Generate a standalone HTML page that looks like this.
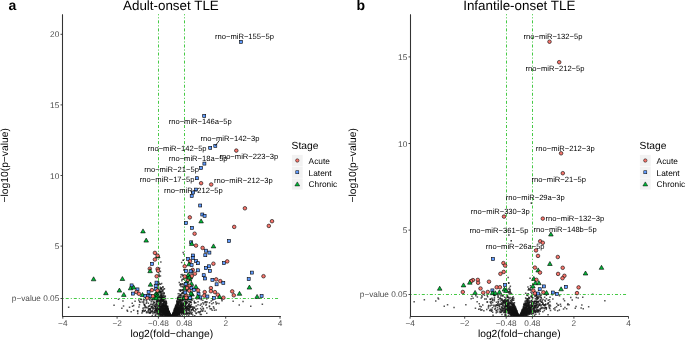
<!DOCTYPE html><html><head><meta charset="utf-8"><style>html,body{margin:0;padding:0;background:#fff;}svg{display:block;will-change:transform;text-rendering:geometricPrecision;font-family:"Liberation Sans",sans-serif;}</style></head><body>
<svg width="685" height="340" viewBox="0 0 685 340">
<rect width="685" height="340" fill="#fff"/>
<text x="8.6" y="9.8" font-size="14" font-weight="bold" fill="#000">a</text>
<text x="123.0" y="10" font-size="13.4" fill="#000">Adult-onset TLE</text>
<text x="8.5" y="165.3" font-size="10.3" fill="#000" text-anchor="middle" transform="rotate(-90 8.5 165.3)">−log10(p−value)</text>
<text x="171.75" y="337.2" font-size="10.3" fill="#000" text-anchor="middle">log2(fold−change)</text>
<path d="M163.2 304.0h1.5v1.5h-1.5zM172.8 313.4h1.5v1.5h-1.5zM160.5 314.3h1.5v1.5h-1.5zM193.5 300.5h1.5v1.5h-1.5zM172.1 313.6h1.5v1.5h-1.5zM171.1 315.6h1.5v1.5h-1.5zM178.3 309.6h1.5v1.5h-1.5zM160.1 309.2h1.5v1.5h-1.5zM171.9 314.8h1.5v1.5h-1.5zM195.7 305.2h1.5v1.5h-1.5zM168.8 313.8h1.5v1.5h-1.5zM175.5 311.9h1.5v1.5h-1.5zM173.6 314.7h1.5v1.5h-1.5zM173.2 313.8h1.5v1.5h-1.5zM169.2 313.8h1.5v1.5h-1.5zM160.0 307.3h1.5v1.5h-1.5zM163.0 303.9h1.5v1.5h-1.5zM167.9 313.0h1.5v1.5h-1.5zM171.8 315.3h1.5v1.5h-1.5zM187.8 303.9h1.5v1.5h-1.5zM170.4 315.6h1.5v1.5h-1.5zM174.9 311.1h1.5v1.5h-1.5zM172.4 314.1h1.5v1.5h-1.5zM168.3 313.3h1.5v1.5h-1.5zM173.4 315.2h1.5v1.5h-1.5zM177.3 303.4h1.5v1.5h-1.5zM171.1 315.5h1.5v1.5h-1.5zM159.7 300.4h1.5v1.5h-1.5zM174.2 310.8h1.5v1.5h-1.5zM199.9 307.8h1.5v1.5h-1.5zM160.6 310.3h1.5v1.5h-1.5zM171.3 315.6h1.5v1.5h-1.5zM157.5 304.9h1.5v1.5h-1.5zM182.6 305.3h1.5v1.5h-1.5zM161.7 297.4h1.5v1.5h-1.5zM190.2 311.6h1.5v1.5h-1.5zM144.0 305.2h1.5v1.5h-1.5zM177.2 310.8h1.5v1.5h-1.5zM173.5 310.9h1.5v1.5h-1.5zM181.4 304.2h1.5v1.5h-1.5zM155.4 307.4h1.5v1.5h-1.5zM168.6 312.7h1.5v1.5h-1.5zM183.2 295.9h1.5v1.5h-1.5zM156.9 297.9h1.5v1.5h-1.5zM173.2 313.8h1.5v1.5h-1.5zM181.3 308.2h1.5v1.5h-1.5zM180.4 307.0h1.5v1.5h-1.5zM178.3 307.4h1.5v1.5h-1.5zM165.7 313.7h1.5v1.5h-1.5zM166.1 312.3h1.5v1.5h-1.5zM162.0 310.2h1.5v1.5h-1.5zM162.4 309.6h1.5v1.5h-1.5zM169.9 315.5h1.5v1.5h-1.5zM161.5 306.0h1.5v1.5h-1.5zM175.9 309.9h1.5v1.5h-1.5zM161.3 310.7h1.5v1.5h-1.5zM176.5 310.3h1.5v1.5h-1.5zM180.0 308.9h1.5v1.5h-1.5zM261.6 303.4h1.5v1.5h-1.5zM177.7 313.2h1.5v1.5h-1.5zM167.3 310.8h1.5v1.5h-1.5zM171.3 315.5h1.5v1.5h-1.5zM170.7 315.6h1.5v1.5h-1.5zM159.0 303.6h1.5v1.5h-1.5zM176.7 298.2h1.5v1.5h-1.5zM166.3 315.1h1.5v1.5h-1.5zM168.1 314.0h1.5v1.5h-1.5zM172.0 314.9h1.5v1.5h-1.5zM163.6 298.0h1.5v1.5h-1.5zM166.7 314.7h1.5v1.5h-1.5zM169.8 315.1h1.5v1.5h-1.5zM174.6 314.4h1.5v1.5h-1.5zM187.5 307.8h1.5v1.5h-1.5zM186.2 302.0h1.5v1.5h-1.5zM166.1 308.5h1.5v1.5h-1.5zM171.7 314.3h1.5v1.5h-1.5zM188.3 305.6h1.5v1.5h-1.5zM162.3 309.6h1.5v1.5h-1.5zM176.2 311.9h1.5v1.5h-1.5zM159.7 298.2h1.5v1.5h-1.5zM166.0 313.6h1.5v1.5h-1.5zM179.8 294.3h1.5v1.5h-1.5zM179.7 311.8h1.5v1.5h-1.5zM156.2 309.7h1.5v1.5h-1.5zM172.1 313.9h1.5v1.5h-1.5zM168.5 314.8h1.5v1.5h-1.5zM168.3 314.1h1.5v1.5h-1.5zM173.0 313.3h1.5v1.5h-1.5zM180.0 306.0h1.5v1.5h-1.5zM172.6 313.3h1.5v1.5h-1.5zM164.6 312.5h1.5v1.5h-1.5zM172.1 314.5h1.5v1.5h-1.5zM173.5 314.7h1.5v1.5h-1.5zM178.7 310.2h1.5v1.5h-1.5zM170.6 315.6h1.5v1.5h-1.5zM170.2 315.4h1.5v1.5h-1.5zM157.6 305.6h1.5v1.5h-1.5zM170.7 315.6h1.5v1.5h-1.5zM176.2 309.7h1.5v1.5h-1.5zM173.3 312.3h1.5v1.5h-1.5zM171.3 315.6h1.5v1.5h-1.5zM158.9 267.4h1.5v1.5h-1.5zM176.8 311.2h1.5v1.5h-1.5zM159.6 290.4h1.5v1.5h-1.5zM171.3 315.4h1.5v1.5h-1.5zM181.2 307.0h1.5v1.5h-1.5zM164.0 309.7h1.5v1.5h-1.5zM149.5 308.9h1.5v1.5h-1.5zM162.1 310.6h1.5v1.5h-1.5zM180.6 301.9h1.5v1.5h-1.5zM173.7 313.6h1.5v1.5h-1.5zM171.9 314.7h1.5v1.5h-1.5zM160.5 309.7h1.5v1.5h-1.5zM170.2 315.6h1.5v1.5h-1.5zM165.3 313.5h1.5v1.5h-1.5zM180.8 296.3h1.5v1.5h-1.5zM161.0 293.9h1.5v1.5h-1.5zM171.4 314.8h1.5v1.5h-1.5zM174.6 310.2h1.5v1.5h-1.5zM169.2 313.2h1.5v1.5h-1.5zM162.3 295.2h1.5v1.5h-1.5zM144.2 304.9h1.5v1.5h-1.5zM171.2 315.3h1.5v1.5h-1.5zM170.6 315.6h1.5v1.5h-1.5zM175.5 312.7h1.5v1.5h-1.5zM169.0 314.5h1.5v1.5h-1.5zM185.0 301.0h1.5v1.5h-1.5zM171.5 315.5h1.5v1.5h-1.5zM160.2 311.0h1.5v1.5h-1.5zM180.5 308.1h1.5v1.5h-1.5zM193.9 302.3h1.5v1.5h-1.5zM166.0 309.6h1.5v1.5h-1.5zM176.7 311.5h1.5v1.5h-1.5zM167.0 314.1h1.5v1.5h-1.5zM154.5 312.3h1.5v1.5h-1.5zM170.6 315.6h1.5v1.5h-1.5zM171.2 315.0h1.5v1.5h-1.5zM195.1 302.0h1.5v1.5h-1.5zM188.3 310.0h1.5v1.5h-1.5zM162.7 294.3h1.5v1.5h-1.5zM168.9 315.5h1.5v1.5h-1.5zM181.7 300.3h1.5v1.5h-1.5zM159.7 296.4h1.5v1.5h-1.5zM170.0 315.5h1.5v1.5h-1.5zM162.3 312.1h1.5v1.5h-1.5zM174.9 308.6h1.5v1.5h-1.5zM172.5 314.4h1.5v1.5h-1.5zM182.5 312.0h1.5v1.5h-1.5zM190.1 301.4h1.5v1.5h-1.5zM171.0 315.6h1.5v1.5h-1.5zM159.9 312.9h1.5v1.5h-1.5zM206.2 307.0h1.5v1.5h-1.5zM193.7 307.6h1.5v1.5h-1.5zM187.2 300.3h1.5v1.5h-1.5zM174.2 312.5h1.5v1.5h-1.5zM147.4 310.5h1.5v1.5h-1.5zM169.1 314.1h1.5v1.5h-1.5zM152.7 302.6h1.5v1.5h-1.5zM167.3 312.0h1.5v1.5h-1.5zM189.4 306.7h1.5v1.5h-1.5zM178.5 300.3h1.5v1.5h-1.5zM170.1 315.5h1.5v1.5h-1.5zM175.2 314.8h1.5v1.5h-1.5zM215.4 309.3h1.5v1.5h-1.5zM174.6 307.8h1.5v1.5h-1.5zM170.3 315.5h1.5v1.5h-1.5zM166.2 313.1h1.5v1.5h-1.5zM179.7 309.6h1.5v1.5h-1.5zM181.7 314.5h1.5v1.5h-1.5zM167.8 314.2h1.5v1.5h-1.5zM179.8 304.0h1.5v1.5h-1.5zM175.1 312.7h1.5v1.5h-1.5zM169.2 315.0h1.5v1.5h-1.5zM170.2 315.6h1.5v1.5h-1.5zM159.2 312.3h1.5v1.5h-1.5zM179.3 307.5h1.5v1.5h-1.5zM165.4 310.5h1.5v1.5h-1.5zM173.4 315.0h1.5v1.5h-1.5zM157.7 283.8h1.5v1.5h-1.5zM179.0 299.0h1.5v1.5h-1.5zM171.3 315.4h1.5v1.5h-1.5zM175.1 309.0h1.5v1.5h-1.5zM168.3 312.3h1.5v1.5h-1.5zM170.6 315.6h1.5v1.5h-1.5zM167.6 314.2h1.5v1.5h-1.5zM162.7 310.5h1.5v1.5h-1.5zM180.4 304.1h1.5v1.5h-1.5zM165.3 314.1h1.5v1.5h-1.5zM177.2 311.6h1.5v1.5h-1.5zM166.3 309.5h1.5v1.5h-1.5zM173.8 314.6h1.5v1.5h-1.5zM169.2 314.4h1.5v1.5h-1.5zM174.9 308.0h1.5v1.5h-1.5zM165.3 308.8h1.5v1.5h-1.5zM185.8 305.9h1.5v1.5h-1.5zM143.6 303.7h1.5v1.5h-1.5zM167.9 313.6h1.5v1.5h-1.5zM185.7 312.1h1.5v1.5h-1.5zM163.2 302.2h1.5v1.5h-1.5zM171.7 314.9h1.5v1.5h-1.5zM169.0 315.3h1.5v1.5h-1.5zM177.5 302.7h1.5v1.5h-1.5zM177.2 313.2h1.5v1.5h-1.5zM179.9 283.1h1.5v1.5h-1.5zM160.8 312.3h1.5v1.5h-1.5zM170.7 315.6h1.5v1.5h-1.5zM172.5 315.1h1.5v1.5h-1.5zM162.9 306.0h1.5v1.5h-1.5zM177.4 308.1h1.5v1.5h-1.5zM165.2 310.9h1.5v1.5h-1.5zM159.1 289.3h1.5v1.5h-1.5zM170.6 315.6h1.5v1.5h-1.5zM169.7 314.6h1.5v1.5h-1.5zM164.2 299.8h1.5v1.5h-1.5zM166.9 314.1h1.5v1.5h-1.5zM171.0 315.5h1.5v1.5h-1.5zM170.7 315.6h1.5v1.5h-1.5zM165.8 314.6h1.5v1.5h-1.5zM170.8 315.6h1.5v1.5h-1.5zM148.8 312.0h1.5v1.5h-1.5zM160.6 298.2h1.5v1.5h-1.5zM168.9 313.6h1.5v1.5h-1.5zM172.6 313.5h1.5v1.5h-1.5zM162.6 304.1h1.5v1.5h-1.5zM169.8 315.4h1.5v1.5h-1.5zM170.1 315.6h1.5v1.5h-1.5zM165.0 311.0h1.5v1.5h-1.5zM178.5 306.6h1.5v1.5h-1.5zM181.3 299.7h1.5v1.5h-1.5zM164.4 308.4h1.5v1.5h-1.5zM238.5 304.2h1.5v1.5h-1.5zM178.4 308.2h1.5v1.5h-1.5zM153.7 311.7h1.5v1.5h-1.5zM164.0 309.7h1.5v1.5h-1.5zM164.4 311.3h1.5v1.5h-1.5zM174.7 312.6h1.5v1.5h-1.5zM167.2 309.0h1.5v1.5h-1.5zM189.3 305.0h1.5v1.5h-1.5zM177.0 309.7h1.5v1.5h-1.5zM170.5 315.6h1.5v1.5h-1.5zM171.8 315.6h1.5v1.5h-1.5zM188.7 303.5h1.5v1.5h-1.5zM174.5 313.9h1.5v1.5h-1.5zM170.8 315.6h1.5v1.5h-1.5zM184.7 307.4h1.5v1.5h-1.5zM171.6 315.2h1.5v1.5h-1.5zM164.9 311.9h1.5v1.5h-1.5zM162.0 296.7h1.5v1.5h-1.5zM164.9 309.8h1.5v1.5h-1.5zM175.4 312.4h1.5v1.5h-1.5zM157.7 281.1h1.5v1.5h-1.5zM180.1 309.1h1.5v1.5h-1.5zM170.3 315.6h1.5v1.5h-1.5zM167.6 314.0h1.5v1.5h-1.5zM195.4 305.2h1.5v1.5h-1.5zM160.9 302.1h1.5v1.5h-1.5zM175.3 306.2h1.5v1.5h-1.5zM158.5 275.8h1.5v1.5h-1.5zM176.9 307.8h1.5v1.5h-1.5zM161.5 289.4h1.5v1.5h-1.5zM152.0 304.3h1.5v1.5h-1.5zM205.6 303.5h1.5v1.5h-1.5zM154.6 311.7h1.5v1.5h-1.5zM158.0 281.8h1.5v1.5h-1.5zM167.9 314.7h1.5v1.5h-1.5zM173.4 313.5h1.5v1.5h-1.5zM187.1 306.3h1.5v1.5h-1.5zM171.2 315.6h1.5v1.5h-1.5zM168.1 314.6h1.5v1.5h-1.5zM163.0 301.2h1.5v1.5h-1.5zM168.4 313.9h1.5v1.5h-1.5zM183.7 303.0h1.5v1.5h-1.5zM180.3 302.6h1.5v1.5h-1.5zM176.8 313.1h1.5v1.5h-1.5zM166.8 312.3h1.5v1.5h-1.5zM165.5 304.9h1.5v1.5h-1.5zM164.2 300.1h1.5v1.5h-1.5zM155.8 309.1h1.5v1.5h-1.5zM161.9 307.8h1.5v1.5h-1.5zM166.4 308.5h1.5v1.5h-1.5zM184.6 309.8h1.5v1.5h-1.5zM170.7 315.6h1.5v1.5h-1.5zM150.5 310.7h1.5v1.5h-1.5zM164.6 307.4h1.5v1.5h-1.5zM172.3 313.4h1.5v1.5h-1.5zM165.4 308.1h1.5v1.5h-1.5zM159.1 304.8h1.5v1.5h-1.5zM178.9 312.0h1.5v1.5h-1.5zM169.1 314.3h1.5v1.5h-1.5zM164.5 314.2h1.5v1.5h-1.5zM178.9 298.6h1.5v1.5h-1.5zM186.0 308.1h1.5v1.5h-1.5zM166.4 308.1h1.5v1.5h-1.5zM166.8 313.6h1.5v1.5h-1.5zM163.1 302.7h1.5v1.5h-1.5zM159.3 308.5h1.5v1.5h-1.5zM167.0 311.3h1.5v1.5h-1.5zM171.1 315.5h1.5v1.5h-1.5zM165.5 314.9h1.5v1.5h-1.5zM154.5 310.1h1.5v1.5h-1.5zM176.0 310.3h1.5v1.5h-1.5zM185.5 303.1h1.5v1.5h-1.5zM164.4 308.1h1.5v1.5h-1.5zM164.4 313.1h1.5v1.5h-1.5zM200.0 310.5h1.5v1.5h-1.5zM181.1 305.4h1.5v1.5h-1.5zM168.1 314.4h1.5v1.5h-1.5zM160.8 292.6h1.5v1.5h-1.5zM166.0 312.6h1.5v1.5h-1.5zM185.2 307.3h1.5v1.5h-1.5zM171.7 315.1h1.5v1.5h-1.5zM165.9 310.0h1.5v1.5h-1.5zM164.0 311.8h1.5v1.5h-1.5zM166.5 307.3h1.5v1.5h-1.5zM186.2 298.9h1.5v1.5h-1.5zM162.4 314.7h1.5v1.5h-1.5zM179.8 300.4h1.5v1.5h-1.5zM170.3 315.6h1.5v1.5h-1.5zM160.0 302.0h1.5v1.5h-1.5zM175.1 310.8h1.5v1.5h-1.5zM171.5 315.6h1.5v1.5h-1.5zM174.9 314.2h1.5v1.5h-1.5zM149.8 311.7h1.5v1.5h-1.5zM174.0 309.9h1.5v1.5h-1.5zM143.5 310.6h1.5v1.5h-1.5zM159.9 308.8h1.5v1.5h-1.5zM168.7 314.0h1.5v1.5h-1.5zM167.3 310.8h1.5v1.5h-1.5zM163.4 313.1h1.5v1.5h-1.5zM167.5 308.7h1.5v1.5h-1.5zM183.3 309.1h1.5v1.5h-1.5zM163.2 301.2h1.5v1.5h-1.5zM167.7 310.3h1.5v1.5h-1.5zM151.5 305.9h1.5v1.5h-1.5zM160.6 311.3h1.5v1.5h-1.5zM180.4 306.7h1.5v1.5h-1.5zM185.7 307.6h1.5v1.5h-1.5zM165.4 310.8h1.5v1.5h-1.5zM171.7 315.2h1.5v1.5h-1.5zM164.7 314.0h1.5v1.5h-1.5zM184.8 304.8h1.5v1.5h-1.5zM173.4 313.2h1.5v1.5h-1.5zM172.6 314.8h1.5v1.5h-1.5zM186.6 305.5h1.5v1.5h-1.5zM176.7 311.2h1.5v1.5h-1.5zM170.6 315.6h1.5v1.5h-1.5zM175.7 306.9h1.5v1.5h-1.5zM168.2 312.4h1.5v1.5h-1.5zM180.3 306.4h1.5v1.5h-1.5zM177.0 310.5h1.5v1.5h-1.5zM175.1 308.1h1.5v1.5h-1.5zM167.5 310.2h1.5v1.5h-1.5zM172.2 313.8h1.5v1.5h-1.5zM141.9 310.1h1.5v1.5h-1.5zM179.0 302.0h1.5v1.5h-1.5zM160.6 315.0h1.5v1.5h-1.5zM171.4 315.1h1.5v1.5h-1.5zM170.1 315.5h1.5v1.5h-1.5zM168.4 313.9h1.5v1.5h-1.5zM163.6 301.5h1.5v1.5h-1.5zM167.1 312.5h1.5v1.5h-1.5zM173.7 312.6h1.5v1.5h-1.5zM186.6 313.3h1.5v1.5h-1.5zM171.5 314.9h1.5v1.5h-1.5zM182.5 259.4h1.5v1.5h-1.5zM172.8 315.1h1.5v1.5h-1.5zM150.0 303.5h1.5v1.5h-1.5zM168.9 312.9h1.5v1.5h-1.5zM154.7 305.8h1.5v1.5h-1.5zM175.9 307.6h1.5v1.5h-1.5zM171.1 315.3h1.5v1.5h-1.5zM164.4 308.1h1.5v1.5h-1.5zM179.2 305.0h1.5v1.5h-1.5zM168.2 312.6h1.5v1.5h-1.5zM157.6 310.8h1.5v1.5h-1.5zM175.8 312.7h1.5v1.5h-1.5zM170.3 315.6h1.5v1.5h-1.5zM176.8 302.3h1.5v1.5h-1.5zM170.9 315.6h1.5v1.5h-1.5zM162.6 311.7h1.5v1.5h-1.5zM181.8 298.3h1.5v1.5h-1.5zM164.6 305.6h1.5v1.5h-1.5zM180.6 309.2h1.5v1.5h-1.5zM168.9 313.7h1.5v1.5h-1.5zM171.0 315.6h1.5v1.5h-1.5zM167.9 310.7h1.5v1.5h-1.5zM166.7 315.1h1.5v1.5h-1.5zM171.0 315.6h1.5v1.5h-1.5zM171.3 315.6h1.5v1.5h-1.5zM162.8 309.2h1.5v1.5h-1.5zM165.7 307.6h1.5v1.5h-1.5zM167.8 314.0h1.5v1.5h-1.5zM169.8 315.4h1.5v1.5h-1.5zM164.7 310.3h1.5v1.5h-1.5zM168.3 314.1h1.5v1.5h-1.5zM180.1 311.8h1.5v1.5h-1.5zM165.6 311.3h1.5v1.5h-1.5zM162.4 305.1h1.5v1.5h-1.5zM159.1 297.1h1.5v1.5h-1.5zM165.1 312.5h1.5v1.5h-1.5zM164.7 313.2h1.5v1.5h-1.5zM162.1 298.7h1.5v1.5h-1.5zM178.1 300.9h1.5v1.5h-1.5zM169.3 314.4h1.5v1.5h-1.5zM166.3 310.6h1.5v1.5h-1.5zM179.7 290.1h1.5v1.5h-1.5zM173.7 315.3h1.5v1.5h-1.5zM171.2 315.2h1.5v1.5h-1.5zM191.3 308.7h1.5v1.5h-1.5zM170.0 314.8h1.5v1.5h-1.5zM177.6 297.4h1.5v1.5h-1.5zM166.0 312.0h1.5v1.5h-1.5zM174.5 309.2h1.5v1.5h-1.5zM169.0 315.3h1.5v1.5h-1.5zM178.5 308.8h1.5v1.5h-1.5zM184.9 306.4h1.5v1.5h-1.5zM173.0 314.7h1.5v1.5h-1.5zM162.7 311.0h1.5v1.5h-1.5zM161.9 290.7h1.5v1.5h-1.5zM170.1 315.2h1.5v1.5h-1.5zM168.7 313.7h1.5v1.5h-1.5zM211.9 299.2h1.5v1.5h-1.5zM170.6 315.6h1.5v1.5h-1.5zM158.5 305.3h1.5v1.5h-1.5zM173.3 310.5h1.5v1.5h-1.5zM170.3 315.4h1.5v1.5h-1.5zM177.2 307.4h1.5v1.5h-1.5zM163.0 301.2h1.5v1.5h-1.5zM171.6 315.2h1.5v1.5h-1.5zM168.6 315.2h1.5v1.5h-1.5zM180.5 311.0h1.5v1.5h-1.5zM177.1 312.4h1.5v1.5h-1.5zM173.9 313.2h1.5v1.5h-1.5zM173.0 314.1h1.5v1.5h-1.5zM146.1 301.3h1.5v1.5h-1.5zM183.2 292.3h1.5v1.5h-1.5zM167.2 311.4h1.5v1.5h-1.5zM168.3 312.7h1.5v1.5h-1.5zM165.6 301.1h1.5v1.5h-1.5zM178.7 313.4h1.5v1.5h-1.5zM181.1 309.8h1.5v1.5h-1.5zM161.4 313.9h1.5v1.5h-1.5zM159.6 299.2h1.5v1.5h-1.5zM211.1 303.1h1.5v1.5h-1.5zM168.5 315.4h1.5v1.5h-1.5zM161.0 305.3h1.5v1.5h-1.5zM165.0 304.1h1.5v1.5h-1.5zM157.3 312.2h1.5v1.5h-1.5zM172.7 313.9h1.5v1.5h-1.5zM166.2 308.9h1.5v1.5h-1.5zM175.8 310.7h1.5v1.5h-1.5zM171.6 314.5h1.5v1.5h-1.5zM165.4 314.2h1.5v1.5h-1.5zM186.3 302.5h1.5v1.5h-1.5zM179.8 312.0h1.5v1.5h-1.5zM169.2 314.7h1.5v1.5h-1.5zM173.0 311.9h1.5v1.5h-1.5zM166.4 311.2h1.5v1.5h-1.5zM178.2 309.0h1.5v1.5h-1.5zM172.2 315.1h1.5v1.5h-1.5zM189.6 311.7h1.5v1.5h-1.5zM163.2 292.3h1.5v1.5h-1.5zM188.1 308.4h1.5v1.5h-1.5zM166.3 313.8h1.5v1.5h-1.5zM174.8 313.7h1.5v1.5h-1.5zM170.8 315.6h1.5v1.5h-1.5zM171.2 315.5h1.5v1.5h-1.5zM159.2 313.9h1.5v1.5h-1.5zM175.1 306.9h1.5v1.5h-1.5zM164.9 304.3h1.5v1.5h-1.5zM178.3 310.0h1.5v1.5h-1.5zM169.1 315.4h1.5v1.5h-1.5zM170.6 315.6h1.5v1.5h-1.5zM176.9 309.3h1.5v1.5h-1.5zM171.8 314.3h1.5v1.5h-1.5zM128.8 306.6h1.5v1.5h-1.5zM151.8 307.5h1.5v1.5h-1.5zM156.1 302.2h1.5v1.5h-1.5zM148.0 308.4h1.5v1.5h-1.5zM167.6 315.0h1.5v1.5h-1.5zM164.9 311.9h1.5v1.5h-1.5zM172.5 313.8h1.5v1.5h-1.5zM192.0 307.7h1.5v1.5h-1.5zM176.5 313.5h1.5v1.5h-1.5zM148.1 310.8h1.5v1.5h-1.5zM164.7 307.8h1.5v1.5h-1.5zM179.9 303.9h1.5v1.5h-1.5zM180.9 261.8h1.5v1.5h-1.5zM184.7 307.9h1.5v1.5h-1.5zM162.1 309.8h1.5v1.5h-1.5zM159.8 283.5h1.5v1.5h-1.5zM160.1 305.6h1.5v1.5h-1.5zM175.4 311.3h1.5v1.5h-1.5zM167.8 314.0h1.5v1.5h-1.5zM176.8 312.4h1.5v1.5h-1.5zM181.0 307.0h1.5v1.5h-1.5zM170.8 315.6h1.5v1.5h-1.5zM205.2 304.4h1.5v1.5h-1.5zM170.9 315.6h1.5v1.5h-1.5zM183.5 297.6h1.5v1.5h-1.5z" fill="#111" fill-opacity="0.72"/>
<path d="M179.7 283.7h1.5v1.5h-1.5zM164.2 308.8h1.5v1.5h-1.5zM167.4 311.4h1.5v1.5h-1.5zM180.2 308.1h1.5v1.5h-1.5zM169.8 315.1h1.5v1.5h-1.5zM159.8 313.5h1.5v1.5h-1.5zM170.9 315.6h1.5v1.5h-1.5zM182.6 259.4h1.5v1.5h-1.5zM182.8 304.7h1.5v1.5h-1.5zM168.0 312.3h1.5v1.5h-1.5zM182.8 304.4h1.5v1.5h-1.5zM168.6 314.7h1.5v1.5h-1.5zM185.1 301.1h1.5v1.5h-1.5zM170.2 315.4h1.5v1.5h-1.5zM177.4 313.1h1.5v1.5h-1.5zM159.6 307.3h1.5v1.5h-1.5zM169.2 314.6h1.5v1.5h-1.5zM172.9 311.8h1.5v1.5h-1.5zM165.4 306.4h1.5v1.5h-1.5zM172.9 315.0h1.5v1.5h-1.5zM161.3 300.5h1.5v1.5h-1.5zM174.1 311.7h1.5v1.5h-1.5zM171.9 315.1h1.5v1.5h-1.5zM145.1 307.0h1.5v1.5h-1.5zM182.0 291.6h1.5v1.5h-1.5zM180.6 303.3h1.5v1.5h-1.5zM171.9 314.2h1.5v1.5h-1.5zM174.4 313.7h1.5v1.5h-1.5zM164.0 309.7h1.5v1.5h-1.5zM189.5 307.0h1.5v1.5h-1.5zM168.8 313.7h1.5v1.5h-1.5zM179.8 304.0h1.5v1.5h-1.5zM174.3 311.1h1.5v1.5h-1.5zM161.0 309.9h1.5v1.5h-1.5zM173.2 313.6h1.5v1.5h-1.5zM173.8 311.4h1.5v1.5h-1.5zM165.9 311.6h1.5v1.5h-1.5zM155.5 305.0h1.5v1.5h-1.5zM165.4 313.3h1.5v1.5h-1.5zM177.2 313.1h1.5v1.5h-1.5zM181.4 310.4h1.5v1.5h-1.5zM173.7 312.3h1.5v1.5h-1.5zM168.0 311.3h1.5v1.5h-1.5zM160.6 309.7h1.5v1.5h-1.5zM170.3 315.6h1.5v1.5h-1.5zM131.5 302.4h1.5v1.5h-1.5zM180.6 309.5h1.5v1.5h-1.5zM172.1 314.9h1.5v1.5h-1.5zM163.3 310.4h1.5v1.5h-1.5zM149.2 299.6h1.5v1.5h-1.5zM188.6 308.0h1.5v1.5h-1.5zM173.1 312.3h1.5v1.5h-1.5zM169.3 315.3h1.5v1.5h-1.5zM166.3 310.9h1.5v1.5h-1.5zM166.6 308.7h1.5v1.5h-1.5zM165.9 313.1h1.5v1.5h-1.5zM170.2 315.4h1.5v1.5h-1.5zM171.4 315.4h1.5v1.5h-1.5zM174.1 312.1h1.5v1.5h-1.5zM155.7 309.7h1.5v1.5h-1.5zM166.1 312.8h1.5v1.5h-1.5zM180.9 311.3h1.5v1.5h-1.5zM176.5 314.5h1.5v1.5h-1.5zM162.2 313.2h1.5v1.5h-1.5zM171.9 313.6h1.5v1.5h-1.5zM158.0 314.9h1.5v1.5h-1.5zM145.5 302.6h1.5v1.5h-1.5zM174.5 311.7h1.5v1.5h-1.5zM166.0 306.0h1.5v1.5h-1.5zM156.3 310.0h1.5v1.5h-1.5zM160.6 294.9h1.5v1.5h-1.5zM182.4 251.7h1.5v1.5h-1.5zM171.3 315.2h1.5v1.5h-1.5zM166.1 306.1h1.5v1.5h-1.5zM149.6 312.3h1.5v1.5h-1.5zM171.8 315.1h1.5v1.5h-1.5zM172.1 315.4h1.5v1.5h-1.5zM167.5 313.6h1.5v1.5h-1.5zM172.3 315.2h1.5v1.5h-1.5zM172.8 312.6h1.5v1.5h-1.5zM166.1 310.9h1.5v1.5h-1.5zM170.2 315.6h1.5v1.5h-1.5zM150.8 310.5h1.5v1.5h-1.5zM174.0 313.7h1.5v1.5h-1.5zM181.0 311.4h1.5v1.5h-1.5zM171.7 315.0h1.5v1.5h-1.5zM160.5 310.8h1.5v1.5h-1.5zM160.9 282.7h1.5v1.5h-1.5zM180.8 309.7h1.5v1.5h-1.5zM180.0 312.1h1.5v1.5h-1.5zM169.9 315.3h1.5v1.5h-1.5zM177.6 309.3h1.5v1.5h-1.5zM165.6 308.5h1.5v1.5h-1.5zM185.9 307.5h1.5v1.5h-1.5zM182.6 310.2h1.5v1.5h-1.5zM166.1 313.6h1.5v1.5h-1.5zM169.2 315.1h1.5v1.5h-1.5zM182.5 278.3h1.5v1.5h-1.5zM170.7 315.6h1.5v1.5h-1.5zM170.5 315.6h1.5v1.5h-1.5zM166.5 312.6h1.5v1.5h-1.5zM173.0 312.8h1.5v1.5h-1.5zM170.7 315.6h1.5v1.5h-1.5zM188.0 303.5h1.5v1.5h-1.5zM168.0 313.1h1.5v1.5h-1.5zM165.8 306.6h1.5v1.5h-1.5zM143.6 304.1h1.5v1.5h-1.5zM131.8 305.4h1.5v1.5h-1.5zM155.0 297.9h1.5v1.5h-1.5zM165.2 302.3h1.5v1.5h-1.5zM163.6 307.8h1.5v1.5h-1.5zM178.9 309.0h1.5v1.5h-1.5zM159.2 299.5h1.5v1.5h-1.5zM179.8 309.1h1.5v1.5h-1.5zM161.6 296.8h1.5v1.5h-1.5zM185.0 297.7h1.5v1.5h-1.5zM160.6 311.1h1.5v1.5h-1.5zM176.5 310.1h1.5v1.5h-1.5zM189.8 301.4h1.5v1.5h-1.5zM177.1 303.4h1.5v1.5h-1.5zM151.2 303.5h1.5v1.5h-1.5zM180.0 304.6h1.5v1.5h-1.5zM172.0 314.7h1.5v1.5h-1.5zM166.7 314.2h1.5v1.5h-1.5zM171.2 315.1h1.5v1.5h-1.5zM168.5 313.3h1.5v1.5h-1.5zM168.7 313.4h1.5v1.5h-1.5zM170.2 315.3h1.5v1.5h-1.5zM171.8 314.2h1.5v1.5h-1.5zM171.5 314.5h1.5v1.5h-1.5zM174.3 313.4h1.5v1.5h-1.5zM175.7 313.1h1.5v1.5h-1.5zM178.3 303.6h1.5v1.5h-1.5zM166.9 313.8h1.5v1.5h-1.5zM183.3 313.1h1.5v1.5h-1.5zM166.7 312.5h1.5v1.5h-1.5zM168.9 314.0h1.5v1.5h-1.5zM170.2 315.4h1.5v1.5h-1.5zM170.0 315.2h1.5v1.5h-1.5zM173.0 313.7h1.5v1.5h-1.5zM172.1 314.6h1.5v1.5h-1.5zM170.1 315.2h1.5v1.5h-1.5zM167.5 313.3h1.5v1.5h-1.5zM177.2 307.4h1.5v1.5h-1.5zM162.3 310.4h1.5v1.5h-1.5zM178.6 301.8h1.5v1.5h-1.5zM176.4 301.4h1.5v1.5h-1.5zM187.2 308.3h1.5v1.5h-1.5zM181.6 299.5h1.5v1.5h-1.5zM173.0 314.0h1.5v1.5h-1.5zM179.7 315.0h1.5v1.5h-1.5zM162.8 311.6h1.5v1.5h-1.5zM159.5 303.0h1.5v1.5h-1.5zM175.4 312.4h1.5v1.5h-1.5zM170.2 315.6h1.5v1.5h-1.5zM165.0 308.1h1.5v1.5h-1.5zM169.5 313.8h1.5v1.5h-1.5zM171.1 315.5h1.5v1.5h-1.5zM161.1 305.8h1.5v1.5h-1.5zM174.8 306.2h1.5v1.5h-1.5zM181.5 285.8h1.5v1.5h-1.5zM173.9 309.6h1.5v1.5h-1.5zM188.6 303.1h1.5v1.5h-1.5zM170.8 315.6h1.5v1.5h-1.5zM175.1 309.7h1.5v1.5h-1.5zM171.3 315.2h1.5v1.5h-1.5zM159.4 296.6h1.5v1.5h-1.5zM136.9 310.8h1.5v1.5h-1.5zM168.9 314.3h1.5v1.5h-1.5zM165.1 301.1h1.5v1.5h-1.5zM175.3 307.3h1.5v1.5h-1.5zM172.8 312.7h1.5v1.5h-1.5zM162.7 309.3h1.5v1.5h-1.5zM170.7 315.6h1.5v1.5h-1.5zM177.7 310.8h1.5v1.5h-1.5zM173.2 313.8h1.5v1.5h-1.5zM172.8 313.0h1.5v1.5h-1.5zM174.2 312.7h1.5v1.5h-1.5zM159.2 310.7h1.5v1.5h-1.5zM178.0 315.3h1.5v1.5h-1.5zM170.5 315.6h1.5v1.5h-1.5zM164.7 312.3h1.5v1.5h-1.5zM166.5 313.2h1.5v1.5h-1.5zM181.7 307.6h1.5v1.5h-1.5zM162.9 302.4h1.5v1.5h-1.5zM166.5 309.6h1.5v1.5h-1.5zM162.8 311.8h1.5v1.5h-1.5zM159.8 302.6h1.5v1.5h-1.5zM172.6 314.6h1.5v1.5h-1.5zM177.5 310.9h1.5v1.5h-1.5zM170.4 315.6h1.5v1.5h-1.5zM178.5 308.4h1.5v1.5h-1.5zM179.9 288.9h1.5v1.5h-1.5zM174.0 310.7h1.5v1.5h-1.5zM175.4 309.0h1.5v1.5h-1.5zM178.9 298.1h1.5v1.5h-1.5zM157.8 303.4h1.5v1.5h-1.5zM171.1 315.6h1.5v1.5h-1.5zM159.5 296.6h1.5v1.5h-1.5zM160.7 290.5h1.5v1.5h-1.5zM170.1 315.5h1.5v1.5h-1.5zM163.8 314.1h1.5v1.5h-1.5zM186.2 306.6h1.5v1.5h-1.5zM201.4 305.8h1.5v1.5h-1.5zM172.9 315.1h1.5v1.5h-1.5zM176.2 310.2h1.5v1.5h-1.5zM171.1 315.6h1.5v1.5h-1.5zM170.0 314.9h1.5v1.5h-1.5zM151.3 310.9h1.5v1.5h-1.5zM188.2 305.6h1.5v1.5h-1.5zM165.4 306.2h1.5v1.5h-1.5zM162.4 300.4h1.5v1.5h-1.5zM170.9 315.6h1.5v1.5h-1.5zM185.0 302.6h1.5v1.5h-1.5zM178.1 301.4h1.5v1.5h-1.5zM181.4 311.0h1.5v1.5h-1.5zM175.2 313.6h1.5v1.5h-1.5zM192.0 314.3h1.5v1.5h-1.5zM167.8 314.0h1.5v1.5h-1.5zM171.9 315.6h1.5v1.5h-1.5zM167.6 314.7h1.5v1.5h-1.5zM186.0 306.5h1.5v1.5h-1.5zM242.3 300.7h1.5v1.5h-1.5zM176.4 311.5h1.5v1.5h-1.5zM169.9 315.4h1.5v1.5h-1.5zM165.4 312.9h1.5v1.5h-1.5zM159.0 309.6h1.5v1.5h-1.5zM169.9 314.9h1.5v1.5h-1.5zM166.5 312.5h1.5v1.5h-1.5zM167.5 314.3h1.5v1.5h-1.5zM171.4 315.6h1.5v1.5h-1.5zM169.3 314.4h1.5v1.5h-1.5zM161.3 310.7h1.5v1.5h-1.5zM162.8 312.2h1.5v1.5h-1.5zM170.2 315.6h1.5v1.5h-1.5zM140.0 298.4h1.5v1.5h-1.5zM170.8 315.6h1.5v1.5h-1.5zM179.7 306.4h1.5v1.5h-1.5zM173.8 313.5h1.5v1.5h-1.5zM169.5 315.2h1.5v1.5h-1.5zM175.0 307.1h1.5v1.5h-1.5zM163.6 309.4h1.5v1.5h-1.5zM176.9 308.0h1.5v1.5h-1.5zM161.1 303.6h1.5v1.5h-1.5zM171.3 315.1h1.5v1.5h-1.5zM177.7 312.3h1.5v1.5h-1.5zM159.7 305.6h1.5v1.5h-1.5zM177.2 298.2h1.5v1.5h-1.5zM168.6 312.0h1.5v1.5h-1.5zM170.3 315.6h1.5v1.5h-1.5zM172.3 313.9h1.5v1.5h-1.5zM137.0 312.7h1.5v1.5h-1.5zM171.8 315.6h1.5v1.5h-1.5zM166.5 305.7h1.5v1.5h-1.5zM173.7 309.8h1.5v1.5h-1.5zM172.4 312.9h1.5v1.5h-1.5zM170.7 315.6h1.5v1.5h-1.5zM167.1 314.1h1.5v1.5h-1.5zM167.7 312.6h1.5v1.5h-1.5zM169.2 314.1h1.5v1.5h-1.5zM180.5 305.2h1.5v1.5h-1.5zM179.3 302.8h1.5v1.5h-1.5zM158.6 290.6h1.5v1.5h-1.5zM177.2 312.1h1.5v1.5h-1.5zM168.4 313.9h1.5v1.5h-1.5zM174.5 309.6h1.5v1.5h-1.5zM178.5 305.1h1.5v1.5h-1.5zM154.6 306.4h1.5v1.5h-1.5zM178.7 311.3h1.5v1.5h-1.5zM171.1 315.6h1.5v1.5h-1.5zM171.1 315.5h1.5v1.5h-1.5zM159.7 270.8h1.5v1.5h-1.5zM177.5 298.5h1.5v1.5h-1.5zM175.2 312.1h1.5v1.5h-1.5zM171.4 315.5h1.5v1.5h-1.5zM177.0 301.0h1.5v1.5h-1.5zM172.4 313.8h1.5v1.5h-1.5zM166.1 311.1h1.5v1.5h-1.5zM169.4 313.5h1.5v1.5h-1.5zM170.6 315.6h1.5v1.5h-1.5zM160.6 297.4h1.5v1.5h-1.5zM156.0 300.5h1.5v1.5h-1.5zM167.4 313.6h1.5v1.5h-1.5zM178.1 310.8h1.5v1.5h-1.5zM176.1 311.4h1.5v1.5h-1.5zM195.3 312.3h1.5v1.5h-1.5zM158.5 306.1h1.5v1.5h-1.5zM171.6 315.0h1.5v1.5h-1.5zM142.5 309.3h1.5v1.5h-1.5zM162.9 312.3h1.5v1.5h-1.5zM176.8 310.2h1.5v1.5h-1.5zM166.6 313.4h1.5v1.5h-1.5zM161.9 305.0h1.5v1.5h-1.5zM174.3 314.9h1.5v1.5h-1.5zM173.0 314.2h1.5v1.5h-1.5zM190.7 313.1h1.5v1.5h-1.5zM166.8 314.1h1.5v1.5h-1.5zM154.7 314.6h1.5v1.5h-1.5zM174.0 309.3h1.5v1.5h-1.5zM181.1 308.8h1.5v1.5h-1.5zM185.4 308.0h1.5v1.5h-1.5zM139.3 301.5h1.5v1.5h-1.5zM166.6 307.5h1.5v1.5h-1.5zM173.0 314.6h1.5v1.5h-1.5zM174.0 314.9h1.5v1.5h-1.5zM184.5 300.5h1.5v1.5h-1.5zM121.1 307.6h1.5v1.5h-1.5zM177.8 307.2h1.5v1.5h-1.5zM166.8 313.2h1.5v1.5h-1.5zM168.3 310.7h1.5v1.5h-1.5zM172.5 314.4h1.5v1.5h-1.5zM208.7 305.3h1.5v1.5h-1.5zM171.1 315.6h1.5v1.5h-1.5zM188.4 309.3h1.5v1.5h-1.5zM183.7 303.5h1.5v1.5h-1.5zM184.9 306.8h1.5v1.5h-1.5zM197.3 304.0h1.5v1.5h-1.5zM174.8 312.5h1.5v1.5h-1.5zM169.7 315.5h1.5v1.5h-1.5zM176.4 306.5h1.5v1.5h-1.5zM178.5 312.0h1.5v1.5h-1.5zM161.7 298.5h1.5v1.5h-1.5zM156.3 307.9h1.5v1.5h-1.5zM183.4 298.1h1.5v1.5h-1.5zM168.7 315.2h1.5v1.5h-1.5zM172.0 315.0h1.5v1.5h-1.5zM169.7 314.8h1.5v1.5h-1.5zM173.1 315.5h1.5v1.5h-1.5zM163.4 300.7h1.5v1.5h-1.5zM161.3 314.5h1.5v1.5h-1.5zM152.4 300.8h1.5v1.5h-1.5zM175.6 314.0h1.5v1.5h-1.5zM173.8 314.0h1.5v1.5h-1.5zM145.2 297.8h1.5v1.5h-1.5zM162.3 312.1h1.5v1.5h-1.5zM167.7 310.8h1.5v1.5h-1.5zM175.9 306.2h1.5v1.5h-1.5zM167.1 313.7h1.5v1.5h-1.5zM166.9 313.7h1.5v1.5h-1.5zM182.0 296.8h1.5v1.5h-1.5zM169.6 315.6h1.5v1.5h-1.5zM166.4 312.3h1.5v1.5h-1.5zM168.6 314.9h1.5v1.5h-1.5zM167.4 309.3h1.5v1.5h-1.5zM172.0 314.4h1.5v1.5h-1.5zM141.8 310.0h1.5v1.5h-1.5zM177.1 301.0h1.5v1.5h-1.5zM206.0 298.3h1.5v1.5h-1.5zM170.1 315.2h1.5v1.5h-1.5zM159.6 294.4h1.5v1.5h-1.5zM173.8 314.5h1.5v1.5h-1.5zM157.2 310.6h1.5v1.5h-1.5zM166.3 309.4h1.5v1.5h-1.5zM163.1 297.0h1.5v1.5h-1.5zM172.4 314.4h1.5v1.5h-1.5zM177.6 309.5h1.5v1.5h-1.5zM177.3 313.9h1.5v1.5h-1.5zM163.0 298.8h1.5v1.5h-1.5zM158.7 307.0h1.5v1.5h-1.5zM165.3 300.2h1.5v1.5h-1.5zM168.6 313.3h1.5v1.5h-1.5zM168.6 312.5h1.5v1.5h-1.5zM183.4 307.6h1.5v1.5h-1.5zM126.8 310.5h1.5v1.5h-1.5zM160.5 297.8h1.5v1.5h-1.5zM181.4 310.7h1.5v1.5h-1.5zM159.4 292.5h1.5v1.5h-1.5zM169.9 315.5h1.5v1.5h-1.5zM170.0 314.9h1.5v1.5h-1.5zM200.6 313.7h1.5v1.5h-1.5zM193.7 306.5h1.5v1.5h-1.5zM157.1 309.0h1.5v1.5h-1.5zM170.8 315.6h1.5v1.5h-1.5zM179.5 308.8h1.5v1.5h-1.5zM168.5 312.9h1.5v1.5h-1.5zM175.5 311.5h1.5v1.5h-1.5zM172.0 314.9h1.5v1.5h-1.5zM177.5 310.3h1.5v1.5h-1.5zM158.9 304.1h1.5v1.5h-1.5zM176.0 307.2h1.5v1.5h-1.5zM174.3 309.4h1.5v1.5h-1.5zM163.7 313.0h1.5v1.5h-1.5zM168.6 313.4h1.5v1.5h-1.5zM174.5 312.0h1.5v1.5h-1.5zM170.0 315.6h1.5v1.5h-1.5zM178.5 301.6h1.5v1.5h-1.5zM173.7 314.5h1.5v1.5h-1.5zM168.3 313.0h1.5v1.5h-1.5zM169.1 315.2h1.5v1.5h-1.5zM67.9 306.4h1.5v1.5h-1.5zM150.4 310.8h1.5v1.5h-1.5zM159.5 306.6h1.5v1.5h-1.5zM176.7 312.6h1.5v1.5h-1.5zM173.2 309.4h1.5v1.5h-1.5zM158.8 305.2h1.5v1.5h-1.5zM177.8 312.7h1.5v1.5h-1.5zM171.6 314.5h1.5v1.5h-1.5zM182.8 308.0h1.5v1.5h-1.5zM176.2 309.9h1.5v1.5h-1.5zM170.8 315.6h1.5v1.5h-1.5zM150.4 305.5h1.5v1.5h-1.5zM160.1 308.9h1.5v1.5h-1.5zM175.0 310.5h1.5v1.5h-1.5zM178.0 297.0h1.5v1.5h-1.5zM191.1 306.4h1.5v1.5h-1.5zM169.0 315.3h1.5v1.5h-1.5zM182.3 311.7h1.5v1.5h-1.5zM173.0 313.1h1.5v1.5h-1.5zM171.2 315.3h1.5v1.5h-1.5zM171.2 315.4h1.5v1.5h-1.5zM183.2 253.6h1.5v1.5h-1.5zM170.8 315.6h1.5v1.5h-1.5zM168.0 312.3h1.5v1.5h-1.5zM170.3 315.6h1.5v1.5h-1.5zM175.4 312.6h1.5v1.5h-1.5zM171.3 315.1h1.5v1.5h-1.5zM150.7 307.1h1.5v1.5h-1.5zM170.2 315.2h1.5v1.5h-1.5zM167.9 313.6h1.5v1.5h-1.5zM159.7 295.2h1.5v1.5h-1.5zM179.9 306.9h1.5v1.5h-1.5zM165.5 313.9h1.5v1.5h-1.5zM164.0 313.4h1.5v1.5h-1.5zM163.1 304.2h1.5v1.5h-1.5zM175.4 312.1h1.5v1.5h-1.5zM158.3 311.7h1.5v1.5h-1.5zM166.6 309.2h1.5v1.5h-1.5zM165.8 302.7h1.5v1.5h-1.5zM155.3 303.4h1.5v1.5h-1.5zM176.4 313.5h1.5v1.5h-1.5zM163.5 311.1h1.5v1.5h-1.5zM161.8 306.9h1.5v1.5h-1.5zM174.2 313.1h1.5v1.5h-1.5zM174.9 313.0h1.5v1.5h-1.5zM172.0 314.5h1.5v1.5h-1.5zM175.6 309.5h1.5v1.5h-1.5zM174.2 311.2h1.5v1.5h-1.5zM171.1 315.6h1.5v1.5h-1.5zM164.9 311.1h1.5v1.5h-1.5zM173.6 310.3h1.5v1.5h-1.5zM183.4 290.5h1.5v1.5h-1.5zM180.7 299.5h1.5v1.5h-1.5zM152.2 313.0h1.5v1.5h-1.5zM176.5 304.3h1.5v1.5h-1.5zM163.3 293.1h1.5v1.5h-1.5zM166.4 307.7h1.5v1.5h-1.5zM170.3 315.6h1.5v1.5h-1.5zM165.3 310.4h1.5v1.5h-1.5zM169.5 314.8h1.5v1.5h-1.5zM163.3 311.6h1.5v1.5h-1.5zM163.7 313.3h1.5v1.5h-1.5zM165.9 302.4h1.5v1.5h-1.5zM162.2 290.0h1.5v1.5h-1.5zM180.1 301.0h1.5v1.5h-1.5zM176.5 301.1h1.5v1.5h-1.5zM180.0 276.3h1.5v1.5h-1.5zM161.4 292.5h1.5v1.5h-1.5zM190.5 298.8h1.5v1.5h-1.5zM168.0 311.6h1.5v1.5h-1.5zM172.0 314.7h1.5v1.5h-1.5zM161.3 299.7h1.5v1.5h-1.5zM183.9 306.2h1.5v1.5h-1.5zM161.1 303.2h1.5v1.5h-1.5zM174.6 308.5h1.5v1.5h-1.5zM165.8 310.9h1.5v1.5h-1.5zM175.5 310.3h1.5v1.5h-1.5zM172.7 315.0h1.5v1.5h-1.5zM176.0 308.6h1.5v1.5h-1.5zM169.5 314.6h1.5v1.5h-1.5zM168.1 313.3h1.5v1.5h-1.5zM212.6 302.1h1.5v1.5h-1.5zM164.1 305.7h1.5v1.5h-1.5zM173.8 315.6h1.5v1.5h-1.5zM169.6 315.0h1.5v1.5h-1.5zM177.5 308.3h1.5v1.5h-1.5zM161.7 295.6h1.5v1.5h-1.5zM192.3 308.3h1.5v1.5h-1.5zM165.1 306.3h1.5v1.5h-1.5zM179.9 312.1h1.5v1.5h-1.5zM193.7 301.8h1.5v1.5h-1.5zM169.7 315.2h1.5v1.5h-1.5zM167.7 313.9h1.5v1.5h-1.5zM151.4 310.4h1.5v1.5h-1.5zM185.2 312.8h1.5v1.5h-1.5zM157.7 294.9h1.5v1.5h-1.5zM170.1 315.3h1.5v1.5h-1.5zM178.6 313.8h1.5v1.5h-1.5zM168.4 314.7h1.5v1.5h-1.5zM156.0 313.0h1.5v1.5h-1.5zM164.6 295.4h1.5v1.5h-1.5zM178.1 304.9h1.5v1.5h-1.5zM167.3 309.0h1.5v1.5h-1.5zM170.2 315.6h1.5v1.5h-1.5zM188.7 301.0h1.5v1.5h-1.5zM191.8 308.5h1.5v1.5h-1.5zM175.0 310.0h1.5v1.5h-1.5zM165.9 310.5h1.5v1.5h-1.5zM164.2 311.9h1.5v1.5h-1.5zM153.6 310.0h1.5v1.5h-1.5zM170.2 315.2h1.5v1.5h-1.5z" fill="#111" fill-opacity="0.72"/>
<path d="M174.7 312.6h1.5v1.5h-1.5zM158.0 299.7h1.5v1.5h-1.5zM172.2 314.7h1.5v1.5h-1.5zM171.0 315.6h1.5v1.5h-1.5zM181.7 308.3h1.5v1.5h-1.5zM163.1 305.0h1.5v1.5h-1.5zM166.6 311.9h1.5v1.5h-1.5zM179.2 297.9h1.5v1.5h-1.5zM175.8 313.7h1.5v1.5h-1.5zM213.3 307.4h1.5v1.5h-1.5zM164.4 314.5h1.5v1.5h-1.5zM166.2 313.1h1.5v1.5h-1.5zM162.9 299.9h1.5v1.5h-1.5zM161.8 304.2h1.5v1.5h-1.5zM138.8 300.8h1.5v1.5h-1.5zM169.6 315.1h1.5v1.5h-1.5zM175.9 306.9h1.5v1.5h-1.5zM176.8 300.3h1.5v1.5h-1.5zM138.7 304.0h1.5v1.5h-1.5zM182.2 289.0h1.5v1.5h-1.5zM173.9 309.3h1.5v1.5h-1.5zM173.3 314.2h1.5v1.5h-1.5zM188.5 312.7h1.5v1.5h-1.5zM179.1 306.9h1.5v1.5h-1.5zM168.5 312.0h1.5v1.5h-1.5zM196.8 308.1h1.5v1.5h-1.5zM176.4 305.8h1.5v1.5h-1.5zM161.7 307.7h1.5v1.5h-1.5zM174.9 309.0h1.5v1.5h-1.5zM169.4 314.2h1.5v1.5h-1.5zM176.9 297.0h1.5v1.5h-1.5zM177.6 313.3h1.5v1.5h-1.5zM169.2 315.1h1.5v1.5h-1.5zM212.7 306.0h1.5v1.5h-1.5zM174.5 314.9h1.5v1.5h-1.5zM205.5 301.3h1.5v1.5h-1.5zM157.5 300.3h1.5v1.5h-1.5zM173.8 313.2h1.5v1.5h-1.5zM174.3 308.8h1.5v1.5h-1.5zM188.2 307.3h1.5v1.5h-1.5zM173.7 315.6h1.5v1.5h-1.5zM166.0 307.8h1.5v1.5h-1.5zM172.6 312.5h1.5v1.5h-1.5zM157.1 299.3h1.5v1.5h-1.5zM175.3 312.1h1.5v1.5h-1.5zM177.1 313.1h1.5v1.5h-1.5zM167.0 313.4h1.5v1.5h-1.5zM202.2 301.9h1.5v1.5h-1.5zM165.0 312.5h1.5v1.5h-1.5zM168.1 315.6h1.5v1.5h-1.5zM163.6 308.0h1.5v1.5h-1.5zM170.8 315.6h1.5v1.5h-1.5zM176.3 308.4h1.5v1.5h-1.5zM173.4 313.2h1.5v1.5h-1.5zM164.5 309.2h1.5v1.5h-1.5zM166.9 305.4h1.5v1.5h-1.5zM169.3 313.7h1.5v1.5h-1.5zM162.9 288.6h1.5v1.5h-1.5zM173.2 314.0h1.5v1.5h-1.5zM173.6 314.7h1.5v1.5h-1.5zM160.8 307.3h1.5v1.5h-1.5zM150.5 301.0h1.5v1.5h-1.5zM175.1 312.5h1.5v1.5h-1.5zM168.0 314.7h1.5v1.5h-1.5zM179.8 307.6h1.5v1.5h-1.5zM163.1 311.9h1.5v1.5h-1.5zM181.5 311.4h1.5v1.5h-1.5zM171.8 315.4h1.5v1.5h-1.5zM170.6 315.6h1.5v1.5h-1.5zM145.8 311.9h1.5v1.5h-1.5zM165.5 307.9h1.5v1.5h-1.5zM164.8 298.0h1.5v1.5h-1.5zM160.9 293.7h1.5v1.5h-1.5zM174.9 312.9h1.5v1.5h-1.5zM177.7 295.4h1.5v1.5h-1.5zM167.2 311.7h1.5v1.5h-1.5zM170.9 315.6h1.5v1.5h-1.5zM170.2 315.3h1.5v1.5h-1.5zM160.1 261.2h1.5v1.5h-1.5zM168.9 313.6h1.5v1.5h-1.5zM183.2 269.0h1.5v1.5h-1.5zM164.5 305.7h1.5v1.5h-1.5zM173.0 312.9h1.5v1.5h-1.5zM168.8 315.4h1.5v1.5h-1.5zM175.6 303.8h1.5v1.5h-1.5zM187.2 305.1h1.5v1.5h-1.5zM168.7 314.5h1.5v1.5h-1.5zM161.1 312.3h1.5v1.5h-1.5zM190.2 305.6h1.5v1.5h-1.5zM168.3 314.9h1.5v1.5h-1.5zM177.6 312.6h1.5v1.5h-1.5zM171.3 315.3h1.5v1.5h-1.5zM166.3 309.4h1.5v1.5h-1.5zM160.6 310.1h1.5v1.5h-1.5zM172.3 314.4h1.5v1.5h-1.5zM159.9 293.7h1.5v1.5h-1.5zM171.1 315.6h1.5v1.5h-1.5zM168.7 314.5h1.5v1.5h-1.5zM169.9 315.1h1.5v1.5h-1.5zM175.2 310.7h1.5v1.5h-1.5zM161.3 310.7h1.5v1.5h-1.5zM164.1 305.7h1.5v1.5h-1.5zM177.9 304.6h1.5v1.5h-1.5zM170.8 315.6h1.5v1.5h-1.5zM138.0 299.2h1.5v1.5h-1.5zM194.0 315.1h1.5v1.5h-1.5zM204.2 301.7h1.5v1.5h-1.5zM191.4 311.7h1.5v1.5h-1.5zM170.0 315.1h1.5v1.5h-1.5zM158.2 273.2h1.5v1.5h-1.5zM182.5 312.0h1.5v1.5h-1.5zM171.6 314.3h1.5v1.5h-1.5zM168.5 314.5h1.5v1.5h-1.5zM174.0 309.6h1.5v1.5h-1.5zM167.6 312.7h1.5v1.5h-1.5zM179.8 306.1h1.5v1.5h-1.5zM178.1 313.2h1.5v1.5h-1.5zM165.2 307.6h1.5v1.5h-1.5zM175.3 313.6h1.5v1.5h-1.5zM173.4 313.4h1.5v1.5h-1.5zM171.9 314.6h1.5v1.5h-1.5zM153.5 311.7h1.5v1.5h-1.5zM171.1 315.6h1.5v1.5h-1.5zM169.5 314.9h1.5v1.5h-1.5zM170.4 315.6h1.5v1.5h-1.5zM168.3 314.9h1.5v1.5h-1.5zM250.0 305.6h1.5v1.5h-1.5zM130.4 311.0h1.5v1.5h-1.5zM180.7 312.7h1.5v1.5h-1.5zM178.8 314.1h1.5v1.5h-1.5zM158.6 313.2h1.5v1.5h-1.5zM180.6 302.5h1.5v1.5h-1.5zM168.4 311.3h1.5v1.5h-1.5zM167.3 312.5h1.5v1.5h-1.5zM155.1 306.6h1.5v1.5h-1.5zM174.7 313.8h1.5v1.5h-1.5zM167.5 315.1h1.5v1.5h-1.5zM190.6 303.4h1.5v1.5h-1.5zM172.0 315.3h1.5v1.5h-1.5zM195.5 312.8h1.5v1.5h-1.5zM164.5 305.7h1.5v1.5h-1.5zM168.1 313.5h1.5v1.5h-1.5zM169.7 315.4h1.5v1.5h-1.5zM179.4 295.2h1.5v1.5h-1.5zM162.6 308.3h1.5v1.5h-1.5zM161.5 308.0h1.5v1.5h-1.5zM159.5 286.6h1.5v1.5h-1.5zM171.9 314.9h1.5v1.5h-1.5zM169.7 315.5h1.5v1.5h-1.5zM180.7 304.1h1.5v1.5h-1.5zM178.3 300.9h1.5v1.5h-1.5zM173.0 314.0h1.5v1.5h-1.5zM157.9 301.2h1.5v1.5h-1.5zM169.9 314.9h1.5v1.5h-1.5zM178.6 313.1h1.5v1.5h-1.5zM179.6 306.5h1.5v1.5h-1.5zM167.0 314.7h1.5v1.5h-1.5zM173.2 312.2h1.5v1.5h-1.5zM168.1 313.4h1.5v1.5h-1.5zM176.1 302.5h1.5v1.5h-1.5zM160.6 297.1h1.5v1.5h-1.5zM180.4 303.4h1.5v1.5h-1.5zM181.1 303.4h1.5v1.5h-1.5zM180.4 307.4h1.5v1.5h-1.5zM166.9 315.2h1.5v1.5h-1.5zM162.1 297.3h1.5v1.5h-1.5zM164.2 308.8h1.5v1.5h-1.5zM174.0 310.8h1.5v1.5h-1.5zM163.4 311.7h1.5v1.5h-1.5zM168.2 313.9h1.5v1.5h-1.5zM157.8 308.9h1.5v1.5h-1.5zM176.8 312.5h1.5v1.5h-1.5zM183.5 296.0h1.5v1.5h-1.5zM186.6 308.2h1.5v1.5h-1.5zM169.9 315.1h1.5v1.5h-1.5zM161.0 305.1h1.5v1.5h-1.5zM167.6 314.7h1.5v1.5h-1.5zM169.5 314.4h1.5v1.5h-1.5zM168.1 310.4h1.5v1.5h-1.5zM164.9 313.9h1.5v1.5h-1.5zM157.5 301.7h1.5v1.5h-1.5zM171.0 315.6h1.5v1.5h-1.5zM166.5 308.6h1.5v1.5h-1.5zM160.2 297.0h1.5v1.5h-1.5zM172.4 313.3h1.5v1.5h-1.5zM171.2 315.5h1.5v1.5h-1.5zM173.7 313.3h1.5v1.5h-1.5zM171.2 315.4h1.5v1.5h-1.5zM173.8 311.5h1.5v1.5h-1.5zM151.5 315.1h1.5v1.5h-1.5zM160.8 309.9h1.5v1.5h-1.5zM166.8 311.5h1.5v1.5h-1.5zM176.7 309.3h1.5v1.5h-1.5zM170.4 315.6h1.5v1.5h-1.5zM182.1 303.1h1.5v1.5h-1.5zM164.0 314.4h1.5v1.5h-1.5zM164.9 302.9h1.5v1.5h-1.5zM174.6 311.9h1.5v1.5h-1.5zM157.8 268.9h1.5v1.5h-1.5zM172.2 315.0h1.5v1.5h-1.5zM173.3 313.8h1.5v1.5h-1.5zM171.1 315.6h1.5v1.5h-1.5zM159.9 312.3h1.5v1.5h-1.5zM164.7 308.3h1.5v1.5h-1.5zM170.1 315.4h1.5v1.5h-1.5zM197.3 311.8h1.5v1.5h-1.5zM182.4 303.5h1.5v1.5h-1.5zM175.2 307.4h1.5v1.5h-1.5zM161.0 295.6h1.5v1.5h-1.5zM177.4 307.4h1.5v1.5h-1.5zM185.7 302.0h1.5v1.5h-1.5zM159.8 291.3h1.5v1.5h-1.5zM166.5 311.0h1.5v1.5h-1.5zM195.0 308.6h1.5v1.5h-1.5zM163.4 312.3h1.5v1.5h-1.5zM171.0 315.6h1.5v1.5h-1.5zM169.1 314.9h1.5v1.5h-1.5zM167.4 308.1h1.5v1.5h-1.5zM169.1 313.8h1.5v1.5h-1.5zM168.6 313.3h1.5v1.5h-1.5zM175.1 314.7h1.5v1.5h-1.5zM160.3 313.7h1.5v1.5h-1.5zM177.7 310.5h1.5v1.5h-1.5zM171.3 315.0h1.5v1.5h-1.5zM172.5 314.0h1.5v1.5h-1.5zM169.1 314.0h1.5v1.5h-1.5zM165.4 313.5h1.5v1.5h-1.5zM175.0 309.0h1.5v1.5h-1.5zM171.7 315.5h1.5v1.5h-1.5zM164.9 312.1h1.5v1.5h-1.5zM181.9 312.4h1.5v1.5h-1.5zM166.2 314.5h1.5v1.5h-1.5zM218.2 302.8h1.5v1.5h-1.5zM166.5 314.4h1.5v1.5h-1.5zM160.6 287.9h1.5v1.5h-1.5zM166.9 314.9h1.5v1.5h-1.5zM173.6 312.5h1.5v1.5h-1.5zM168.2 313.3h1.5v1.5h-1.5zM176.7 312.7h1.5v1.5h-1.5zM165.9 307.0h1.5v1.5h-1.5zM164.7 304.9h1.5v1.5h-1.5zM160.5 312.0h1.5v1.5h-1.5zM167.1 313.7h1.5v1.5h-1.5zM181.1 304.6h1.5v1.5h-1.5zM160.3 298.8h1.5v1.5h-1.5zM169.8 314.5h1.5v1.5h-1.5zM166.3 308.0h1.5v1.5h-1.5zM169.9 314.8h1.5v1.5h-1.5zM175.2 313.9h1.5v1.5h-1.5zM190.5 309.8h1.5v1.5h-1.5zM168.2 314.7h1.5v1.5h-1.5zM171.9 315.5h1.5v1.5h-1.5zM157.6 307.1h1.5v1.5h-1.5zM206.0 312.6h1.5v1.5h-1.5zM179.5 306.0h1.5v1.5h-1.5zM157.5 312.3h1.5v1.5h-1.5zM170.7 315.6h1.5v1.5h-1.5zM175.9 312.1h1.5v1.5h-1.5zM172.8 314.2h1.5v1.5h-1.5zM210.5 300.2h1.5v1.5h-1.5zM170.6 315.6h1.5v1.5h-1.5zM172.0 314.7h1.5v1.5h-1.5zM159.3 300.1h1.5v1.5h-1.5zM179.6 295.5h1.5v1.5h-1.5zM171.8 314.3h1.5v1.5h-1.5zM177.6 311.5h1.5v1.5h-1.5zM171.5 314.8h1.5v1.5h-1.5zM165.0 308.6h1.5v1.5h-1.5zM165.7 312.9h1.5v1.5h-1.5zM161.9 307.6h1.5v1.5h-1.5zM177.8 308.5h1.5v1.5h-1.5zM175.1 314.3h1.5v1.5h-1.5zM172.5 312.6h1.5v1.5h-1.5zM169.7 314.9h1.5v1.5h-1.5zM188.1 301.0h1.5v1.5h-1.5zM189.2 300.7h1.5v1.5h-1.5zM171.4 315.3h1.5v1.5h-1.5zM173.3 313.8h1.5v1.5h-1.5zM171.2 315.2h1.5v1.5h-1.5zM156.2 297.9h1.5v1.5h-1.5zM170.1 315.6h1.5v1.5h-1.5zM162.1 308.1h1.5v1.5h-1.5zM177.5 312.3h1.5v1.5h-1.5zM174.9 306.6h1.5v1.5h-1.5zM175.9 311.9h1.5v1.5h-1.5zM179.5 306.2h1.5v1.5h-1.5zM176.4 314.9h1.5v1.5h-1.5zM159.5 300.1h1.5v1.5h-1.5zM171.8 314.6h1.5v1.5h-1.5zM173.6 313.7h1.5v1.5h-1.5zM177.6 313.4h1.5v1.5h-1.5zM190.8 313.3h1.5v1.5h-1.5zM173.6 312.3h1.5v1.5h-1.5zM175.8 305.1h1.5v1.5h-1.5zM173.5 313.9h1.5v1.5h-1.5zM169.6 315.4h1.5v1.5h-1.5zM176.8 311.8h1.5v1.5h-1.5zM170.2 315.6h1.5v1.5h-1.5zM175.3 312.4h1.5v1.5h-1.5zM148.3 305.5h1.5v1.5h-1.5zM172.0 315.4h1.5v1.5h-1.5zM177.2 313.5h1.5v1.5h-1.5zM169.4 315.2h1.5v1.5h-1.5zM162.1 311.2h1.5v1.5h-1.5zM167.4 308.3h1.5v1.5h-1.5zM171.4 315.6h1.5v1.5h-1.5zM167.9 313.2h1.5v1.5h-1.5zM162.6 303.2h1.5v1.5h-1.5zM199.0 312.1h1.5v1.5h-1.5zM175.5 306.7h1.5v1.5h-1.5zM160.4 311.1h1.5v1.5h-1.5zM171.6 315.1h1.5v1.5h-1.5zM174.3 310.6h1.5v1.5h-1.5zM170.7 315.6h1.5v1.5h-1.5zM161.3 313.2h1.5v1.5h-1.5zM170.2 315.6h1.5v1.5h-1.5zM188.0 314.6h1.5v1.5h-1.5zM166.3 308.9h1.5v1.5h-1.5zM177.4 306.7h1.5v1.5h-1.5zM157.7 309.1h1.5v1.5h-1.5zM173.2 315.2h1.5v1.5h-1.5zM172.1 314.1h1.5v1.5h-1.5zM167.5 314.2h1.5v1.5h-1.5zM173.4 312.4h1.5v1.5h-1.5zM163.2 311.8h1.5v1.5h-1.5zM162.7 313.8h1.5v1.5h-1.5zM173.3 314.6h1.5v1.5h-1.5zM165.6 313.9h1.5v1.5h-1.5zM173.9 308.1h1.5v1.5h-1.5zM151.3 298.8h1.5v1.5h-1.5zM159.6 286.9h1.5v1.5h-1.5zM199.6 313.7h1.5v1.5h-1.5zM175.2 314.4h1.5v1.5h-1.5zM181.2 307.8h1.5v1.5h-1.5zM167.5 313.8h1.5v1.5h-1.5zM174.2 312.1h1.5v1.5h-1.5zM185.4 302.2h1.5v1.5h-1.5zM157.6 284.6h1.5v1.5h-1.5zM165.2 303.2h1.5v1.5h-1.5zM163.1 295.3h1.5v1.5h-1.5zM169.2 314.8h1.5v1.5h-1.5zM161.6 314.9h1.5v1.5h-1.5zM183.3 269.4h1.5v1.5h-1.5zM155.5 308.9h1.5v1.5h-1.5zM172.2 315.3h1.5v1.5h-1.5zM170.2 315.6h1.5v1.5h-1.5zM162.7 307.4h1.5v1.5h-1.5zM165.2 303.7h1.5v1.5h-1.5zM167.8 313.7h1.5v1.5h-1.5zM156.1 311.2h1.5v1.5h-1.5zM179.8 293.9h1.5v1.5h-1.5zM162.3 309.4h1.5v1.5h-1.5zM174.4 313.0h1.5v1.5h-1.5zM165.5 311.3h1.5v1.5h-1.5zM162.6 296.9h1.5v1.5h-1.5zM181.8 275.0h1.5v1.5h-1.5zM174.1 313.0h1.5v1.5h-1.5zM174.3 311.8h1.5v1.5h-1.5zM176.3 305.3h1.5v1.5h-1.5zM169.5 314.6h1.5v1.5h-1.5zM174.4 313.8h1.5v1.5h-1.5zM178.8 314.4h1.5v1.5h-1.5zM176.9 313.0h1.5v1.5h-1.5zM172.5 315.1h1.5v1.5h-1.5zM153.8 305.6h1.5v1.5h-1.5zM173.7 309.3h1.5v1.5h-1.5zM162.9 309.5h1.5v1.5h-1.5zM167.5 311.5h1.5v1.5h-1.5zM138.2 306.3h1.5v1.5h-1.5zM176.3 313.4h1.5v1.5h-1.5zM177.7 311.0h1.5v1.5h-1.5zM172.9 312.7h1.5v1.5h-1.5zM159.1 300.4h1.5v1.5h-1.5zM162.2 286.2h1.5v1.5h-1.5zM174.8 308.2h1.5v1.5h-1.5zM166.2 309.3h1.5v1.5h-1.5zM177.8 312.5h1.5v1.5h-1.5zM185.9 312.1h1.5v1.5h-1.5zM144.4 310.1h1.5v1.5h-1.5zM182.7 307.2h1.5v1.5h-1.5zM169.9 314.8h1.5v1.5h-1.5zM174.7 308.3h1.5v1.5h-1.5zM173.9 311.9h1.5v1.5h-1.5zM154.7 307.5h1.5v1.5h-1.5zM174.3 313.5h1.5v1.5h-1.5zM174.7 311.2h1.5v1.5h-1.5zM172.8 312.7h1.5v1.5h-1.5zM166.4 309.4h1.5v1.5h-1.5zM159.8 309.9h1.5v1.5h-1.5zM149.8 307.8h1.5v1.5h-1.5zM171.4 314.7h1.5v1.5h-1.5zM185.2 307.0h1.5v1.5h-1.5zM182.2 308.5h1.5v1.5h-1.5zM161.4 300.0h1.5v1.5h-1.5zM176.9 307.9h1.5v1.5h-1.5zM168.0 313.3h1.5v1.5h-1.5zM169.4 315.4h1.5v1.5h-1.5zM170.0 315.3h1.5v1.5h-1.5zM177.8 300.8h1.5v1.5h-1.5zM174.0 308.3h1.5v1.5h-1.5zM164.8 310.6h1.5v1.5h-1.5zM172.9 314.0h1.5v1.5h-1.5zM165.6 306.4h1.5v1.5h-1.5zM142.2 307.6h1.5v1.5h-1.5zM165.2 306.9h1.5v1.5h-1.5zM186.6 306.0h1.5v1.5h-1.5zM167.1 314.1h1.5v1.5h-1.5zM174.9 312.0h1.5v1.5h-1.5zM176.0 312.9h1.5v1.5h-1.5zM173.1 313.5h1.5v1.5h-1.5zM209.4 308.0h1.5v1.5h-1.5zM183.3 310.9h1.5v1.5h-1.5zM160.1 300.1h1.5v1.5h-1.5zM178.6 310.8h1.5v1.5h-1.5zM165.4 315.2h1.5v1.5h-1.5zM172.0 314.9h1.5v1.5h-1.5zM177.2 296.5h1.5v1.5h-1.5zM164.9 312.3h1.5v1.5h-1.5zM168.1 313.5h1.5v1.5h-1.5zM163.3 313.3h1.5v1.5h-1.5zM177.5 299.2h1.5v1.5h-1.5zM134.3 300.4h1.5v1.5h-1.5zM164.7 310.8h1.5v1.5h-1.5zM166.2 312.6h1.5v1.5h-1.5zM157.9 283.2h1.5v1.5h-1.5zM169.6 314.9h1.5v1.5h-1.5zM166.5 308.8h1.5v1.5h-1.5zM168.3 315.1h1.5v1.5h-1.5zM166.2 312.5h1.5v1.5h-1.5zM166.5 310.5h1.5v1.5h-1.5zM186.0 309.4h1.5v1.5h-1.5zM156.2 300.5h1.5v1.5h-1.5zM168.5 312.8h1.5v1.5h-1.5zM161.7 314.6h1.5v1.5h-1.5zM176.4 304.7h1.5v1.5h-1.5zM179.8 299.4h1.5v1.5h-1.5zM172.3 314.8h1.5v1.5h-1.5zM176.4 309.1h1.5v1.5h-1.5zM175.9 312.8h1.5v1.5h-1.5zM169.7 314.8h1.5v1.5h-1.5zM200.5 303.3h1.5v1.5h-1.5zM165.0 307.8h1.5v1.5h-1.5zM175.3 314.0h1.5v1.5h-1.5zM172.3 313.3h1.5v1.5h-1.5zM169.5 314.0h1.5v1.5h-1.5zM168.1 314.9h1.5v1.5h-1.5zM170.5 315.6h1.5v1.5h-1.5zM171.7 314.6h1.5v1.5h-1.5zM177.4 303.2h1.5v1.5h-1.5zM174.9 306.9h1.5v1.5h-1.5zM221.3 300.1h1.5v1.5h-1.5zM158.4 304.6h1.5v1.5h-1.5zM174.4 312.6h1.5v1.5h-1.5zM167.5 313.3h1.5v1.5h-1.5zM174.7 313.1h1.5v1.5h-1.5zM164.6 309.1h1.5v1.5h-1.5zM190.2 304.4h1.5v1.5h-1.5zM185.7 310.4h1.5v1.5h-1.5zM166.8 313.1h1.5v1.5h-1.5zM170.0 314.9h1.5v1.5h-1.5zM172.6 314.9h1.5v1.5h-1.5zM171.3 315.0h1.5v1.5h-1.5zM172.5 315.3h1.5v1.5h-1.5zM172.4 313.2h1.5v1.5h-1.5zM180.5 305.2h1.5v1.5h-1.5zM180.7 312.6h1.5v1.5h-1.5zM162.7 311.5h1.5v1.5h-1.5zM155.7 302.7h1.5v1.5h-1.5zM166.1 309.9h1.5v1.5h-1.5zM174.2 310.3h1.5v1.5h-1.5zM171.9 314.7h1.5v1.5h-1.5zM172.8 312.0h1.5v1.5h-1.5zM169.3 314.6h1.5v1.5h-1.5zM181.2 303.4h1.5v1.5h-1.5zM181.9 304.6h1.5v1.5h-1.5zM175.1 314.4h1.5v1.5h-1.5zM175.0 312.9h1.5v1.5h-1.5zM170.4 315.6h1.5v1.5h-1.5zM171.0 315.6h1.5v1.5h-1.5zM166.2 310.5h1.5v1.5h-1.5zM171.4 315.1h1.5v1.5h-1.5zM158.5 309.2h1.5v1.5h-1.5zM194.3 310.7h1.5v1.5h-1.5zM160.9 311.4h1.5v1.5h-1.5zM159.3 314.8h1.5v1.5h-1.5zM165.2 308.9h1.5v1.5h-1.5zM165.6 312.6h1.5v1.5h-1.5zM167.5 313.7h1.5v1.5h-1.5zM179.9 298.5h1.5v1.5h-1.5zM167.7 315.1h1.5v1.5h-1.5zM169.5 314.4h1.5v1.5h-1.5zM161.4 299.3h1.5v1.5h-1.5zM160.8 306.1h1.5v1.5h-1.5zM165.8 310.9h1.5v1.5h-1.5zM167.7 314.3h1.5v1.5h-1.5zM197.3 301.0h1.5v1.5h-1.5zM161.9 311.9h1.5v1.5h-1.5zM167.9 312.9h1.5v1.5h-1.5zM177.5 310.4h1.5v1.5h-1.5zM170.5 315.6h1.5v1.5h-1.5z" fill="#111" fill-opacity="0.72"/>
<path d="M167.3 313.3h1.5v1.5h-1.5zM176.9 314.0h1.5v1.5h-1.5zM181.4 292.7h1.5v1.5h-1.5zM176.6 308.9h1.5v1.5h-1.5zM170.8 315.6h1.5v1.5h-1.5zM185.8 309.1h1.5v1.5h-1.5zM169.1 313.3h1.5v1.5h-1.5zM126.4 309.5h1.5v1.5h-1.5zM163.4 310.6h1.5v1.5h-1.5zM171.0 315.4h1.5v1.5h-1.5zM168.3 315.2h1.5v1.5h-1.5zM165.3 314.5h1.5v1.5h-1.5zM142.9 299.3h1.5v1.5h-1.5zM176.3 314.7h1.5v1.5h-1.5zM178.9 308.2h1.5v1.5h-1.5zM168.1 314.2h1.5v1.5h-1.5zM173.3 311.6h1.5v1.5h-1.5zM174.0 312.1h1.5v1.5h-1.5zM169.9 315.4h1.5v1.5h-1.5zM153.7 301.9h1.5v1.5h-1.5zM160.6 298.8h1.5v1.5h-1.5zM186.1 298.9h1.5v1.5h-1.5zM168.9 314.8h1.5v1.5h-1.5zM166.5 312.0h1.5v1.5h-1.5zM178.8 306.9h1.5v1.5h-1.5zM161.1 306.5h1.5v1.5h-1.5zM174.1 312.3h1.5v1.5h-1.5zM189.2 306.4h1.5v1.5h-1.5zM182.5 286.6h1.5v1.5h-1.5zM158.3 300.5h1.5v1.5h-1.5zM176.2 300.3h1.5v1.5h-1.5zM164.4 306.3h1.5v1.5h-1.5zM164.1 311.0h1.5v1.5h-1.5zM172.6 311.5h1.5v1.5h-1.5zM173.1 313.1h1.5v1.5h-1.5zM167.0 311.3h1.5v1.5h-1.5zM172.9 314.1h1.5v1.5h-1.5zM165.5 302.1h1.5v1.5h-1.5zM160.8 291.3h1.5v1.5h-1.5zM204.4 310.4h1.5v1.5h-1.5zM157.5 311.8h1.5v1.5h-1.5zM169.3 314.8h1.5v1.5h-1.5zM122.2 300.3h1.5v1.5h-1.5zM182.4 302.5h1.5v1.5h-1.5zM166.6 313.9h1.5v1.5h-1.5zM172.6 312.2h1.5v1.5h-1.5zM202.8 303.3h1.5v1.5h-1.5zM175.2 314.0h1.5v1.5h-1.5zM172.2 313.2h1.5v1.5h-1.5zM141.2 312.2h1.5v1.5h-1.5zM182.9 310.2h1.5v1.5h-1.5zM180.3 294.6h1.5v1.5h-1.5zM168.8 315.3h1.5v1.5h-1.5zM160.8 300.8h1.5v1.5h-1.5zM166.5 313.9h1.5v1.5h-1.5zM171.4 314.7h1.5v1.5h-1.5zM162.5 299.5h1.5v1.5h-1.5zM164.1 306.5h1.5v1.5h-1.5zM167.3 307.5h1.5v1.5h-1.5zM162.8 298.8h1.5v1.5h-1.5zM169.9 315.0h1.5v1.5h-1.5zM175.3 305.7h1.5v1.5h-1.5zM167.4 314.7h1.5v1.5h-1.5zM177.2 307.6h1.5v1.5h-1.5zM175.1 312.3h1.5v1.5h-1.5zM171.9 314.8h1.5v1.5h-1.5zM163.3 301.5h1.5v1.5h-1.5zM182.8 303.8h1.5v1.5h-1.5zM177.0 297.5h1.5v1.5h-1.5zM176.0 308.0h1.5v1.5h-1.5zM173.9 314.2h1.5v1.5h-1.5zM173.4 313.1h1.5v1.5h-1.5zM180.8 307.9h1.5v1.5h-1.5zM174.7 311.9h1.5v1.5h-1.5zM180.7 304.5h1.5v1.5h-1.5zM173.6 314.0h1.5v1.5h-1.5zM177.5 312.4h1.5v1.5h-1.5zM167.6 310.9h1.5v1.5h-1.5zM183.0 313.3h1.5v1.5h-1.5zM164.1 295.5h1.5v1.5h-1.5zM164.4 312.8h1.5v1.5h-1.5zM177.4 308.6h1.5v1.5h-1.5zM159.1 303.0h1.5v1.5h-1.5zM185.1 303.5h1.5v1.5h-1.5zM168.9 314.9h1.5v1.5h-1.5zM148.4 308.1h1.5v1.5h-1.5zM170.4 315.6h1.5v1.5h-1.5zM167.4 314.3h1.5v1.5h-1.5zM184.4 302.3h1.5v1.5h-1.5zM200.9 309.1h1.5v1.5h-1.5zM156.6 300.7h1.5v1.5h-1.5zM180.6 305.9h1.5v1.5h-1.5zM162.3 297.9h1.5v1.5h-1.5zM188.6 312.7h1.5v1.5h-1.5zM182.8 285.4h1.5v1.5h-1.5zM176.3 313.5h1.5v1.5h-1.5zM170.7 315.6h1.5v1.5h-1.5zM182.4 299.4h1.5v1.5h-1.5zM169.5 314.5h1.5v1.5h-1.5zM189.1 311.1h1.5v1.5h-1.5zM202.4 307.6h1.5v1.5h-1.5zM171.3 315.5h1.5v1.5h-1.5zM167.6 313.4h1.5v1.5h-1.5zM175.6 306.3h1.5v1.5h-1.5zM140.7 298.7h1.5v1.5h-1.5zM167.0 311.5h1.5v1.5h-1.5zM177.5 293.1h1.5v1.5h-1.5zM152.6 306.5h1.5v1.5h-1.5zM173.7 311.8h1.5v1.5h-1.5zM157.0 312.7h1.5v1.5h-1.5zM153.5 301.5h1.5v1.5h-1.5zM163.7 308.0h1.5v1.5h-1.5zM172.8 312.7h1.5v1.5h-1.5zM178.4 311.2h1.5v1.5h-1.5zM156.6 298.1h1.5v1.5h-1.5zM162.0 297.4h1.5v1.5h-1.5zM163.7 308.7h1.5v1.5h-1.5zM160.9 305.3h1.5v1.5h-1.5zM199.2 310.9h1.5v1.5h-1.5zM156.3 305.4h1.5v1.5h-1.5zM174.7 315.1h1.5v1.5h-1.5zM166.6 312.5h1.5v1.5h-1.5zM180.0 301.0h1.5v1.5h-1.5zM170.0 315.6h1.5v1.5h-1.5zM182.5 307.0h1.5v1.5h-1.5zM176.6 314.7h1.5v1.5h-1.5zM170.4 315.6h1.5v1.5h-1.5zM165.4 312.0h1.5v1.5h-1.5zM169.7 315.5h1.5v1.5h-1.5zM172.6 313.6h1.5v1.5h-1.5zM165.7 307.9h1.5v1.5h-1.5zM171.7 314.4h1.5v1.5h-1.5zM163.0 308.0h1.5v1.5h-1.5zM168.5 311.2h1.5v1.5h-1.5zM178.4 310.7h1.5v1.5h-1.5zM177.1 303.6h1.5v1.5h-1.5zM181.2 278.8h1.5v1.5h-1.5zM170.9 315.6h1.5v1.5h-1.5zM215.5 303.3h1.5v1.5h-1.5zM165.2 314.5h1.5v1.5h-1.5zM164.4 315.2h1.5v1.5h-1.5zM168.9 314.0h1.5v1.5h-1.5zM145.9 310.9h1.5v1.5h-1.5zM167.5 314.5h1.5v1.5h-1.5zM166.4 314.2h1.5v1.5h-1.5zM177.1 305.6h1.5v1.5h-1.5zM178.7 300.1h1.5v1.5h-1.5zM171.9 315.1h1.5v1.5h-1.5zM169.2 314.5h1.5v1.5h-1.5zM179.8 305.4h1.5v1.5h-1.5zM170.0 315.4h1.5v1.5h-1.5zM189.1 309.0h1.5v1.5h-1.5zM170.4 315.6h1.5v1.5h-1.5zM182.6 302.8h1.5v1.5h-1.5zM166.3 313.6h1.5v1.5h-1.5zM167.3 313.3h1.5v1.5h-1.5zM175.1 312.7h1.5v1.5h-1.5zM177.6 311.6h1.5v1.5h-1.5zM165.4 311.1h1.5v1.5h-1.5zM171.8 314.5h1.5v1.5h-1.5zM164.4 305.4h1.5v1.5h-1.5zM178.6 312.3h1.5v1.5h-1.5zM172.1 312.9h1.5v1.5h-1.5zM168.4 315.0h1.5v1.5h-1.5zM165.1 314.0h1.5v1.5h-1.5zM167.3 309.3h1.5v1.5h-1.5zM158.8 308.8h1.5v1.5h-1.5zM164.4 309.1h1.5v1.5h-1.5zM166.5 311.8h1.5v1.5h-1.5zM158.2 308.0h1.5v1.5h-1.5zM170.0 315.5h1.5v1.5h-1.5zM171.1 315.4h1.5v1.5h-1.5zM161.1 288.5h1.5v1.5h-1.5zM117.8 298.6h1.5v1.5h-1.5zM161.0 297.0h1.5v1.5h-1.5zM179.9 309.3h1.5v1.5h-1.5zM167.5 308.9h1.5v1.5h-1.5zM162.9 309.5h1.5v1.5h-1.5zM166.5 312.5h1.5v1.5h-1.5zM173.3 314.7h1.5v1.5h-1.5zM172.0 314.1h1.5v1.5h-1.5zM171.0 315.6h1.5v1.5h-1.5zM200.5 299.1h1.5v1.5h-1.5zM160.0 305.4h1.5v1.5h-1.5zM174.6 307.6h1.5v1.5h-1.5zM165.8 312.0h1.5v1.5h-1.5zM179.7 297.0h1.5v1.5h-1.5zM159.2 291.6h1.5v1.5h-1.5zM167.4 312.6h1.5v1.5h-1.5zM155.3 310.0h1.5v1.5h-1.5zM175.8 310.1h1.5v1.5h-1.5zM158.2 309.7h1.5v1.5h-1.5zM173.6 311.5h1.5v1.5h-1.5zM180.1 304.9h1.5v1.5h-1.5zM165.3 306.3h1.5v1.5h-1.5zM166.1 311.1h1.5v1.5h-1.5zM213.7 309.6h1.5v1.5h-1.5zM173.9 311.4h1.5v1.5h-1.5zM170.5 315.6h1.5v1.5h-1.5zM179.0 293.2h1.5v1.5h-1.5zM164.6 306.0h1.5v1.5h-1.5zM174.3 310.6h1.5v1.5h-1.5zM157.9 311.1h1.5v1.5h-1.5zM162.7 305.9h1.5v1.5h-1.5zM161.0 309.9h1.5v1.5h-1.5zM188.3 305.4h1.5v1.5h-1.5zM165.7 306.2h1.5v1.5h-1.5zM177.7 307.9h1.5v1.5h-1.5zM175.5 310.6h1.5v1.5h-1.5zM168.3 314.0h1.5v1.5h-1.5zM171.7 315.3h1.5v1.5h-1.5zM208.8 302.1h1.5v1.5h-1.5zM168.3 312.6h1.5v1.5h-1.5zM181.9 283.1h1.5v1.5h-1.5zM147.7 305.8h1.5v1.5h-1.5zM169.0 314.4h1.5v1.5h-1.5zM167.1 306.4h1.5v1.5h-1.5zM175.7 310.0h1.5v1.5h-1.5zM171.9 314.3h1.5v1.5h-1.5zM163.7 304.8h1.5v1.5h-1.5zM164.3 314.3h1.5v1.5h-1.5zM174.8 314.3h1.5v1.5h-1.5zM183.7 293.8h1.5v1.5h-1.5zM136.9 310.1h1.5v1.5h-1.5zM166.3 306.5h1.5v1.5h-1.5zM178.8 310.7h1.5v1.5h-1.5zM173.1 314.7h1.5v1.5h-1.5zM186.4 301.8h1.5v1.5h-1.5zM168.7 312.9h1.5v1.5h-1.5zM171.4 315.0h1.5v1.5h-1.5zM179.6 309.0h1.5v1.5h-1.5zM179.8 311.1h1.5v1.5h-1.5zM169.0 314.6h1.5v1.5h-1.5zM172.0 315.0h1.5v1.5h-1.5zM175.4 306.6h1.5v1.5h-1.5zM156.6 304.1h1.5v1.5h-1.5zM169.7 315.2h1.5v1.5h-1.5zM162.7 313.4h1.5v1.5h-1.5zM171.7 315.3h1.5v1.5h-1.5zM192.5 309.3h1.5v1.5h-1.5zM152.8 307.6h1.5v1.5h-1.5zM172.2 315.3h1.5v1.5h-1.5zM171.6 315.3h1.5v1.5h-1.5zM173.7 308.2h1.5v1.5h-1.5zM182.5 283.8h1.5v1.5h-1.5zM174.2 314.6h1.5v1.5h-1.5zM177.2 305.4h1.5v1.5h-1.5zM178.9 310.3h1.5v1.5h-1.5zM178.7 297.0h1.5v1.5h-1.5zM173.9 315.6h1.5v1.5h-1.5zM169.8 315.0h1.5v1.5h-1.5zM168.0 312.1h1.5v1.5h-1.5zM167.0 312.7h1.5v1.5h-1.5zM174.4 312.7h1.5v1.5h-1.5zM182.2 289.5h1.5v1.5h-1.5zM168.3 313.1h1.5v1.5h-1.5zM165.0 307.8h1.5v1.5h-1.5zM220.9 298.8h1.5v1.5h-1.5zM173.6 312.7h1.5v1.5h-1.5zM172.7 315.2h1.5v1.5h-1.5zM167.2 312.7h1.5v1.5h-1.5zM171.2 315.6h1.5v1.5h-1.5zM164.1 307.7h1.5v1.5h-1.5zM166.5 312.7h1.5v1.5h-1.5zM163.0 306.7h1.5v1.5h-1.5zM147.6 309.5h1.5v1.5h-1.5zM164.3 312.1h1.5v1.5h-1.5zM169.1 314.9h1.5v1.5h-1.5zM163.5 297.6h1.5v1.5h-1.5zM172.1 312.8h1.5v1.5h-1.5zM168.3 314.1h1.5v1.5h-1.5zM159.6 303.4h1.5v1.5h-1.5zM187.5 309.8h1.5v1.5h-1.5zM159.3 310.9h1.5v1.5h-1.5zM204.5 301.0h1.5v1.5h-1.5zM164.4 305.7h1.5v1.5h-1.5zM181.0 308.0h1.5v1.5h-1.5zM113.3 304.6h1.5v1.5h-1.5zM177.4 312.1h1.5v1.5h-1.5zM157.0 307.8h1.5v1.5h-1.5zM169.5 314.8h1.5v1.5h-1.5zM181.5 305.6h1.5v1.5h-1.5zM160.8 305.2h1.5v1.5h-1.5zM167.3 313.5h1.5v1.5h-1.5zM166.6 315.1h1.5v1.5h-1.5zM159.3 307.0h1.5v1.5h-1.5zM172.6 314.1h1.5v1.5h-1.5zM122.8 305.2h1.5v1.5h-1.5zM171.9 315.1h1.5v1.5h-1.5zM168.7 314.3h1.5v1.5h-1.5zM159.0 308.3h1.5v1.5h-1.5zM165.0 308.7h1.5v1.5h-1.5zM208.7 306.1h1.5v1.5h-1.5zM162.2 299.2h1.5v1.5h-1.5zM177.6 311.8h1.5v1.5h-1.5zM172.4 315.2h1.5v1.5h-1.5zM164.6 313.7h1.5v1.5h-1.5zM177.7 310.5h1.5v1.5h-1.5zM179.6 311.1h1.5v1.5h-1.5zM171.4 315.0h1.5v1.5h-1.5zM170.9 315.6h1.5v1.5h-1.5zM157.0 304.3h1.5v1.5h-1.5zM178.2 308.8h1.5v1.5h-1.5zM172.8 314.3h1.5v1.5h-1.5zM175.9 308.2h1.5v1.5h-1.5zM170.2 315.4h1.5v1.5h-1.5zM173.5 315.3h1.5v1.5h-1.5zM170.4 315.6h1.5v1.5h-1.5zM172.5 315.1h1.5v1.5h-1.5zM179.6 299.0h1.5v1.5h-1.5zM162.9 310.0h1.5v1.5h-1.5zM170.9 315.6h1.5v1.5h-1.5zM172.0 314.0h1.5v1.5h-1.5zM166.1 306.0h1.5v1.5h-1.5zM186.5 312.6h1.5v1.5h-1.5zM182.4 311.9h1.5v1.5h-1.5zM177.0 297.2h1.5v1.5h-1.5zM171.0 315.6h1.5v1.5h-1.5zM165.3 303.2h1.5v1.5h-1.5zM162.3 304.9h1.5v1.5h-1.5zM169.2 313.2h1.5v1.5h-1.5zM161.2 309.8h1.5v1.5h-1.5zM171.2 315.6h1.5v1.5h-1.5zM180.9 311.8h1.5v1.5h-1.5zM160.8 296.4h1.5v1.5h-1.5zM173.7 312.1h1.5v1.5h-1.5zM161.0 309.2h1.5v1.5h-1.5zM172.5 314.1h1.5v1.5h-1.5zM169.4 313.3h1.5v1.5h-1.5zM168.6 315.0h1.5v1.5h-1.5zM158.7 311.1h1.5v1.5h-1.5zM182.0 306.5h1.5v1.5h-1.5zM149.0 298.6h1.5v1.5h-1.5zM181.4 273.7h1.5v1.5h-1.5zM172.6 313.7h1.5v1.5h-1.5zM173.3 315.2h1.5v1.5h-1.5zM164.7 310.6h1.5v1.5h-1.5zM191.2 297.7h1.5v1.5h-1.5zM181.1 280.1h1.5v1.5h-1.5zM159.1 311.0h1.5v1.5h-1.5zM165.4 305.0h1.5v1.5h-1.5zM161.1 303.6h1.5v1.5h-1.5zM170.8 315.6h1.5v1.5h-1.5zM179.0 310.1h1.5v1.5h-1.5zM176.9 302.2h1.5v1.5h-1.5zM160.1 309.1h1.5v1.5h-1.5zM192.2 298.1h1.5v1.5h-1.5zM170.8 315.6h1.5v1.5h-1.5zM147.6 302.4h1.5v1.5h-1.5zM165.7 310.3h1.5v1.5h-1.5zM176.3 307.6h1.5v1.5h-1.5zM175.5 313.7h1.5v1.5h-1.5zM172.3 313.3h1.5v1.5h-1.5zM177.9 306.1h1.5v1.5h-1.5zM172.9 313.6h1.5v1.5h-1.5zM179.3 309.2h1.5v1.5h-1.5zM150.9 306.1h1.5v1.5h-1.5zM189.2 305.4h1.5v1.5h-1.5zM180.4 274.0h1.5v1.5h-1.5zM170.9 315.6h1.5v1.5h-1.5zM183.6 309.4h1.5v1.5h-1.5zM158.3 308.7h1.5v1.5h-1.5zM170.4 315.6h1.5v1.5h-1.5zM160.5 309.9h1.5v1.5h-1.5zM164.3 303.9h1.5v1.5h-1.5zM164.9 310.7h1.5v1.5h-1.5zM164.4 312.9h1.5v1.5h-1.5zM166.6 311.9h1.5v1.5h-1.5zM174.3 312.1h1.5v1.5h-1.5zM176.8 315.1h1.5v1.5h-1.5zM160.9 307.7h1.5v1.5h-1.5zM157.1 306.6h1.5v1.5h-1.5zM169.2 314.0h1.5v1.5h-1.5zM173.7 312.4h1.5v1.5h-1.5zM158.4 310.8h1.5v1.5h-1.5zM166.0 312.0h1.5v1.5h-1.5zM154.7 297.7h1.5v1.5h-1.5zM162.2 315.0h1.5v1.5h-1.5zM171.0 315.4h1.5v1.5h-1.5zM188.7 305.9h1.5v1.5h-1.5zM176.3 312.7h1.5v1.5h-1.5zM170.5 315.6h1.5v1.5h-1.5zM167.3 309.4h1.5v1.5h-1.5zM160.0 301.5h1.5v1.5h-1.5zM174.8 312.4h1.5v1.5h-1.5zM173.2 315.3h1.5v1.5h-1.5zM170.5 315.6h1.5v1.5h-1.5zM197.8 310.9h1.5v1.5h-1.5zM171.0 315.6h1.5v1.5h-1.5zM176.7 312.3h1.5v1.5h-1.5zM164.1 297.1h1.5v1.5h-1.5zM172.0 314.1h1.5v1.5h-1.5zM177.8 309.9h1.5v1.5h-1.5zM158.1 311.9h1.5v1.5h-1.5zM183.3 313.5h1.5v1.5h-1.5zM172.7 313.8h1.5v1.5h-1.5zM170.5 315.6h1.5v1.5h-1.5zM168.3 313.3h1.5v1.5h-1.5zM202.2 310.0h1.5v1.5h-1.5zM161.3 307.3h1.5v1.5h-1.5zM164.4 305.7h1.5v1.5h-1.5zM154.0 308.1h1.5v1.5h-1.5zM180.5 311.3h1.5v1.5h-1.5zM184.4 303.9h1.5v1.5h-1.5zM168.2 313.6h1.5v1.5h-1.5zM175.2 311.3h1.5v1.5h-1.5zM170.0 315.5h1.5v1.5h-1.5zM167.5 310.4h1.5v1.5h-1.5zM176.3 313.1h1.5v1.5h-1.5zM164.9 301.6h1.5v1.5h-1.5zM165.3 306.6h1.5v1.5h-1.5zM175.0 305.0h1.5v1.5h-1.5zM182.4 278.6h1.5v1.5h-1.5zM171.7 315.5h1.5v1.5h-1.5zM166.4 312.0h1.5v1.5h-1.5zM143.4 307.1h1.5v1.5h-1.5zM174.7 305.9h1.5v1.5h-1.5zM174.5 313.9h1.5v1.5h-1.5zM174.3 313.5h1.5v1.5h-1.5zM157.4 310.3h1.5v1.5h-1.5zM177.7 309.3h1.5v1.5h-1.5zM181.5 289.6h1.5v1.5h-1.5zM191.2 306.1h1.5v1.5h-1.5zM175.3 312.6h1.5v1.5h-1.5zM174.6 309.7h1.5v1.5h-1.5zM172.4 315.5h1.5v1.5h-1.5zM168.2 312.5h1.5v1.5h-1.5zM169.2 313.9h1.5v1.5h-1.5zM162.9 311.5h1.5v1.5h-1.5zM161.4 297.8h1.5v1.5h-1.5zM181.6 292.1h1.5v1.5h-1.5zM165.2 307.8h1.5v1.5h-1.5zM164.1 312.2h1.5v1.5h-1.5zM173.0 313.6h1.5v1.5h-1.5zM163.2 305.7h1.5v1.5h-1.5zM160.3 288.0h1.5v1.5h-1.5zM163.0 308.1h1.5v1.5h-1.5zM154.7 308.5h1.5v1.5h-1.5zM175.7 311.0h1.5v1.5h-1.5zM168.6 312.2h1.5v1.5h-1.5zM178.7 310.9h1.5v1.5h-1.5zM176.2 306.4h1.5v1.5h-1.5zM165.9 310.9h1.5v1.5h-1.5zM169.3 315.0h1.5v1.5h-1.5zM168.3 314.6h1.5v1.5h-1.5zM162.0 312.6h1.5v1.5h-1.5zM170.0 315.6h1.5v1.5h-1.5zM165.1 310.2h1.5v1.5h-1.5zM171.0 315.6h1.5v1.5h-1.5zM161.2 303.2h1.5v1.5h-1.5zM157.4 314.1h1.5v1.5h-1.5zM163.2 297.9h1.5v1.5h-1.5zM160.0 314.7h1.5v1.5h-1.5zM174.1 313.9h1.5v1.5h-1.5zM181.3 309.7h1.5v1.5h-1.5zM173.9 312.3h1.5v1.5h-1.5zM171.8 314.6h1.5v1.5h-1.5zM175.3 313.3h1.5v1.5h-1.5zM169.7 314.9h1.5v1.5h-1.5zM173.2 315.1h1.5v1.5h-1.5zM173.8 310.1h1.5v1.5h-1.5zM166.6 310.4h1.5v1.5h-1.5zM164.7 304.7h1.5v1.5h-1.5zM172.8 314.2h1.5v1.5h-1.5zM141.4 301.2h1.5v1.5h-1.5zM169.7 315.6h1.5v1.5h-1.5zM175.7 313.9h1.5v1.5h-1.5zM165.2 308.4h1.5v1.5h-1.5zM173.4 314.1h1.5v1.5h-1.5zM170.2 315.6h1.5v1.5h-1.5zM171.6 315.4h1.5v1.5h-1.5zM172.8 312.6h1.5v1.5h-1.5zM165.2 310.7h1.5v1.5h-1.5zM172.5 315.3h1.5v1.5h-1.5zM163.5 310.9h1.5v1.5h-1.5zM176.9 312.9h1.5v1.5h-1.5zM177.7 310.6h1.5v1.5h-1.5zM164.5 309.6h1.5v1.5h-1.5zM190.3 301.4h1.5v1.5h-1.5zM179.8 311.6h1.5v1.5h-1.5zM145.5 299.8h1.5v1.5h-1.5zM164.4 312.6h1.5v1.5h-1.5zM159.9 310.4h1.5v1.5h-1.5zM176.7 303.2h1.5v1.5h-1.5zM163.3 292.2h1.5v1.5h-1.5zM181.6 305.9h1.5v1.5h-1.5zM160.7 295.5h1.5v1.5h-1.5zM169.9 315.4h1.5v1.5h-1.5zM189.3 298.8h1.5v1.5h-1.5zM174.5 312.4h1.5v1.5h-1.5zM178.1 307.1h1.5v1.5h-1.5zM176.5 309.9h1.5v1.5h-1.5zM201.6 310.4h1.5v1.5h-1.5zM154.0 304.2h1.5v1.5h-1.5zM165.4 310.3h1.5v1.5h-1.5zM172.0 314.2h1.5v1.5h-1.5zM170.2 315.6h1.5v1.5h-1.5zM162.3 308.5h1.5v1.5h-1.5zM168.6 312.2h1.5v1.5h-1.5zM170.3 315.6h1.5v1.5h-1.5z" fill="#111" fill-opacity="0.72"/>
<path d="M154.2 305.5h1.5v1.5h-1.5zM180.1 283.9h1.5v1.5h-1.5zM183.3 309.8h1.5v1.5h-1.5zM167.5 311.7h1.5v1.5h-1.5zM176.6 309.8h1.5v1.5h-1.5zM168.3 314.7h1.5v1.5h-1.5zM186.0 314.2h1.5v1.5h-1.5zM181.7 295.3h1.5v1.5h-1.5zM178.2 310.9h1.5v1.5h-1.5zM167.8 311.8h1.5v1.5h-1.5zM182.6 310.3h1.5v1.5h-1.5zM173.4 315.0h1.5v1.5h-1.5zM171.5 314.9h1.5v1.5h-1.5zM162.3 310.2h1.5v1.5h-1.5zM155.7 307.8h1.5v1.5h-1.5zM170.7 315.6h1.5v1.5h-1.5zM168.1 311.7h1.5v1.5h-1.5zM173.4 313.5h1.5v1.5h-1.5zM177.9 311.5h1.5v1.5h-1.5zM184.4 307.4h1.5v1.5h-1.5zM183.6 300.9h1.5v1.5h-1.5zM158.2 302.4h1.5v1.5h-1.5zM163.3 308.5h1.5v1.5h-1.5zM169.1 314.6h1.5v1.5h-1.5zM168.2 314.6h1.5v1.5h-1.5zM181.9 305.7h1.5v1.5h-1.5zM161.1 309.9h1.5v1.5h-1.5zM176.4 305.2h1.5v1.5h-1.5zM158.6 308.2h1.5v1.5h-1.5zM174.3 310.9h1.5v1.5h-1.5zM172.2 315.1h1.5v1.5h-1.5zM185.1 299.0h1.5v1.5h-1.5zM164.4 310.4h1.5v1.5h-1.5zM166.6 313.8h1.5v1.5h-1.5zM175.7 311.0h1.5v1.5h-1.5zM162.1 286.2h1.5v1.5h-1.5zM171.0 315.4h1.5v1.5h-1.5zM169.8 314.7h1.5v1.5h-1.5zM176.4 313.3h1.5v1.5h-1.5zM175.9 312.4h1.5v1.5h-1.5zM177.3 306.8h1.5v1.5h-1.5zM173.3 314.2h1.5v1.5h-1.5zM178.0 313.3h1.5v1.5h-1.5zM167.3 313.2h1.5v1.5h-1.5zM184.8 305.6h1.5v1.5h-1.5zM183.2 296.9h1.5v1.5h-1.5zM176.1 303.2h1.5v1.5h-1.5zM193.1 310.1h1.5v1.5h-1.5zM166.5 314.4h1.5v1.5h-1.5zM159.7 310.5h1.5v1.5h-1.5zM152.0 311.3h1.5v1.5h-1.5zM173.7 312.8h1.5v1.5h-1.5zM157.8 312.9h1.5v1.5h-1.5zM153.5 311.3h1.5v1.5h-1.5zM179.6 309.8h1.5v1.5h-1.5zM168.7 315.2h1.5v1.5h-1.5zM163.4 303.0h1.5v1.5h-1.5zM196.1 298.3h1.5v1.5h-1.5zM184.2 299.8h1.5v1.5h-1.5zM165.9 309.2h1.5v1.5h-1.5zM175.2 309.5h1.5v1.5h-1.5zM151.5 309.7h1.5v1.5h-1.5zM175.0 309.2h1.5v1.5h-1.5zM172.0 314.9h1.5v1.5h-1.5zM176.9 307.2h1.5v1.5h-1.5zM180.9 307.8h1.5v1.5h-1.5zM171.7 315.3h1.5v1.5h-1.5zM159.6 288.1h1.5v1.5h-1.5zM182.4 304.5h1.5v1.5h-1.5zM183.2 294.9h1.5v1.5h-1.5zM169.8 314.9h1.5v1.5h-1.5zM166.1 313.2h1.5v1.5h-1.5zM172.0 314.9h1.5v1.5h-1.5zM169.7 315.4h1.5v1.5h-1.5zM169.2 314.7h1.5v1.5h-1.5zM168.4 314.5h1.5v1.5h-1.5zM167.1 312.2h1.5v1.5h-1.5zM169.0 312.7h1.5v1.5h-1.5zM167.7 314.9h1.5v1.5h-1.5zM168.4 312.2h1.5v1.5h-1.5zM179.9 307.3h1.5v1.5h-1.5zM172.4 314.8h1.5v1.5h-1.5zM174.7 312.5h1.5v1.5h-1.5zM159.2 310.5h1.5v1.5h-1.5zM172.3 313.9h1.5v1.5h-1.5zM171.0 315.6h1.5v1.5h-1.5zM182.1 308.7h1.5v1.5h-1.5zM169.1 314.0h1.5v1.5h-1.5zM177.1 306.9h1.5v1.5h-1.5zM166.4 306.4h1.5v1.5h-1.5zM172.7 313.2h1.5v1.5h-1.5zM170.3 315.6h1.5v1.5h-1.5zM161.7 310.6h1.5v1.5h-1.5zM160.8 307.4h1.5v1.5h-1.5zM167.1 311.5h1.5v1.5h-1.5zM216.3 302.6h1.5v1.5h-1.5zM177.3 313.6h1.5v1.5h-1.5zM178.5 281.7h1.5v1.5h-1.5zM162.7 308.6h1.5v1.5h-1.5zM171.8 315.0h1.5v1.5h-1.5zM165.8 308.5h1.5v1.5h-1.5zM174.1 313.6h1.5v1.5h-1.5zM174.0 312.8h1.5v1.5h-1.5zM171.6 315.6h1.5v1.5h-1.5zM192.7 306.8h1.5v1.5h-1.5zM187.8 312.8h1.5v1.5h-1.5zM168.7 313.2h1.5v1.5h-1.5zM175.8 308.0h1.5v1.5h-1.5zM164.2 307.6h1.5v1.5h-1.5zM177.4 313.9h1.5v1.5h-1.5zM173.3 315.1h1.5v1.5h-1.5zM173.9 312.2h1.5v1.5h-1.5zM172.5 314.7h1.5v1.5h-1.5zM170.4 315.6h1.5v1.5h-1.5zM174.3 315.1h1.5v1.5h-1.5zM172.1 314.7h1.5v1.5h-1.5zM167.8 313.5h1.5v1.5h-1.5zM169.2 315.0h1.5v1.5h-1.5zM165.2 307.3h1.5v1.5h-1.5zM164.6 313.6h1.5v1.5h-1.5zM159.3 301.4h1.5v1.5h-1.5zM199.5 304.5h1.5v1.5h-1.5zM175.7 308.6h1.5v1.5h-1.5zM165.4 311.3h1.5v1.5h-1.5zM169.7 314.1h1.5v1.5h-1.5zM176.2 309.3h1.5v1.5h-1.5zM168.9 314.8h1.5v1.5h-1.5zM166.8 309.7h1.5v1.5h-1.5zM169.4 314.6h1.5v1.5h-1.5zM171.1 315.6h1.5v1.5h-1.5zM165.9 308.4h1.5v1.5h-1.5zM174.2 309.4h1.5v1.5h-1.5zM167.9 314.2h1.5v1.5h-1.5zM177.3 312.7h1.5v1.5h-1.5zM168.0 311.8h1.5v1.5h-1.5zM145.0 306.0h1.5v1.5h-1.5zM162.1 307.7h1.5v1.5h-1.5zM156.1 300.2h1.5v1.5h-1.5zM176.3 310.9h1.5v1.5h-1.5zM163.0 307.2h1.5v1.5h-1.5zM148.7 312.3h1.5v1.5h-1.5zM169.9 315.4h1.5v1.5h-1.5zM181.0 292.8h1.5v1.5h-1.5zM164.4 308.8h1.5v1.5h-1.5zM152.7 304.2h1.5v1.5h-1.5zM176.4 303.5h1.5v1.5h-1.5zM149.4 309.7h1.5v1.5h-1.5zM175.1 310.9h1.5v1.5h-1.5zM179.3 284.3h1.5v1.5h-1.5zM167.2 314.1h1.5v1.5h-1.5zM159.0 312.6h1.5v1.5h-1.5zM148.9 304.8h1.5v1.5h-1.5zM166.9 313.4h1.5v1.5h-1.5zM171.0 315.6h1.5v1.5h-1.5zM182.7 295.9h1.5v1.5h-1.5zM132.9 309.6h1.5v1.5h-1.5zM202.1 299.6h1.5v1.5h-1.5zM178.4 297.7h1.5v1.5h-1.5zM171.1 315.5h1.5v1.5h-1.5zM161.5 298.2h1.5v1.5h-1.5zM177.8 303.1h1.5v1.5h-1.5zM167.7 313.0h1.5v1.5h-1.5zM174.9 314.1h1.5v1.5h-1.5zM171.1 315.6h1.5v1.5h-1.5zM163.7 288.0h1.5v1.5h-1.5zM177.8 307.4h1.5v1.5h-1.5zM173.1 313.5h1.5v1.5h-1.5zM149.7 311.7h1.5v1.5h-1.5zM166.0 312.3h1.5v1.5h-1.5zM170.6 315.6h1.5v1.5h-1.5zM141.9 310.9h1.5v1.5h-1.5zM153.5 301.7h1.5v1.5h-1.5zM169.9 315.5h1.5v1.5h-1.5zM178.6 305.3h1.5v1.5h-1.5zM160.6 313.5h1.5v1.5h-1.5zM170.2 315.4h1.5v1.5h-1.5zM182.0 311.6h1.5v1.5h-1.5zM177.5 301.7h1.5v1.5h-1.5zM169.5 315.4h1.5v1.5h-1.5zM195.1 309.3h1.5v1.5h-1.5zM132.9 304.7h1.5v1.5h-1.5zM177.6 311.4h1.5v1.5h-1.5zM174.0 311.3h1.5v1.5h-1.5zM149.2 307.9h1.5v1.5h-1.5zM143.4 299.1h1.5v1.5h-1.5zM170.3 315.5h1.5v1.5h-1.5zM161.6 304.6h1.5v1.5h-1.5zM185.3 302.1h1.5v1.5h-1.5zM191.0 309.0h1.5v1.5h-1.5zM167.4 311.4h1.5v1.5h-1.5zM162.0 300.3h1.5v1.5h-1.5zM186.0 297.9h1.5v1.5h-1.5zM169.0 314.9h1.5v1.5h-1.5zM178.5 294.9h1.5v1.5h-1.5zM147.2 307.3h1.5v1.5h-1.5zM206.4 301.2h1.5v1.5h-1.5zM171.0 315.6h1.5v1.5h-1.5zM174.7 313.7h1.5v1.5h-1.5zM167.5 313.9h1.5v1.5h-1.5zM169.7 314.9h1.5v1.5h-1.5zM175.4 313.7h1.5v1.5h-1.5zM159.6 306.0h1.5v1.5h-1.5zM167.5 310.9h1.5v1.5h-1.5zM174.4 309.9h1.5v1.5h-1.5zM170.4 315.6h1.5v1.5h-1.5zM160.6 287.0h1.5v1.5h-1.5zM160.8 309.1h1.5v1.5h-1.5zM159.0 305.7h1.5v1.5h-1.5zM152.3 308.6h1.5v1.5h-1.5zM168.2 313.7h1.5v1.5h-1.5zM170.5 315.6h1.5v1.5h-1.5zM171.0 315.6h1.5v1.5h-1.5zM161.0 306.2h1.5v1.5h-1.5zM175.6 310.5h1.5v1.5h-1.5zM166.0 313.1h1.5v1.5h-1.5zM162.5 310.3h1.5v1.5h-1.5zM164.4 302.6h1.5v1.5h-1.5zM159.3 309.2h1.5v1.5h-1.5zM158.4 274.6h1.5v1.5h-1.5zM182.3 309.1h1.5v1.5h-1.5zM170.7 315.6h1.5v1.5h-1.5zM162.4 305.3h1.5v1.5h-1.5zM179.6 303.3h1.5v1.5h-1.5zM173.7 311.9h1.5v1.5h-1.5zM163.9 310.4h1.5v1.5h-1.5zM164.4 311.0h1.5v1.5h-1.5zM177.1 313.1h1.5v1.5h-1.5zM164.5 315.1h1.5v1.5h-1.5zM163.9 312.3h1.5v1.5h-1.5zM163.3 304.7h1.5v1.5h-1.5zM167.5 313.6h1.5v1.5h-1.5zM160.1 295.1h1.5v1.5h-1.5zM172.8 314.3h1.5v1.5h-1.5zM165.6 310.5h1.5v1.5h-1.5zM172.2 315.4h1.5v1.5h-1.5zM172.9 313.8h1.5v1.5h-1.5zM164.9 306.3h1.5v1.5h-1.5zM175.3 312.5h1.5v1.5h-1.5zM169.3 315.3h1.5v1.5h-1.5zM178.7 289.2h1.5v1.5h-1.5zM182.2 304.6h1.5v1.5h-1.5zM192.4 306.3h1.5v1.5h-1.5zM179.4 310.8h1.5v1.5h-1.5zM211.4 309.5h1.5v1.5h-1.5zM174.5 310.5h1.5v1.5h-1.5zM169.1 314.3h1.5v1.5h-1.5zM155.4 301.2h1.5v1.5h-1.5zM158.4 308.7h1.5v1.5h-1.5zM182.2 311.0h1.5v1.5h-1.5zM172.0 314.6h1.5v1.5h-1.5zM169.9 315.2h1.5v1.5h-1.5zM161.1 307.4h1.5v1.5h-1.5zM187.7 312.1h1.5v1.5h-1.5zM164.8 312.0h1.5v1.5h-1.5zM166.8 313.5h1.5v1.5h-1.5zM170.7 315.6h1.5v1.5h-1.5zM173.2 314.6h1.5v1.5h-1.5zM173.6 311.9h1.5v1.5h-1.5zM166.6 313.8h1.5v1.5h-1.5zM168.8 314.8h1.5v1.5h-1.5zM174.1 314.8h1.5v1.5h-1.5zM176.1 303.9h1.5v1.5h-1.5zM174.3 311.2h1.5v1.5h-1.5zM183.0 312.1h1.5v1.5h-1.5zM162.5 313.8h1.5v1.5h-1.5zM170.4 315.6h1.5v1.5h-1.5zM159.5 308.2h1.5v1.5h-1.5zM175.0 307.6h1.5v1.5h-1.5zM170.4 315.6h1.5v1.5h-1.5zM162.7 311.9h1.5v1.5h-1.5zM183.1 311.0h1.5v1.5h-1.5zM176.0 312.9h1.5v1.5h-1.5zM173.3 312.6h1.5v1.5h-1.5zM167.7 311.2h1.5v1.5h-1.5zM168.8 313.3h1.5v1.5h-1.5zM167.3 311.7h1.5v1.5h-1.5zM179.7 290.5h1.5v1.5h-1.5zM167.1 313.3h1.5v1.5h-1.5zM173.0 313.0h1.5v1.5h-1.5zM169.3 315.1h1.5v1.5h-1.5zM175.5 305.4h1.5v1.5h-1.5zM155.2 303.8h1.5v1.5h-1.5zM170.5 315.6h1.5v1.5h-1.5zM186.1 312.6h1.5v1.5h-1.5zM173.9 310.7h1.5v1.5h-1.5zM165.1 307.7h1.5v1.5h-1.5zM176.3 309.9h1.5v1.5h-1.5zM174.1 313.6h1.5v1.5h-1.5zM153.5 301.7h1.5v1.5h-1.5zM172.8 314.6h1.5v1.5h-1.5zM181.6 304.6h1.5v1.5h-1.5zM158.8 283.0h1.5v1.5h-1.5zM169.8 315.4h1.5v1.5h-1.5zM169.5 314.9h1.5v1.5h-1.5zM175.7 308.4h1.5v1.5h-1.5zM172.0 314.9h1.5v1.5h-1.5zM180.2 285.8h1.5v1.5h-1.5zM178.4 313.6h1.5v1.5h-1.5zM160.4 299.9h1.5v1.5h-1.5zM182.5 299.0h1.5v1.5h-1.5zM169.1 312.9h1.5v1.5h-1.5zM168.1 314.4h1.5v1.5h-1.5zM184.6 298.5h1.5v1.5h-1.5zM181.4 301.5h1.5v1.5h-1.5zM166.5 311.0h1.5v1.5h-1.5zM171.9 314.3h1.5v1.5h-1.5zM159.0 311.9h1.5v1.5h-1.5zM166.3 312.5h1.5v1.5h-1.5zM172.2 315.6h1.5v1.5h-1.5zM185.8 310.4h1.5v1.5h-1.5zM147.2 311.8h1.5v1.5h-1.5zM168.0 311.2h1.5v1.5h-1.5zM178.4 310.3h1.5v1.5h-1.5zM169.7 315.5h1.5v1.5h-1.5zM172.2 313.8h1.5v1.5h-1.5zM184.6 304.5h1.5v1.5h-1.5zM156.9 299.3h1.5v1.5h-1.5zM170.5 315.6h1.5v1.5h-1.5zM162.0 309.8h1.5v1.5h-1.5zM175.8 314.0h1.5v1.5h-1.5zM163.4 302.8h1.5v1.5h-1.5zM162.0 310.2h1.5v1.5h-1.5zM169.6 315.0h1.5v1.5h-1.5zM181.5 299.4h1.5v1.5h-1.5zM171.0 315.6h1.5v1.5h-1.5zM170.8 315.6h1.5v1.5h-1.5zM165.4 310.0h1.5v1.5h-1.5zM167.9 311.1h1.5v1.5h-1.5zM167.3 314.0h1.5v1.5h-1.5zM189.5 305.6h1.5v1.5h-1.5zM171.7 315.6h1.5v1.5h-1.5zM167.5 312.7h1.5v1.5h-1.5zM165.7 304.8h1.5v1.5h-1.5zM176.6 312.5h1.5v1.5h-1.5zM177.0 298.3h1.5v1.5h-1.5zM170.2 315.3h1.5v1.5h-1.5zM170.7 315.6h1.5v1.5h-1.5zM176.5 314.1h1.5v1.5h-1.5zM164.1 311.7h1.5v1.5h-1.5zM172.4 312.9h1.5v1.5h-1.5zM169.9 315.1h1.5v1.5h-1.5zM179.6 299.6h1.5v1.5h-1.5zM179.9 302.9h1.5v1.5h-1.5zM166.4 307.3h1.5v1.5h-1.5zM167.5 314.6h1.5v1.5h-1.5zM176.8 303.5h1.5v1.5h-1.5zM179.5 310.4h1.5v1.5h-1.5zM166.5 310.5h1.5v1.5h-1.5zM159.8 307.9h1.5v1.5h-1.5zM143.9 304.3h1.5v1.5h-1.5zM191.3 299.6h1.5v1.5h-1.5zM172.2 314.4h1.5v1.5h-1.5zM169.6 314.4h1.5v1.5h-1.5zM172.8 314.8h1.5v1.5h-1.5zM166.9 314.7h1.5v1.5h-1.5zM164.0 301.0h1.5v1.5h-1.5zM174.1 312.6h1.5v1.5h-1.5zM174.9 304.5h1.5v1.5h-1.5zM184.9 313.6h1.5v1.5h-1.5zM155.1 309.2h1.5v1.5h-1.5zM169.2 313.9h1.5v1.5h-1.5zM178.0 305.1h1.5v1.5h-1.5zM170.7 315.6h1.5v1.5h-1.5zM170.0 315.6h1.5v1.5h-1.5zM180.9 309.8h1.5v1.5h-1.5zM182.1 292.8h1.5v1.5h-1.5zM167.8 312.3h1.5v1.5h-1.5zM175.9 304.7h1.5v1.5h-1.5zM172.3 314.6h1.5v1.5h-1.5zM172.0 315.6h1.5v1.5h-1.5zM161.9 302.8h1.5v1.5h-1.5zM170.3 315.5h1.5v1.5h-1.5zM158.8 308.3h1.5v1.5h-1.5zM181.1 283.5h1.5v1.5h-1.5zM177.2 308.9h1.5v1.5h-1.5zM168.9 312.8h1.5v1.5h-1.5zM168.9 312.3h1.5v1.5h-1.5zM171.6 314.7h1.5v1.5h-1.5zM177.0 308.2h1.5v1.5h-1.5zM175.7 306.9h1.5v1.5h-1.5zM168.3 313.0h1.5v1.5h-1.5zM166.0 309.0h1.5v1.5h-1.5zM166.1 312.9h1.5v1.5h-1.5zM144.5 309.4h1.5v1.5h-1.5zM182.2 297.8h1.5v1.5h-1.5zM142.9 302.3h1.5v1.5h-1.5zM170.4 315.6h1.5v1.5h-1.5zM180.1 306.8h1.5v1.5h-1.5zM163.5 310.1h1.5v1.5h-1.5zM171.0 315.6h1.5v1.5h-1.5zM210.6 307.9h1.5v1.5h-1.5zM169.3 314.9h1.5v1.5h-1.5zM161.1 311.5h1.5v1.5h-1.5zM154.8 314.3h1.5v1.5h-1.5zM185.5 301.1h1.5v1.5h-1.5zM167.2 309.2h1.5v1.5h-1.5zM174.3 307.3h1.5v1.5h-1.5zM168.4 313.9h1.5v1.5h-1.5zM174.3 315.0h1.5v1.5h-1.5zM170.0 315.2h1.5v1.5h-1.5zM175.9 309.2h1.5v1.5h-1.5zM189.2 312.9h1.5v1.5h-1.5zM170.9 315.6h1.5v1.5h-1.5zM167.8 313.5h1.5v1.5h-1.5zM175.7 312.1h1.5v1.5h-1.5zM159.2 290.9h1.5v1.5h-1.5zM161.7 298.8h1.5v1.5h-1.5zM171.5 314.8h1.5v1.5h-1.5zM171.4 315.5h1.5v1.5h-1.5zM165.1 311.0h1.5v1.5h-1.5zM171.9 314.5h1.5v1.5h-1.5zM180.8 289.4h1.5v1.5h-1.5zM173.6 313.0h1.5v1.5h-1.5zM168.4 313.9h1.5v1.5h-1.5zM173.7 313.4h1.5v1.5h-1.5zM170.1 315.0h1.5v1.5h-1.5zM169.9 315.4h1.5v1.5h-1.5zM142.9 300.9h1.5v1.5h-1.5zM174.9 310.2h1.5v1.5h-1.5zM170.2 315.5h1.5v1.5h-1.5zM170.3 315.6h1.5v1.5h-1.5zM155.3 311.5h1.5v1.5h-1.5zM166.2 311.3h1.5v1.5h-1.5zM168.3 314.4h1.5v1.5h-1.5zM162.7 303.5h1.5v1.5h-1.5zM171.9 315.6h1.5v1.5h-1.5zM171.7 315.3h1.5v1.5h-1.5zM187.0 307.8h1.5v1.5h-1.5zM202.7 308.2h1.5v1.5h-1.5zM182.4 302.4h1.5v1.5h-1.5zM160.0 296.9h1.5v1.5h-1.5zM182.9 274.6h1.5v1.5h-1.5zM173.7 312.4h1.5v1.5h-1.5zM172.7 314.5h1.5v1.5h-1.5zM163.7 304.8h1.5v1.5h-1.5zM171.6 315.6h1.5v1.5h-1.5zM149.8 297.6h1.5v1.5h-1.5zM151.1 299.3h1.5v1.5h-1.5zM159.7 275.2h1.5v1.5h-1.5zM162.7 307.6h1.5v1.5h-1.5zM145.8 306.8h1.5v1.5h-1.5zM177.4 306.2h1.5v1.5h-1.5zM167.2 311.9h1.5v1.5h-1.5zM178.1 308.7h1.5v1.5h-1.5zM158.4 296.7h1.5v1.5h-1.5zM181.1 311.2h1.5v1.5h-1.5zM160.7 311.2h1.5v1.5h-1.5zM166.0 306.9h1.5v1.5h-1.5zM158.2 307.7h1.5v1.5h-1.5zM169.2 315.1h1.5v1.5h-1.5zM170.1 315.6h1.5v1.5h-1.5zM179.6 296.9h1.5v1.5h-1.5zM171.5 314.5h1.5v1.5h-1.5zM168.5 312.4h1.5v1.5h-1.5zM158.4 299.5h1.5v1.5h-1.5zM172.1 312.7h1.5v1.5h-1.5zM166.3 310.7h1.5v1.5h-1.5zM176.6 303.9h1.5v1.5h-1.5zM174.6 314.6h1.5v1.5h-1.5zM165.8 313.6h1.5v1.5h-1.5zM168.7 313.6h1.5v1.5h-1.5zM168.0 312.8h1.5v1.5h-1.5zM168.8 314.4h1.5v1.5h-1.5zM169.8 315.0h1.5v1.5h-1.5zM163.4 306.1h1.5v1.5h-1.5zM176.4 307.1h1.5v1.5h-1.5zM168.1 315.1h1.5v1.5h-1.5zM198.3 297.7h1.5v1.5h-1.5zM170.7 315.6h1.5v1.5h-1.5zM179.6 308.8h1.5v1.5h-1.5zM171.3 315.5h1.5v1.5h-1.5zM176.1 313.3h1.5v1.5h-1.5zM169.1 314.3h1.5v1.5h-1.5zM155.2 310.1h1.5v1.5h-1.5zM170.0 315.6h1.5v1.5h-1.5zM181.6 303.9h1.5v1.5h-1.5zM181.4 307.4h1.5v1.5h-1.5zM180.8 313.5h1.5v1.5h-1.5zM176.5 301.6h1.5v1.5h-1.5zM164.5 307.7h1.5v1.5h-1.5zM157.1 307.0h1.5v1.5h-1.5zM169.1 314.1h1.5v1.5h-1.5zM170.4 315.6h1.5v1.5h-1.5zM170.1 315.3h1.5v1.5h-1.5zM178.5 312.5h1.5v1.5h-1.5zM185.4 306.5h1.5v1.5h-1.5zM170.5 315.6h1.5v1.5h-1.5zM157.9 301.8h1.5v1.5h-1.5zM163.0 310.1h1.5v1.5h-1.5zM177.2 308.3h1.5v1.5h-1.5zM176.2 300.5h1.5v1.5h-1.5zM171.2 315.6h1.5v1.5h-1.5zM173.3 314.4h1.5v1.5h-1.5zM184.1 305.7h1.5v1.5h-1.5zM232.4 300.6h1.5v1.5h-1.5zM182.0 304.5h1.5v1.5h-1.5zM176.2 313.7h1.5v1.5h-1.5zM215.0 301.3h1.5v1.5h-1.5zM166.8 313.3h1.5v1.5h-1.5zM176.7 311.5h1.5v1.5h-1.5z" fill="#111" fill-opacity="0.72"/>
<line x1="158.5" y1="14.2" x2="158.5" y2="316.2" stroke="#45C945" stroke-width="1" stroke-dasharray="3 2 1.05 2" stroke-dashoffset="1.9"/>
<line x1="184.5" y1="14.2" x2="184.5" y2="316.2" stroke="#45C945" stroke-width="1" stroke-dasharray="3 2 1.05 2" stroke-dashoffset="1.9"/>
<line x1="62.5" y1="298.5" x2="280.0" y2="298.5" stroke="#45C945" stroke-width="1" stroke-dasharray="3 2 1.05 2" stroke-dashoffset="4.8"/>
<line x1="62.5" y1="14.2" x2="62.5" y2="316.5" stroke="#333" stroke-width="1.07"/>
<line x1="62.0" y1="316.5" x2="280.9" y2="316.5" stroke="#333" stroke-width="1.07"/>
<line x1="62.8" y1="316.7" x2="62.8" y2="318.7" stroke="#333" stroke-width="0.9"/>
<text x="62.8" y="326.2" font-size="8.25" fill="#4D4D4D" text-anchor="middle">−4</text>
<line x1="117.1" y1="316.7" x2="117.1" y2="318.7" stroke="#333" stroke-width="0.9"/>
<text x="117.1" y="326.2" font-size="8.25" fill="#4D4D4D" text-anchor="middle">−2</text>
<line x1="158.4" y1="316.7" x2="158.4" y2="318.7" stroke="#333" stroke-width="0.9"/>
<text x="158.4" y="326.2" font-size="8.25" fill="#4D4D4D" text-anchor="middle">−0.48</text>
<line x1="184.4" y1="316.7" x2="184.4" y2="318.7" stroke="#333" stroke-width="0.9"/>
<text x="184.4" y="326.2" font-size="8.25" fill="#4D4D4D" text-anchor="middle">0.48</text>
<line x1="225.7" y1="316.7" x2="225.7" y2="318.7" stroke="#333" stroke-width="0.9"/>
<text x="225.7" y="326.2" font-size="8.25" fill="#4D4D4D" text-anchor="middle">2</text>
<line x1="280.0" y1="316.7" x2="280.0" y2="318.7" stroke="#333" stroke-width="0.9"/>
<text x="280.0" y="326.2" font-size="8.25" fill="#4D4D4D" text-anchor="middle">4</text>
<line x1="60.5" y1="246.1" x2="62.5" y2="246.1" stroke="#333" stroke-width="0.9"/>
<text x="59.3" y="249.2" font-size="8.25" fill="#4D4D4D" text-anchor="end">5</text>
<line x1="60.5" y1="175.5" x2="62.5" y2="175.5" stroke="#333" stroke-width="0.9"/>
<text x="59.3" y="178.6" font-size="8.25" fill="#4D4D4D" text-anchor="end">10</text>
<line x1="60.5" y1="104.9" x2="62.5" y2="104.9" stroke="#333" stroke-width="0.9"/>
<text x="59.3" y="108.0" font-size="8.25" fill="#4D4D4D" text-anchor="end">15</text>
<line x1="60.5" y1="34.3" x2="62.5" y2="34.3" stroke="#333" stroke-width="0.9"/>
<text x="59.3" y="37.4" font-size="8.25" fill="#4D4D4D" text-anchor="end">20</text>
<line x1="60.5" y1="298.5" x2="62.5" y2="298.5" stroke="#333" stroke-width="0.9"/>
<text x="59.3" y="301.4" font-size="8.25" fill="#4D4D4D" text-anchor="end">p−value 0.05</text>
<path d="M187.7 274.3L190.0 278.3L185.4 278.3Z" fill="#00BA38" stroke="#000" stroke-width="0.6"/>
<path d="M190.4 274.8L192.7 278.8L188.1 278.8Z" fill="#00BA38" stroke="#000" stroke-width="0.6"/>
<path d="M189.5 277.0L191.8 281.0L187.2 281.0Z" fill="#00BA38" stroke="#000" stroke-width="0.6"/>
<path d="M186.8 279.2L189.1 283.2L184.5 283.2Z" fill="#00BA38" stroke="#000" stroke-width="0.6"/>
<circle cx="186.8" cy="285.4" r="1.8" fill="#F8766D" stroke="#000" stroke-width="0.6"/>
<path d="M188.1 286.7L190.4 290.7L185.8 290.7Z" fill="#00BA38" stroke="#000" stroke-width="0.6"/>
<path d="M192.1 292.0L194.4 296.0L189.8 296.0Z" fill="#00BA38" stroke="#000" stroke-width="0.6"/>
<path d="M186.8 295.1L189.1 299.1L184.5 299.1Z" fill="#00BA38" stroke="#000" stroke-width="0.6"/>
<path d="M184.2 295.5L186.5 299.5L181.9 299.5Z" fill="#00BA38" stroke="#000" stroke-width="0.6"/>
<path d="M189.5 295.9L191.8 299.9L187.2 299.9Z" fill="#00BA38" stroke="#000" stroke-width="0.6"/>
<path d="M156.8 290.9L159.1 294.9L154.5 294.9Z" fill="#00BA38" stroke="#000" stroke-width="0.6"/>
<path d="M157.6 293.1L159.9 297.1L155.3 297.1Z" fill="#00BA38" stroke="#000" stroke-width="0.6"/>
<path d="M157.8 253.9L160.1 257.9L155.5 257.9Z" fill="#00BA38" stroke="#000" stroke-width="0.6"/>
<path d="M158.0 288.7L160.3 292.7L155.7 292.7Z" fill="#00BA38" stroke="#000" stroke-width="0.6"/>
<rect x="239.5" y="40.3" width="3.0" height="3.0" fill="#619CFF" stroke="#000" stroke-width="0.6"/>
<rect x="202.7" y="114.4" width="3.0" height="3.0" fill="#619CFF" stroke="#000" stroke-width="0.6"/>
<rect x="213.8" y="144.4" width="3.0" height="3.0" fill="#619CFF" stroke="#000" stroke-width="0.6"/>
<rect x="208.7" y="146.3" width="3.0" height="3.0" fill="#619CFF" stroke="#000" stroke-width="0.6"/>
<circle cx="236.3" cy="150.6" r="1.8" fill="#F8766D" stroke="#000" stroke-width="0.6"/>
<rect x="202.9" y="162.1" width="3.0" height="3.0" fill="#619CFF" stroke="#000" stroke-width="0.6"/>
<rect x="199.6" y="166.6" width="3.0" height="3.0" fill="#619CFF" stroke="#000" stroke-width="0.6"/>
<rect x="195.4" y="176.7" width="3.0" height="3.0" fill="#619CFF" stroke="#000" stroke-width="0.6"/>
<circle cx="201.1" cy="183.2" r="1.8" fill="#F8766D" stroke="#000" stroke-width="0.6"/>
<circle cx="211.2" cy="184.5" r="1.8" fill="#F8766D" stroke="#000" stroke-width="0.6"/>
<rect x="194.5" y="188.1" width="3.0" height="3.0" fill="#619CFF" stroke="#000" stroke-width="0.6"/>
<rect x="191.6" y="191.0" width="3.0" height="3.0" fill="#619CFF" stroke="#000" stroke-width="0.6"/>
<rect x="190.2" y="194.5" width="3.0" height="3.0" fill="#619CFF" stroke="#000" stroke-width="0.6"/>
<rect x="198.7" y="204.0" width="3.0" height="3.0" fill="#619CFF" stroke="#000" stroke-width="0.6"/>
<circle cx="244.9" cy="208.3" r="1.8" fill="#F8766D" stroke="#000" stroke-width="0.6"/>
<rect x="200.8" y="213.0" width="3.0" height="3.0" fill="#619CFF" stroke="#000" stroke-width="0.6"/>
<rect x="203.1" y="214.3" width="3.0" height="3.0" fill="#619CFF" stroke="#000" stroke-width="0.6"/>
<circle cx="189.8" cy="217.4" r="1.8" fill="#F8766D" stroke="#000" stroke-width="0.6"/>
<path d="M201.1 218.9L203.4 222.9L198.8 222.9Z" fill="#00BA38" stroke="#000" stroke-width="0.6"/>
<rect x="184.5" y="221.6" width="3.0" height="3.0" fill="#619CFF" stroke="#000" stroke-width="0.6"/>
<circle cx="272.0" cy="221.2" r="1.8" fill="#F8766D" stroke="#000" stroke-width="0.6"/>
<circle cx="268.8" cy="225.9" r="1.8" fill="#F8766D" stroke="#000" stroke-width="0.6"/>
<circle cx="234.2" cy="226.9" r="1.8" fill="#F8766D" stroke="#000" stroke-width="0.6"/>
<path d="M143.0 228.9L145.3 232.9L140.7 232.9Z" fill="#00BA38" stroke="#000" stroke-width="0.6"/>
<rect x="190.6" y="226.3" width="3.0" height="3.0" fill="#619CFF" stroke="#000" stroke-width="0.6"/>
<circle cx="194.6" cy="233.7" r="1.8" fill="#F8766D" stroke="#000" stroke-width="0.6"/>
<path d="M146.2 238.1L148.5 242.1L143.9 242.1Z" fill="#00BA38" stroke="#000" stroke-width="0.6"/>
<rect x="227.5" y="239.5" width="3.0" height="3.0" fill="#619CFF" stroke="#000" stroke-width="0.6"/>
<rect x="189.7" y="240.8" width="3.0" height="3.0" fill="#619CFF" stroke="#000" stroke-width="0.6"/>
<path d="M191.7 241.4L194.0 245.4L189.4 245.4Z" fill="#00BA38" stroke="#000" stroke-width="0.6"/>
<circle cx="196.0" cy="245.6" r="1.8" fill="#F8766D" stroke="#000" stroke-width="0.6"/>
<circle cx="202.6" cy="247.9" r="1.8" fill="#F8766D" stroke="#000" stroke-width="0.6"/>
<path d="M213.5 243.9L215.8 247.9L211.2 247.9Z" fill="#00BA38" stroke="#000" stroke-width="0.6"/>
<rect x="204.5" y="249.2" width="3.0" height="3.0" fill="#619CFF" stroke="#000" stroke-width="0.6"/>
<rect x="207.9" y="251.1" width="3.0" height="3.0" fill="#619CFF" stroke="#000" stroke-width="0.6"/>
<rect x="203.8" y="253.7" width="3.0" height="3.0" fill="#619CFF" stroke="#000" stroke-width="0.6"/>
<circle cx="154.9" cy="252.9" r="1.8" fill="#F8766D" stroke="#000" stroke-width="0.6"/>
<circle cx="157.6" cy="255.7" r="1.8" fill="#F8766D" stroke="#000" stroke-width="0.6"/>
<circle cx="154.9" cy="259.5" r="1.8" fill="#F8766D" stroke="#000" stroke-width="0.6"/>
<rect x="150.6" y="262.3" width="3.0" height="3.0" fill="#619CFF" stroke="#000" stroke-width="0.6"/>
<circle cx="149.8" cy="268.7" r="1.8" fill="#F8766D" stroke="#000" stroke-width="0.6"/>
<path d="M150.1 268.7L152.4 272.7L147.8 272.7Z" fill="#00BA38" stroke="#000" stroke-width="0.6"/>
<circle cx="157.6" cy="269.0" r="1.8" fill="#F8766D" stroke="#000" stroke-width="0.6"/>
<circle cx="158.1" cy="270.8" r="1.8" fill="#F8766D" stroke="#000" stroke-width="0.6"/>
<circle cx="156.7" cy="276.3" r="1.8" fill="#F8766D" stroke="#000" stroke-width="0.6"/>
<rect x="191.6" y="254.0" width="3.0" height="3.0" fill="#619CFF" stroke="#000" stroke-width="0.6"/>
<rect x="191.2" y="256.6" width="3.0" height="3.0" fill="#619CFF" stroke="#000" stroke-width="0.6"/>
<rect x="186.6" y="257.3" width="3.0" height="3.0" fill="#619CFF" stroke="#000" stroke-width="0.6"/>
<circle cx="190.0" cy="261.3" r="1.8" fill="#F8766D" stroke="#000" stroke-width="0.6"/>
<rect x="194.5" y="259.5" width="3.0" height="3.0" fill="#619CFF" stroke="#000" stroke-width="0.6"/>
<rect x="196.6" y="261.7" width="3.0" height="3.0" fill="#619CFF" stroke="#000" stroke-width="0.6"/>
<path d="M189.1 261.8L191.4 265.8L186.8 265.8Z" fill="#00BA38" stroke="#000" stroke-width="0.6"/>
<rect x="190.1" y="263.5" width="3.0" height="3.0" fill="#619CFF" stroke="#000" stroke-width="0.6"/>
<circle cx="184.7" cy="266.3" r="1.8" fill="#F8766D" stroke="#000" stroke-width="0.6"/>
<circle cx="213.4" cy="263.7" r="1.8" fill="#F8766D" stroke="#000" stroke-width="0.6"/>
<rect x="222.5" y="261.6" width="3.0" height="3.0" fill="#619CFF" stroke="#000" stroke-width="0.6"/>
<circle cx="227.2" cy="261.4" r="1.8" fill="#F8766D" stroke="#000" stroke-width="0.6"/>
<rect x="204.4" y="266.6" width="3.0" height="3.0" fill="#619CFF" stroke="#000" stroke-width="0.6"/>
<rect x="207.5" y="264.8" width="3.0" height="3.0" fill="#619CFF" stroke="#000" stroke-width="0.6"/>
<rect x="208.4" y="269.4" width="3.0" height="3.0" fill="#619CFF" stroke="#000" stroke-width="0.6"/>
<rect x="196.4" y="268.8" width="3.0" height="3.0" fill="#619CFF" stroke="#000" stroke-width="0.6"/>
<rect x="184.5" y="269.5" width="3.0" height="3.0" fill="#619CFF" stroke="#000" stroke-width="0.6"/>
<circle cx="192.7" cy="269.9" r="1.8" fill="#F8766D" stroke="#000" stroke-width="0.6"/>
<rect x="189.8" y="270.1" width="3.0" height="3.0" fill="#619CFF" stroke="#000" stroke-width="0.6"/>
<circle cx="194.9" cy="273.7" r="1.8" fill="#F8766D" stroke="#000" stroke-width="0.6"/>
<rect x="202.2" y="273.7" width="3.0" height="3.0" fill="#619CFF" stroke="#000" stroke-width="0.6"/>
<rect x="203.6" y="277.0" width="3.0" height="3.0" fill="#619CFF" stroke="#000" stroke-width="0.6"/>
<circle cx="216.2" cy="279.4" r="1.8" fill="#F8766D" stroke="#000" stroke-width="0.6"/>
<rect x="210.9" y="278.3" width="3.0" height="3.0" fill="#619CFF" stroke="#000" stroke-width="0.6"/>
<path d="M188.3 272.5L190.6 276.5L186.0 276.5Z" fill="#00BA38" stroke="#000" stroke-width="0.6"/>
<circle cx="184.8" cy="276.5" r="1.8" fill="#F8766D" stroke="#000" stroke-width="0.6"/>
<circle cx="191.8" cy="276.1" r="1.8" fill="#F8766D" stroke="#000" stroke-width="0.6"/>
<rect x="189.1" y="269.8" width="3.0" height="3.0" fill="#619CFF" stroke="#000" stroke-width="0.6"/>
<circle cx="187.8" cy="279.7" r="1.8" fill="#F8766D" stroke="#000" stroke-width="0.6"/>
<path d="M189.3 275.2L191.6 279.2L187.0 279.2Z" fill="#00BA38" stroke="#000" stroke-width="0.6"/>
<circle cx="220.3" cy="281.1" r="1.8" fill="#F8766D" stroke="#000" stroke-width="0.6"/>
<rect x="221.8" y="281.3" width="3.0" height="3.0" fill="#619CFF" stroke="#000" stroke-width="0.6"/>
<rect x="215.1" y="282.8" width="3.0" height="3.0" fill="#619CFF" stroke="#000" stroke-width="0.6"/>
<path d="M191.5 281.4L193.8 285.4L189.2 285.4Z" fill="#00BA38" stroke="#000" stroke-width="0.6"/>
<path d="M195.9 284.5L198.2 288.5L193.6 288.5Z" fill="#00BA38" stroke="#000" stroke-width="0.6"/>
<path d="M184.9 285.8L187.2 289.8L182.6 289.8Z" fill="#00BA38" stroke="#000" stroke-width="0.6"/>
<rect x="184.2" y="282.6" width="3.0" height="3.0" fill="#619CFF" stroke="#000" stroke-width="0.6"/>
<circle cx="189.7" cy="285.9" r="1.8" fill="#F8766D" stroke="#000" stroke-width="0.6"/>
<circle cx="187.1" cy="288.1" r="1.8" fill="#F8766D" stroke="#000" stroke-width="0.6"/>
<rect x="190.0" y="286.6" width="3.0" height="3.0" fill="#619CFF" stroke="#000" stroke-width="0.6"/>
<rect x="192.6" y="288.4" width="3.0" height="3.0" fill="#619CFF" stroke="#000" stroke-width="0.6"/>
<circle cx="198.1" cy="290.3" r="1.8" fill="#F8766D" stroke="#000" stroke-width="0.6"/>
<circle cx="189.3" cy="290.7" r="1.8" fill="#F8766D" stroke="#000" stroke-width="0.6"/>
<circle cx="210.9" cy="288.1" r="1.8" fill="#F8766D" stroke="#000" stroke-width="0.6"/>
<circle cx="210.9" cy="291.2" r="1.8" fill="#F8766D" stroke="#000" stroke-width="0.6"/>
<circle cx="214.9" cy="292.1" r="1.8" fill="#F8766D" stroke="#000" stroke-width="0.6"/>
<circle cx="217.8" cy="294.7" r="1.8" fill="#F8766D" stroke="#000" stroke-width="0.6"/>
<circle cx="223.4" cy="297.7" r="1.8" fill="#F8766D" stroke="#000" stroke-width="0.6"/>
<circle cx="204.7" cy="292.1" r="1.8" fill="#F8766D" stroke="#000" stroke-width="0.6"/>
<circle cx="204.3" cy="295.6" r="1.8" fill="#F8766D" stroke="#000" stroke-width="0.6"/>
<rect x="197.0" y="292.3" width="3.0" height="3.0" fill="#619CFF" stroke="#000" stroke-width="0.6"/>
<rect x="198.8" y="295.9" width="3.0" height="3.0" fill="#619CFF" stroke="#000" stroke-width="0.6"/>
<rect x="205.9" y="295.0" width="3.0" height="3.0" fill="#619CFF" stroke="#000" stroke-width="0.6"/>
<rect x="212.5" y="296.3" width="3.0" height="3.0" fill="#619CFF" stroke="#000" stroke-width="0.6"/>
<path d="M191.0 291.1L193.3 295.1L188.7 295.1Z" fill="#00BA38" stroke="#000" stroke-width="0.6"/>
<path d="M197.7 294.2L200.0 298.2L195.4 298.2Z" fill="#00BA38" stroke="#000" stroke-width="0.6"/>
<path d="M219.6 294.5L221.9 298.5L217.3 298.5Z" fill="#00BA38" stroke="#000" stroke-width="0.6"/>
<circle cx="186.2" cy="295.6" r="1.8" fill="#F8766D" stroke="#000" stroke-width="0.6"/>
<circle cx="186.2" cy="297.8" r="1.8" fill="#F8766D" stroke="#000" stroke-width="0.6"/>
<rect x="183.8" y="291.0" width="3.0" height="3.0" fill="#619CFF" stroke="#000" stroke-width="0.6"/>
<rect x="188.7" y="296.3" width="3.0" height="3.0" fill="#619CFF" stroke="#000" stroke-width="0.6"/>
<rect x="250.3" y="271.1" width="3.0" height="3.0" fill="#619CFF" stroke="#000" stroke-width="0.6"/>
<circle cx="263.5" cy="276.2" r="1.8" fill="#F8766D" stroke="#000" stroke-width="0.6"/>
<rect x="247.2" y="277.6" width="3.0" height="3.0" fill="#619CFF" stroke="#000" stroke-width="0.6"/>
<path d="M249.4 285.1L251.7 289.1L247.1 289.1Z" fill="#00BA38" stroke="#000" stroke-width="0.6"/>
<circle cx="232.2" cy="291.4" r="1.8" fill="#F8766D" stroke="#000" stroke-width="0.6"/>
<circle cx="233.8" cy="295.3" r="1.8" fill="#F8766D" stroke="#000" stroke-width="0.6"/>
<path d="M239.5 291.3L241.8 295.3L237.2 295.3Z" fill="#00BA38" stroke="#000" stroke-width="0.6"/>
<path d="M257.1 294.4L259.4 298.4L254.8 298.4Z" fill="#00BA38" stroke="#000" stroke-width="0.6"/>
<rect x="260.1" y="294.5" width="3.0" height="3.0" fill="#619CFF" stroke="#000" stroke-width="0.6"/>
<path d="M93.6 276.8L95.9 280.8L91.3 280.8Z" fill="#00BA38" stroke="#000" stroke-width="0.6"/>
<path d="M122.4 276.5L124.7 280.5L120.1 280.5Z" fill="#00BA38" stroke="#000" stroke-width="0.6"/>
<path d="M105.9 290.7L108.2 294.7L103.6 294.7Z" fill="#00BA38" stroke="#000" stroke-width="0.6"/>
<path d="M119.4 288.1L121.7 292.1L117.1 292.1Z" fill="#00BA38" stroke="#000" stroke-width="0.6"/>
<path d="M123.8 292.4L126.1 296.4L121.5 296.4Z" fill="#00BA38" stroke="#000" stroke-width="0.6"/>
<rect x="130.1" y="283.9" width="3.0" height="3.0" fill="#619CFF" stroke="#000" stroke-width="0.6"/>
<path d="M130.6 285.8L132.9 289.8L128.3 289.8Z" fill="#00BA38" stroke="#000" stroke-width="0.6"/>
<path d="M133.7 285.1L136.0 289.1L131.4 289.1Z" fill="#00BA38" stroke="#000" stroke-width="0.6"/>
<rect x="136.0" y="287.9" width="3.0" height="3.0" fill="#619CFF" stroke="#000" stroke-width="0.6"/>
<circle cx="136.4" cy="292.0" r="1.8" fill="#F8766D" stroke="#000" stroke-width="0.6"/>
<circle cx="138.9" cy="293.8" r="1.8" fill="#F8766D" stroke="#000" stroke-width="0.6"/>
<rect x="131.4" y="292.1" width="3.0" height="3.0" fill="#619CFF" stroke="#000" stroke-width="0.6"/>
<path d="M142.5 292.5L144.8 296.5L140.2 296.5Z" fill="#00BA38" stroke="#000" stroke-width="0.6"/>
<rect x="143.9" y="294.3" width="3.0" height="3.0" fill="#619CFF" stroke="#000" stroke-width="0.6"/>
<rect x="146.7" y="294.3" width="3.0" height="3.0" fill="#619CFF" stroke="#000" stroke-width="0.6"/>
<rect x="149.0" y="294.3" width="3.0" height="3.0" fill="#619CFF" stroke="#000" stroke-width="0.6"/>
<rect x="147.1" y="290.5" width="3.0" height="3.0" fill="#619CFF" stroke="#000" stroke-width="0.6"/>
<circle cx="147.2" cy="298.1" r="1.8" fill="#F8766D" stroke="#000" stroke-width="0.6"/>
<circle cx="151.9" cy="290.1" r="1.8" fill="#F8766D" stroke="#000" stroke-width="0.6"/>
<path d="M150.5 282.2L152.8 286.2L148.2 286.2Z" fill="#00BA38" stroke="#000" stroke-width="0.6"/>
<rect x="155.0" y="281.1" width="3.0" height="3.0" fill="#619CFF" stroke="#000" stroke-width="0.6"/>
<rect x="154.2" y="284.4" width="3.0" height="3.0" fill="#619CFF" stroke="#000" stroke-width="0.6"/>
<rect x="154.7" y="287.7" width="3.0" height="3.0" fill="#619CFF" stroke="#000" stroke-width="0.6"/>
<circle cx="157.4" cy="290.6" r="1.8" fill="#F8766D" stroke="#000" stroke-width="0.6"/>
<path d="M155.2 292.5L157.5 296.5L152.9 296.5Z" fill="#00BA38" stroke="#000" stroke-width="0.6"/>
<path d="M156.6 293.9L158.9 297.9L154.3 297.9Z" fill="#00BA38" stroke="#000" stroke-width="0.6"/>
<path d="M154.3 295.8L156.6 299.8L152.0 299.8Z" fill="#00BA38" stroke="#000" stroke-width="0.6"/>
<path d="M156.2 295.8L158.5 299.8L153.9 299.8Z" fill="#00BA38" stroke="#000" stroke-width="0.6"/>
<circle cx="152.9" cy="296.2" r="1.8" fill="#F8766D" stroke="#000" stroke-width="0.6"/>
<line x1="215.4" y1="145.6" x2="218.9" y2="141.0" stroke="#000" stroke-width="0.75"/>
<text x="215.00" y="38.8" font-size="7.6" fill="#000">rno−miR−155−5p</text>
<text x="168.70" y="124.2" font-size="7.6" fill="#000">rno−miR−146a−5p</text>
<text x="200.60" y="140.9" font-size="7.6" fill="#000">rno−miR−142−3p</text>
<text x="147.70" y="151.0" font-size="7.6" fill="#000">rno−miR−142−5p</text>
<text x="219.40" y="158.7" font-size="7.6" fill="#000">rno−miR−223−3p</text>
<text x="168.70" y="161.3" font-size="7.6" fill="#000">rno−miR−18a−5p</text>
<text x="144.20" y="172.0" font-size="7.6" fill="#000">rno−miR−21−5p</text>
<text x="139.80" y="182.4" font-size="7.6" fill="#000">rno−miR−17−5p</text>
<text x="213.90" y="183.0" font-size="7.6" fill="#000">rno−miR−212−3p</text>
<text x="163.90" y="193.4" font-size="7.6" fill="#000">rno−miR−212−5p</text>
<text x="291.59999999999997" y="148.9" font-size="10.3" fill="#000">Stage</text>
<rect x="291.9" y="154.9" width="10.8" height="11.2" fill="#F2F2F2"/>
<circle cx="297.29999999999995" cy="160.5" r="1.7" fill="#F8766D" stroke="#000" stroke-width="0.5"/>
<text x="308.59999999999997" y="163.80" font-size="8.3" fill="#000">Acute</text>
<rect x="291.9" y="166.65" width="10.8" height="11.2" fill="#F2F2F2"/>
<rect x="295.79999999999995" y="170.75" width="3" height="3" fill="#619CFF" stroke="#000" stroke-width="0.5"/>
<text x="308.59999999999997" y="175.55" font-size="8.3" fill="#000">Latent</text>
<rect x="291.9" y="178.4" width="10.8" height="11.2" fill="#F2F2F2"/>
<path d="M297.29999999999995 181.9L299.69999999999993 185.9L294.9 185.9Z" fill="#00BA38" stroke="#000" stroke-width="0.5"/>
<text x="308.59999999999997" y="187.30" font-size="8.3" fill="#000">Chronic</text>
<text x="356.6" y="9.8" font-size="14" font-weight="bold" fill="#000">b</text>
<text x="463.2" y="10" font-size="13.4" fill="#000">Infantile-onset TLE</text>
<text x="356.5" y="165.3" font-size="10.3" fill="#000" text-anchor="middle" transform="rotate(-90 356.5 165.3)">−log10(p−value)</text>
<text x="519.25" y="337.2" font-size="10.3" fill="#000" text-anchor="middle">log2(fold−change)</text>
<path d="M507.6 310.9h1.5v1.5h-1.5zM495.7 309.8h1.5v1.5h-1.5zM519.4 315.6h1.5v1.5h-1.5zM581.1 304.3h1.5v1.5h-1.5zM508.8 311.8h1.5v1.5h-1.5zM490.3 302.9h1.5v1.5h-1.5zM506.7 296.5h1.5v1.5h-1.5zM520.2 313.6h1.5v1.5h-1.5zM515.0 307.5h1.5v1.5h-1.5zM511.9 307.3h1.5v1.5h-1.5zM522.3 313.1h1.5v1.5h-1.5zM523.0 312.7h1.5v1.5h-1.5zM519.8 314.3h1.5v1.5h-1.5zM495.9 304.1h1.5v1.5h-1.5zM534.2 300.4h1.5v1.5h-1.5zM525.5 308.6h1.5v1.5h-1.5zM575.3 305.8h1.5v1.5h-1.5zM531.0 303.2h1.5v1.5h-1.5zM542.1 310.9h1.5v1.5h-1.5zM524.1 307.9h1.5v1.5h-1.5zM540.2 293.5h1.5v1.5h-1.5zM512.5 311.1h1.5v1.5h-1.5zM518.9 315.6h1.5v1.5h-1.5zM526.9 313.6h1.5v1.5h-1.5zM522.3 311.3h1.5v1.5h-1.5zM517.0 313.7h1.5v1.5h-1.5zM524.7 308.4h1.5v1.5h-1.5zM507.6 302.9h1.5v1.5h-1.5zM508.3 304.6h1.5v1.5h-1.5zM528.8 309.4h1.5v1.5h-1.5zM501.3 302.7h1.5v1.5h-1.5zM517.4 314.9h1.5v1.5h-1.5zM520.1 314.5h1.5v1.5h-1.5zM529.6 312.3h1.5v1.5h-1.5zM513.6 314.6h1.5v1.5h-1.5zM509.9 307.9h1.5v1.5h-1.5zM524.9 297.3h1.5v1.5h-1.5zM521.0 314.6h1.5v1.5h-1.5zM522.3 310.6h1.5v1.5h-1.5zM515.4 313.6h1.5v1.5h-1.5zM511.4 311.7h1.5v1.5h-1.5zM523.7 310.3h1.5v1.5h-1.5zM520.7 313.4h1.5v1.5h-1.5zM537.6 297.6h1.5v1.5h-1.5zM511.5 313.1h1.5v1.5h-1.5zM549.8 309.7h1.5v1.5h-1.5zM511.0 314.6h1.5v1.5h-1.5zM543.8 304.9h1.5v1.5h-1.5zM548.2 304.4h1.5v1.5h-1.5zM517.2 313.9h1.5v1.5h-1.5zM524.3 309.2h1.5v1.5h-1.5zM527.0 294.8h1.5v1.5h-1.5zM551.6 294.1h1.5v1.5h-1.5zM538.5 304.6h1.5v1.5h-1.5zM500.7 302.1h1.5v1.5h-1.5zM493.2 305.6h1.5v1.5h-1.5zM521.0 312.5h1.5v1.5h-1.5zM518.6 315.6h1.5v1.5h-1.5zM570.0 296.8h1.5v1.5h-1.5zM563.8 299.9h1.5v1.5h-1.5zM513.8 312.8h1.5v1.5h-1.5zM503.8 299.2h1.5v1.5h-1.5zM512.1 299.6h1.5v1.5h-1.5zM511.9 309.1h1.5v1.5h-1.5zM523.3 314.1h1.5v1.5h-1.5zM465.1 304.1h1.5v1.5h-1.5zM525.5 313.6h1.5v1.5h-1.5zM513.0 313.7h1.5v1.5h-1.5zM490.3 308.6h1.5v1.5h-1.5zM510.4 309.1h1.5v1.5h-1.5zM496.8 306.9h1.5v1.5h-1.5zM536.6 309.3h1.5v1.5h-1.5zM517.7 315.5h1.5v1.5h-1.5zM521.3 313.8h1.5v1.5h-1.5zM519.7 314.8h1.5v1.5h-1.5zM519.5 314.1h1.5v1.5h-1.5zM532.9 310.3h1.5v1.5h-1.5zM521.2 311.9h1.5v1.5h-1.5zM508.5 290.7h1.5v1.5h-1.5zM514.3 306.7h1.5v1.5h-1.5zM519.7 314.0h1.5v1.5h-1.5zM518.7 315.6h1.5v1.5h-1.5zM518.3 315.6h1.5v1.5h-1.5zM515.7 314.9h1.5v1.5h-1.5zM511.5 305.8h1.5v1.5h-1.5zM514.7 314.2h1.5v1.5h-1.5zM518.9 315.6h1.5v1.5h-1.5zM542.2 302.2h1.5v1.5h-1.5zM505.1 310.7h1.5v1.5h-1.5zM522.0 313.5h1.5v1.5h-1.5zM530.2 309.8h1.5v1.5h-1.5zM515.3 313.1h1.5v1.5h-1.5zM522.9 313.5h1.5v1.5h-1.5zM507.3 307.6h1.5v1.5h-1.5zM479.4 308.2h1.5v1.5h-1.5zM509.3 306.2h1.5v1.5h-1.5zM512.4 313.1h1.5v1.5h-1.5zM511.1 305.7h1.5v1.5h-1.5zM516.6 313.5h1.5v1.5h-1.5zM491.0 308.9h1.5v1.5h-1.5zM512.7 306.6h1.5v1.5h-1.5zM516.4 314.9h1.5v1.5h-1.5zM513.2 311.7h1.5v1.5h-1.5zM481.1 295.1h1.5v1.5h-1.5zM537.6 305.5h1.5v1.5h-1.5zM535.0 304.7h1.5v1.5h-1.5zM521.4 311.0h1.5v1.5h-1.5zM513.9 311.8h1.5v1.5h-1.5zM501.1 310.3h1.5v1.5h-1.5zM514.6 314.7h1.5v1.5h-1.5zM522.8 311.7h1.5v1.5h-1.5zM532.3 303.5h1.5v1.5h-1.5zM514.8 308.5h1.5v1.5h-1.5zM518.5 315.6h1.5v1.5h-1.5zM501.0 306.2h1.5v1.5h-1.5zM520.0 314.0h1.5v1.5h-1.5zM524.0 307.9h1.5v1.5h-1.5zM534.8 306.6h1.5v1.5h-1.5zM528.4 304.3h1.5v1.5h-1.5zM521.8 312.2h1.5v1.5h-1.5zM515.6 313.7h1.5v1.5h-1.5zM504.8 309.2h1.5v1.5h-1.5zM520.6 315.1h1.5v1.5h-1.5zM510.0 308.3h1.5v1.5h-1.5zM515.9 313.1h1.5v1.5h-1.5zM512.8 314.0h1.5v1.5h-1.5zM530.9 300.0h1.5v1.5h-1.5zM529.5 308.2h1.5v1.5h-1.5zM518.8 315.5h1.5v1.5h-1.5zM527.6 307.8h1.5v1.5h-1.5zM528.0 287.9h1.5v1.5h-1.5zM497.6 301.4h1.5v1.5h-1.5zM528.8 300.3h1.5v1.5h-1.5zM523.5 314.6h1.5v1.5h-1.5zM517.6 315.6h1.5v1.5h-1.5zM521.4 314.3h1.5v1.5h-1.5zM522.0 312.9h1.5v1.5h-1.5zM519.9 315.1h1.5v1.5h-1.5zM537.1 306.7h1.5v1.5h-1.5zM528.5 310.9h1.5v1.5h-1.5zM515.5 313.4h1.5v1.5h-1.5zM509.7 308.0h1.5v1.5h-1.5zM521.6 314.9h1.5v1.5h-1.5zM507.8 309.7h1.5v1.5h-1.5zM533.7 309.4h1.5v1.5h-1.5zM514.5 314.3h1.5v1.5h-1.5zM500.1 295.2h1.5v1.5h-1.5zM515.3 314.5h1.5v1.5h-1.5zM505.2 305.4h1.5v1.5h-1.5zM486.7 301.3h1.5v1.5h-1.5zM514.6 312.2h1.5v1.5h-1.5zM511.9 312.6h1.5v1.5h-1.5zM529.1 308.8h1.5v1.5h-1.5zM520.0 315.1h1.5v1.5h-1.5zM520.8 312.1h1.5v1.5h-1.5zM526.7 309.7h1.5v1.5h-1.5zM525.3 311.9h1.5v1.5h-1.5zM524.9 314.0h1.5v1.5h-1.5zM523.9 309.0h1.5v1.5h-1.5zM524.2 313.7h1.5v1.5h-1.5zM513.0 312.5h1.5v1.5h-1.5zM523.3 307.4h1.5v1.5h-1.5zM524.0 314.2h1.5v1.5h-1.5zM507.2 309.4h1.5v1.5h-1.5zM539.3 299.9h1.5v1.5h-1.5zM470.4 298.1h1.5v1.5h-1.5zM507.7 305.1h1.5v1.5h-1.5zM528.9 306.6h1.5v1.5h-1.5zM516.5 315.5h1.5v1.5h-1.5zM509.4 307.9h1.5v1.5h-1.5zM524.5 313.2h1.5v1.5h-1.5zM542.1 302.5h1.5v1.5h-1.5zM521.6 313.6h1.5v1.5h-1.5zM518.1 315.6h1.5v1.5h-1.5zM519.7 313.9h1.5v1.5h-1.5zM525.3 311.1h1.5v1.5h-1.5zM526.2 302.9h1.5v1.5h-1.5zM540.3 296.9h1.5v1.5h-1.5zM496.0 304.5h1.5v1.5h-1.5zM521.8 313.3h1.5v1.5h-1.5zM514.1 314.9h1.5v1.5h-1.5zM520.8 314.1h1.5v1.5h-1.5zM512.6 303.5h1.5v1.5h-1.5zM518.6 315.6h1.5v1.5h-1.5zM514.3 312.4h1.5v1.5h-1.5zM520.7 315.6h1.5v1.5h-1.5zM513.4 312.1h1.5v1.5h-1.5zM528.7 306.4h1.5v1.5h-1.5zM505.3 303.8h1.5v1.5h-1.5zM543.4 304.2h1.5v1.5h-1.5zM505.5 304.1h1.5v1.5h-1.5zM523.3 310.4h1.5v1.5h-1.5zM509.5 314.2h1.5v1.5h-1.5zM513.9 312.5h1.5v1.5h-1.5zM530.9 302.0h1.5v1.5h-1.5zM514.1 307.3h1.5v1.5h-1.5zM526.7 297.9h1.5v1.5h-1.5zM524.9 308.6h1.5v1.5h-1.5zM516.3 313.8h1.5v1.5h-1.5zM519.9 313.3h1.5v1.5h-1.5zM520.0 315.2h1.5v1.5h-1.5zM512.4 312.8h1.5v1.5h-1.5zM525.1 307.2h1.5v1.5h-1.5zM511.4 306.1h1.5v1.5h-1.5zM515.0 309.9h1.5v1.5h-1.5zM504.3 310.2h1.5v1.5h-1.5zM515.7 313.8h1.5v1.5h-1.5zM522.4 313.0h1.5v1.5h-1.5zM514.7 312.7h1.5v1.5h-1.5zM522.1 312.6h1.5v1.5h-1.5zM471.2 295.5h1.5v1.5h-1.5zM526.2 309.6h1.5v1.5h-1.5zM517.6 315.2h1.5v1.5h-1.5zM523.6 312.5h1.5v1.5h-1.5zM512.9 304.3h1.5v1.5h-1.5zM522.1 312.6h1.5v1.5h-1.5zM437.8 298.2h1.5v1.5h-1.5zM520.1 314.9h1.5v1.5h-1.5zM524.0 314.2h1.5v1.5h-1.5zM522.8 312.7h1.5v1.5h-1.5zM512.7 312.2h1.5v1.5h-1.5zM518.6 315.6h1.5v1.5h-1.5zM516.0 312.9h1.5v1.5h-1.5zM507.6 301.4h1.5v1.5h-1.5zM514.6 315.0h1.5v1.5h-1.5zM525.1 307.4h1.5v1.5h-1.5zM515.0 311.3h1.5v1.5h-1.5zM532.5 308.4h1.5v1.5h-1.5zM509.4 291.7h1.5v1.5h-1.5zM515.1 315.4h1.5v1.5h-1.5zM520.0 314.5h1.5v1.5h-1.5zM531.6 302.9h1.5v1.5h-1.5zM490.9 300.7h1.5v1.5h-1.5zM527.3 310.0h1.5v1.5h-1.5zM507.4 303.1h1.5v1.5h-1.5zM514.2 313.2h1.5v1.5h-1.5zM534.5 311.6h1.5v1.5h-1.5zM520.4 314.6h1.5v1.5h-1.5zM508.4 312.7h1.5v1.5h-1.5zM516.1 310.1h1.5v1.5h-1.5zM509.0 312.0h1.5v1.5h-1.5zM516.3 312.8h1.5v1.5h-1.5zM505.2 305.2h1.5v1.5h-1.5zM522.3 313.3h1.5v1.5h-1.5zM524.0 311.0h1.5v1.5h-1.5zM502.3 310.3h1.5v1.5h-1.5zM523.7 303.7h1.5v1.5h-1.5zM522.2 313.1h1.5v1.5h-1.5zM510.1 310.5h1.5v1.5h-1.5zM518.8 315.6h1.5v1.5h-1.5zM523.7 308.7h1.5v1.5h-1.5zM516.9 313.6h1.5v1.5h-1.5zM515.1 313.4h1.5v1.5h-1.5zM518.3 315.6h1.5v1.5h-1.5zM506.7 300.1h1.5v1.5h-1.5zM527.1 304.9h1.5v1.5h-1.5zM513.3 312.2h1.5v1.5h-1.5zM518.8 315.6h1.5v1.5h-1.5zM522.2 314.5h1.5v1.5h-1.5zM515.2 311.8h1.5v1.5h-1.5zM525.4 313.6h1.5v1.5h-1.5zM515.4 310.7h1.5v1.5h-1.5zM519.9 315.2h1.5v1.5h-1.5zM521.1 313.8h1.5v1.5h-1.5zM525.6 303.0h1.5v1.5h-1.5zM523.5 311.7h1.5v1.5h-1.5zM511.3 306.2h1.5v1.5h-1.5zM505.8 291.2h1.5v1.5h-1.5zM515.3 314.1h1.5v1.5h-1.5zM508.0 297.2h1.5v1.5h-1.5zM491.2 297.5h1.5v1.5h-1.5zM532.1 296.9h1.5v1.5h-1.5zM518.3 315.6h1.5v1.5h-1.5zM489.0 309.7h1.5v1.5h-1.5zM519.9 315.1h1.5v1.5h-1.5zM516.3 314.2h1.5v1.5h-1.5zM518.4 315.6h1.5v1.5h-1.5zM495.7 301.6h1.5v1.5h-1.5zM531.3 300.5h1.5v1.5h-1.5zM518.0 315.6h1.5v1.5h-1.5zM509.3 307.2h1.5v1.5h-1.5zM528.6 301.9h1.5v1.5h-1.5zM525.4 306.4h1.5v1.5h-1.5zM519.6 315.2h1.5v1.5h-1.5zM519.8 313.7h1.5v1.5h-1.5zM518.9 315.4h1.5v1.5h-1.5zM523.0 313.7h1.5v1.5h-1.5zM511.7 305.0h1.5v1.5h-1.5zM514.3 314.2h1.5v1.5h-1.5zM504.4 309.6h1.5v1.5h-1.5zM520.2 314.2h1.5v1.5h-1.5zM533.9 306.2h1.5v1.5h-1.5zM525.0 308.3h1.5v1.5h-1.5zM538.2 295.4h1.5v1.5h-1.5zM514.1 308.5h1.5v1.5h-1.5zM513.1 311.4h1.5v1.5h-1.5zM515.7 312.9h1.5v1.5h-1.5zM525.7 305.3h1.5v1.5h-1.5zM512.9 312.7h1.5v1.5h-1.5zM507.0 303.4h1.5v1.5h-1.5zM511.9 310.2h1.5v1.5h-1.5zM521.5 309.7h1.5v1.5h-1.5zM505.9 299.4h1.5v1.5h-1.5zM508.0 307.7h1.5v1.5h-1.5zM528.7 308.8h1.5v1.5h-1.5zM520.6 311.8h1.5v1.5h-1.5zM528.4 305.8h1.5v1.5h-1.5zM522.0 314.4h1.5v1.5h-1.5zM536.2 309.8h1.5v1.5h-1.5zM558.6 309.2h1.5v1.5h-1.5zM510.5 309.1h1.5v1.5h-1.5zM521.1 314.3h1.5v1.5h-1.5zM523.0 313.9h1.5v1.5h-1.5zM495.4 309.5h1.5v1.5h-1.5zM511.2 307.2h1.5v1.5h-1.5zM519.2 315.0h1.5v1.5h-1.5zM518.0 315.3h1.5v1.5h-1.5zM522.3 312.3h1.5v1.5h-1.5zM518.3 315.6h1.5v1.5h-1.5zM513.9 312.6h1.5v1.5h-1.5zM524.8 310.9h1.5v1.5h-1.5zM517.4 314.5h1.5v1.5h-1.5zM531.6 298.5h1.5v1.5h-1.5zM524.0 303.6h1.5v1.5h-1.5zM521.5 314.8h1.5v1.5h-1.5zM510.3 305.4h1.5v1.5h-1.5zM531.8 304.5h1.5v1.5h-1.5zM528.6 297.0h1.5v1.5h-1.5zM512.4 296.0h1.5v1.5h-1.5zM526.1 310.5h1.5v1.5h-1.5zM530.2 291.4h1.5v1.5h-1.5zM509.7 307.9h1.5v1.5h-1.5zM528.1 303.6h1.5v1.5h-1.5zM575.6 296.8h1.5v1.5h-1.5zM525.3 305.4h1.5v1.5h-1.5zM515.1 314.2h1.5v1.5h-1.5zM521.9 313.9h1.5v1.5h-1.5zM522.1 314.0h1.5v1.5h-1.5zM525.2 306.8h1.5v1.5h-1.5zM494.6 307.5h1.5v1.5h-1.5zM505.0 301.5h1.5v1.5h-1.5zM523.5 309.7h1.5v1.5h-1.5zM530.3 310.8h1.5v1.5h-1.5zM500.2 303.6h1.5v1.5h-1.5zM512.0 305.5h1.5v1.5h-1.5zM526.6 294.8h1.5v1.5h-1.5zM518.1 315.6h1.5v1.5h-1.5zM539.5 295.2h1.5v1.5h-1.5zM512.3 313.4h1.5v1.5h-1.5zM518.0 315.2h1.5v1.5h-1.5zM521.7 309.6h1.5v1.5h-1.5zM503.9 296.6h1.5v1.5h-1.5zM522.1 310.9h1.5v1.5h-1.5zM552.1 298.3h1.5v1.5h-1.5zM517.1 315.2h1.5v1.5h-1.5zM525.2 312.9h1.5v1.5h-1.5zM507.2 300.3h1.5v1.5h-1.5zM513.4 313.6h1.5v1.5h-1.5zM506.8 301.8h1.5v1.5h-1.5zM521.7 313.8h1.5v1.5h-1.5zM505.7 302.7h1.5v1.5h-1.5zM512.1 302.3h1.5v1.5h-1.5zM500.6 302.9h1.5v1.5h-1.5zM514.0 313.2h1.5v1.5h-1.5zM559.7 303.4h1.5v1.5h-1.5zM505.2 297.3h1.5v1.5h-1.5zM518.8 315.6h1.5v1.5h-1.5zM518.1 315.6h1.5v1.5h-1.5zM514.9 314.9h1.5v1.5h-1.5zM501.1 297.9h1.5v1.5h-1.5zM520.7 314.2h1.5v1.5h-1.5zM513.7 313.3h1.5v1.5h-1.5zM525.7 304.6h1.5v1.5h-1.5zM513.8 312.2h1.5v1.5h-1.5zM539.1 303.0h1.5v1.5h-1.5zM518.6 315.6h1.5v1.5h-1.5zM519.6 314.8h1.5v1.5h-1.5zM513.2 311.1h1.5v1.5h-1.5zM512.0 309.4h1.5v1.5h-1.5zM516.5 315.2h1.5v1.5h-1.5zM519.0 315.6h1.5v1.5h-1.5zM519.3 315.1h1.5v1.5h-1.5zM513.0 313.0h1.5v1.5h-1.5zM532.9 307.9h1.5v1.5h-1.5zM520.6 315.1h1.5v1.5h-1.5zM522.6 310.4h1.5v1.5h-1.5zM516.4 313.3h1.5v1.5h-1.5zM514.8 312.0h1.5v1.5h-1.5zM528.5 309.0h1.5v1.5h-1.5zM497.1 309.1h1.5v1.5h-1.5zM526.5 311.7h1.5v1.5h-1.5zM515.5 309.3h1.5v1.5h-1.5zM503.2 301.2h1.5v1.5h-1.5zM523.2 314.1h1.5v1.5h-1.5zM524.7 302.8h1.5v1.5h-1.5zM513.2 302.4h1.5v1.5h-1.5zM525.8 313.0h1.5v1.5h-1.5zM519.4 314.7h1.5v1.5h-1.5zM542.3 298.8h1.5v1.5h-1.5zM506.3 295.2h1.5v1.5h-1.5z" fill="#111" fill-opacity="0.72"/>
<path d="M511.6 312.5h1.5v1.5h-1.5zM523.7 310.1h1.5v1.5h-1.5zM522.4 314.1h1.5v1.5h-1.5zM524.5 304.2h1.5v1.5h-1.5zM516.7 315.2h1.5v1.5h-1.5zM522.4 312.3h1.5v1.5h-1.5zM501.2 313.7h1.5v1.5h-1.5zM512.1 297.3h1.5v1.5h-1.5zM511.0 314.3h1.5v1.5h-1.5zM519.6 314.9h1.5v1.5h-1.5zM516.3 313.2h1.5v1.5h-1.5zM516.1 312.6h1.5v1.5h-1.5zM510.2 311.0h1.5v1.5h-1.5zM520.7 311.8h1.5v1.5h-1.5zM512.7 303.5h1.5v1.5h-1.5zM505.3 304.0h1.5v1.5h-1.5zM513.3 309.1h1.5v1.5h-1.5zM519.1 315.4h1.5v1.5h-1.5zM520.9 312.5h1.5v1.5h-1.5zM511.2 312.6h1.5v1.5h-1.5zM511.9 311.5h1.5v1.5h-1.5zM514.1 312.8h1.5v1.5h-1.5zM518.3 315.6h1.5v1.5h-1.5zM513.4 314.1h1.5v1.5h-1.5zM526.9 308.5h1.5v1.5h-1.5zM489.7 298.4h1.5v1.5h-1.5zM520.6 315.3h1.5v1.5h-1.5zM508.8 287.3h1.5v1.5h-1.5zM518.2 315.6h1.5v1.5h-1.5zM522.4 308.6h1.5v1.5h-1.5zM522.0 314.4h1.5v1.5h-1.5zM510.3 301.7h1.5v1.5h-1.5zM503.9 302.0h1.5v1.5h-1.5zM527.8 306.8h1.5v1.5h-1.5zM537.6 309.2h1.5v1.5h-1.5zM504.9 310.9h1.5v1.5h-1.5zM525.6 308.3h1.5v1.5h-1.5zM516.4 313.0h1.5v1.5h-1.5zM513.7 312.4h1.5v1.5h-1.5zM526.7 300.3h1.5v1.5h-1.5zM435.0 300.2h1.5v1.5h-1.5zM521.3 314.6h1.5v1.5h-1.5zM508.1 308.5h1.5v1.5h-1.5zM501.5 306.4h1.5v1.5h-1.5zM521.8 312.2h1.5v1.5h-1.5zM497.5 296.2h1.5v1.5h-1.5zM519.1 315.6h1.5v1.5h-1.5zM513.7 310.1h1.5v1.5h-1.5zM518.4 315.6h1.5v1.5h-1.5zM529.3 311.0h1.5v1.5h-1.5zM525.3 304.4h1.5v1.5h-1.5zM532.8 306.4h1.5v1.5h-1.5zM509.4 305.9h1.5v1.5h-1.5zM536.6 303.6h1.5v1.5h-1.5zM515.6 313.8h1.5v1.5h-1.5zM520.5 313.4h1.5v1.5h-1.5zM509.9 293.2h1.5v1.5h-1.5zM527.3 302.8h1.5v1.5h-1.5zM506.7 303.9h1.5v1.5h-1.5zM503.1 300.9h1.5v1.5h-1.5zM519.7 315.2h1.5v1.5h-1.5zM523.1 313.3h1.5v1.5h-1.5zM521.1 312.9h1.5v1.5h-1.5zM516.0 314.6h1.5v1.5h-1.5zM516.0 314.8h1.5v1.5h-1.5zM524.4 309.6h1.5v1.5h-1.5zM502.6 301.5h1.5v1.5h-1.5zM511.8 309.8h1.5v1.5h-1.5zM517.6 315.1h1.5v1.5h-1.5zM536.5 301.3h1.5v1.5h-1.5zM533.7 310.9h1.5v1.5h-1.5zM516.1 313.6h1.5v1.5h-1.5zM521.5 313.7h1.5v1.5h-1.5zM519.4 315.6h1.5v1.5h-1.5zM525.2 314.6h1.5v1.5h-1.5zM525.3 299.9h1.5v1.5h-1.5zM510.3 313.0h1.5v1.5h-1.5zM512.4 305.9h1.5v1.5h-1.5zM541.1 307.7h1.5v1.5h-1.5zM522.3 311.3h1.5v1.5h-1.5zM511.9 308.3h1.5v1.5h-1.5zM506.4 289.5h1.5v1.5h-1.5zM498.7 307.7h1.5v1.5h-1.5zM525.8 307.7h1.5v1.5h-1.5zM545.0 303.2h1.5v1.5h-1.5zM513.7 312.0h1.5v1.5h-1.5zM536.4 296.1h1.5v1.5h-1.5zM516.1 314.2h1.5v1.5h-1.5zM514.1 310.3h1.5v1.5h-1.5zM493.6 298.4h1.5v1.5h-1.5zM517.3 314.5h1.5v1.5h-1.5zM520.1 314.4h1.5v1.5h-1.5zM514.4 311.7h1.5v1.5h-1.5zM518.3 315.6h1.5v1.5h-1.5zM523.9 305.1h1.5v1.5h-1.5zM515.6 314.0h1.5v1.5h-1.5zM534.5 310.3h1.5v1.5h-1.5zM528.6 308.4h1.5v1.5h-1.5zM513.7 304.8h1.5v1.5h-1.5zM517.3 313.8h1.5v1.5h-1.5zM513.3 311.2h1.5v1.5h-1.5zM541.4 299.9h1.5v1.5h-1.5zM509.0 301.7h1.5v1.5h-1.5zM540.7 298.3h1.5v1.5h-1.5zM526.8 298.8h1.5v1.5h-1.5zM516.5 311.7h1.5v1.5h-1.5zM518.6 315.6h1.5v1.5h-1.5zM526.0 312.8h1.5v1.5h-1.5zM512.6 312.5h1.5v1.5h-1.5zM522.8 312.4h1.5v1.5h-1.5zM510.5 312.3h1.5v1.5h-1.5zM526.3 311.3h1.5v1.5h-1.5zM529.2 306.5h1.5v1.5h-1.5zM523.1 311.6h1.5v1.5h-1.5zM514.6 310.5h1.5v1.5h-1.5zM526.3 294.6h1.5v1.5h-1.5zM513.4 311.9h1.5v1.5h-1.5zM509.4 309.0h1.5v1.5h-1.5zM517.6 315.1h1.5v1.5h-1.5zM502.8 304.2h1.5v1.5h-1.5zM525.4 310.2h1.5v1.5h-1.5zM512.9 308.4h1.5v1.5h-1.5zM530.2 308.1h1.5v1.5h-1.5zM499.3 297.9h1.5v1.5h-1.5zM528.1 298.0h1.5v1.5h-1.5zM522.0 310.1h1.5v1.5h-1.5zM519.7 315.2h1.5v1.5h-1.5zM505.4 301.0h1.5v1.5h-1.5zM519.5 314.3h1.5v1.5h-1.5zM509.5 309.1h1.5v1.5h-1.5zM523.5 310.6h1.5v1.5h-1.5zM500.9 307.1h1.5v1.5h-1.5zM530.6 309.2h1.5v1.5h-1.5zM512.9 314.1h1.5v1.5h-1.5zM524.3 311.7h1.5v1.5h-1.5zM515.2 313.1h1.5v1.5h-1.5zM517.4 314.3h1.5v1.5h-1.5zM501.2 308.1h1.5v1.5h-1.5zM527.8 308.0h1.5v1.5h-1.5zM486.9 295.9h1.5v1.5h-1.5zM533.8 314.4h1.5v1.5h-1.5zM526.0 302.3h1.5v1.5h-1.5zM515.9 313.1h1.5v1.5h-1.5zM514.5 309.8h1.5v1.5h-1.5zM512.4 314.7h1.5v1.5h-1.5zM512.1 310.6h1.5v1.5h-1.5zM534.5 295.4h1.5v1.5h-1.5zM527.9 302.1h1.5v1.5h-1.5zM511.7 306.4h1.5v1.5h-1.5zM513.9 314.6h1.5v1.5h-1.5zM521.7 311.5h1.5v1.5h-1.5zM515.0 310.2h1.5v1.5h-1.5zM511.7 313.5h1.5v1.5h-1.5zM513.1 297.7h1.5v1.5h-1.5zM528.6 309.7h1.5v1.5h-1.5zM503.3 311.4h1.5v1.5h-1.5zM512.8 310.8h1.5v1.5h-1.5zM483.1 309.9h1.5v1.5h-1.5zM520.2 313.1h1.5v1.5h-1.5zM525.0 304.6h1.5v1.5h-1.5zM517.6 314.7h1.5v1.5h-1.5zM516.3 314.0h1.5v1.5h-1.5zM534.2 295.8h1.5v1.5h-1.5zM510.9 306.7h1.5v1.5h-1.5zM506.7 309.1h1.5v1.5h-1.5zM517.7 315.0h1.5v1.5h-1.5zM532.0 309.9h1.5v1.5h-1.5zM485.5 298.2h1.5v1.5h-1.5zM527.4 312.1h1.5v1.5h-1.5zM533.4 294.1h1.5v1.5h-1.5zM520.8 312.3h1.5v1.5h-1.5zM523.3 309.5h1.5v1.5h-1.5zM513.9 314.8h1.5v1.5h-1.5zM516.2 314.6h1.5v1.5h-1.5zM524.6 304.4h1.5v1.5h-1.5zM528.2 310.5h1.5v1.5h-1.5zM527.2 311.2h1.5v1.5h-1.5zM515.4 315.5h1.5v1.5h-1.5zM522.4 313.2h1.5v1.5h-1.5zM525.5 302.7h1.5v1.5h-1.5zM516.0 312.3h1.5v1.5h-1.5zM534.5 302.8h1.5v1.5h-1.5zM504.7 304.2h1.5v1.5h-1.5zM517.0 314.4h1.5v1.5h-1.5zM526.5 302.8h1.5v1.5h-1.5zM528.8 312.8h1.5v1.5h-1.5zM537.3 301.0h1.5v1.5h-1.5zM532.8 308.1h1.5v1.5h-1.5zM555.8 305.9h1.5v1.5h-1.5zM557.8 304.6h1.5v1.5h-1.5zM521.0 312.8h1.5v1.5h-1.5zM510.0 309.6h1.5v1.5h-1.5zM508.2 307.2h1.5v1.5h-1.5zM513.5 313.8h1.5v1.5h-1.5zM515.4 310.7h1.5v1.5h-1.5zM520.4 314.9h1.5v1.5h-1.5zM514.6 312.8h1.5v1.5h-1.5zM521.1 312.4h1.5v1.5h-1.5zM493.6 300.1h1.5v1.5h-1.5zM510.7 309.9h1.5v1.5h-1.5zM516.7 314.2h1.5v1.5h-1.5zM520.2 315.5h1.5v1.5h-1.5zM505.6 302.7h1.5v1.5h-1.5zM518.0 315.6h1.5v1.5h-1.5zM523.0 308.5h1.5v1.5h-1.5zM512.7 312.3h1.5v1.5h-1.5zM511.5 311.3h1.5v1.5h-1.5zM511.8 313.2h1.5v1.5h-1.5zM515.5 313.8h1.5v1.5h-1.5zM523.1 313.1h1.5v1.5h-1.5zM525.0 310.3h1.5v1.5h-1.5zM516.7 314.8h1.5v1.5h-1.5zM522.7 310.7h1.5v1.5h-1.5zM508.8 308.7h1.5v1.5h-1.5zM523.4 308.0h1.5v1.5h-1.5zM519.6 315.2h1.5v1.5h-1.5zM525.9 311.4h1.5v1.5h-1.5zM518.4 315.6h1.5v1.5h-1.5zM526.9 312.7h1.5v1.5h-1.5zM517.1 314.5h1.5v1.5h-1.5zM520.6 312.8h1.5v1.5h-1.5zM514.8 309.3h1.5v1.5h-1.5zM514.6 313.2h1.5v1.5h-1.5zM505.0 309.1h1.5v1.5h-1.5zM519.0 315.5h1.5v1.5h-1.5zM513.8 312.3h1.5v1.5h-1.5zM513.0 307.3h1.5v1.5h-1.5zM517.0 315.6h1.5v1.5h-1.5zM489.5 304.9h1.5v1.5h-1.5zM526.9 310.8h1.5v1.5h-1.5zM520.0 313.5h1.5v1.5h-1.5zM524.0 306.7h1.5v1.5h-1.5zM514.7 314.6h1.5v1.5h-1.5zM515.6 310.2h1.5v1.5h-1.5zM523.3 309.4h1.5v1.5h-1.5zM518.4 315.6h1.5v1.5h-1.5zM536.2 306.9h1.5v1.5h-1.5zM544.1 304.3h1.5v1.5h-1.5zM522.2 308.3h1.5v1.5h-1.5zM514.8 313.9h1.5v1.5h-1.5zM591.9 293.5h1.5v1.5h-1.5zM525.6 308.9h1.5v1.5h-1.5zM508.1 300.9h1.5v1.5h-1.5zM523.8 310.5h1.5v1.5h-1.5zM510.8 310.4h1.5v1.5h-1.5zM518.0 315.2h1.5v1.5h-1.5zM519.5 315.1h1.5v1.5h-1.5zM538.2 311.3h1.5v1.5h-1.5zM517.0 315.3h1.5v1.5h-1.5zM526.6 309.0h1.5v1.5h-1.5zM566.9 304.1h1.5v1.5h-1.5zM515.5 310.3h1.5v1.5h-1.5zM527.9 300.0h1.5v1.5h-1.5zM522.2 312.8h1.5v1.5h-1.5zM516.2 314.5h1.5v1.5h-1.5zM582.0 296.4h1.5v1.5h-1.5zM516.0 311.6h1.5v1.5h-1.5zM515.1 314.4h1.5v1.5h-1.5zM545.7 298.1h1.5v1.5h-1.5zM507.4 276.7h1.5v1.5h-1.5zM505.7 315.0h1.5v1.5h-1.5zM516.1 313.9h1.5v1.5h-1.5zM516.7 315.3h1.5v1.5h-1.5zM506.8 295.3h1.5v1.5h-1.5zM519.6 315.5h1.5v1.5h-1.5zM522.2 314.2h1.5v1.5h-1.5zM533.1 301.3h1.5v1.5h-1.5zM516.5 312.9h1.5v1.5h-1.5zM501.6 295.0h1.5v1.5h-1.5zM530.0 310.1h1.5v1.5h-1.5zM510.4 307.7h1.5v1.5h-1.5zM517.7 315.0h1.5v1.5h-1.5zM526.1 310.3h1.5v1.5h-1.5zM516.0 314.8h1.5v1.5h-1.5zM519.4 315.5h1.5v1.5h-1.5zM506.1 306.1h1.5v1.5h-1.5zM524.0 311.5h1.5v1.5h-1.5zM521.5 312.2h1.5v1.5h-1.5zM518.5 315.6h1.5v1.5h-1.5zM511.2 311.5h1.5v1.5h-1.5zM521.4 311.9h1.5v1.5h-1.5zM544.5 306.8h1.5v1.5h-1.5zM521.8 311.9h1.5v1.5h-1.5zM509.4 302.6h1.5v1.5h-1.5zM517.2 315.3h1.5v1.5h-1.5zM523.9 313.2h1.5v1.5h-1.5zM521.5 313.3h1.5v1.5h-1.5zM489.4 309.6h1.5v1.5h-1.5zM508.8 302.3h1.5v1.5h-1.5zM507.6 288.3h1.5v1.5h-1.5zM515.3 313.1h1.5v1.5h-1.5zM526.1 308.8h1.5v1.5h-1.5zM505.6 309.7h1.5v1.5h-1.5zM529.4 288.7h1.5v1.5h-1.5zM519.0 315.6h1.5v1.5h-1.5zM503.7 310.7h1.5v1.5h-1.5zM522.8 314.7h1.5v1.5h-1.5zM523.3 309.9h1.5v1.5h-1.5zM515.8 314.9h1.5v1.5h-1.5zM518.6 315.6h1.5v1.5h-1.5zM549.7 305.2h1.5v1.5h-1.5zM504.6 312.2h1.5v1.5h-1.5zM556.9 310.0h1.5v1.5h-1.5zM516.6 314.8h1.5v1.5h-1.5zM500.9 307.2h1.5v1.5h-1.5zM513.7 312.9h1.5v1.5h-1.5zM513.1 308.8h1.5v1.5h-1.5zM535.5 308.9h1.5v1.5h-1.5zM521.8 310.0h1.5v1.5h-1.5zM508.4 311.4h1.5v1.5h-1.5zM516.3 311.5h1.5v1.5h-1.5zM519.8 314.9h1.5v1.5h-1.5zM507.3 312.2h1.5v1.5h-1.5zM525.5 314.2h1.5v1.5h-1.5zM503.7 311.7h1.5v1.5h-1.5zM513.9 305.3h1.5v1.5h-1.5zM520.1 314.0h1.5v1.5h-1.5zM521.6 315.0h1.5v1.5h-1.5zM507.1 309.5h1.5v1.5h-1.5zM512.7 311.9h1.5v1.5h-1.5zM527.6 305.1h1.5v1.5h-1.5zM508.7 307.7h1.5v1.5h-1.5zM513.0 311.8h1.5v1.5h-1.5zM515.4 311.3h1.5v1.5h-1.5zM515.1 314.8h1.5v1.5h-1.5zM522.6 310.9h1.5v1.5h-1.5zM537.9 309.6h1.5v1.5h-1.5zM514.9 313.0h1.5v1.5h-1.5zM532.8 312.8h1.5v1.5h-1.5zM535.8 307.6h1.5v1.5h-1.5zM526.2 307.5h1.5v1.5h-1.5zM514.9 313.1h1.5v1.5h-1.5zM535.0 305.3h1.5v1.5h-1.5zM512.3 312.5h1.5v1.5h-1.5zM528.4 311.2h1.5v1.5h-1.5zM506.9 310.1h1.5v1.5h-1.5zM526.5 300.3h1.5v1.5h-1.5zM510.2 312.3h1.5v1.5h-1.5zM518.3 315.6h1.5v1.5h-1.5zM521.3 314.3h1.5v1.5h-1.5zM514.8 313.2h1.5v1.5h-1.5zM506.9 305.0h1.5v1.5h-1.5zM580.4 307.3h1.5v1.5h-1.5zM511.3 303.5h1.5v1.5h-1.5zM521.5 312.5h1.5v1.5h-1.5zM560.2 305.6h1.5v1.5h-1.5zM542.8 304.6h1.5v1.5h-1.5zM472.3 297.6h1.5v1.5h-1.5zM519.5 315.3h1.5v1.5h-1.5zM527.3 308.0h1.5v1.5h-1.5zM508.6 310.8h1.5v1.5h-1.5zM516.7 314.6h1.5v1.5h-1.5zM515.0 309.8h1.5v1.5h-1.5zM523.5 313.1h1.5v1.5h-1.5zM514.3 307.8h1.5v1.5h-1.5zM520.8 315.0h1.5v1.5h-1.5zM522.9 313.9h1.5v1.5h-1.5zM520.6 313.7h1.5v1.5h-1.5zM529.0 310.0h1.5v1.5h-1.5zM516.8 312.9h1.5v1.5h-1.5zM520.0 314.9h1.5v1.5h-1.5zM535.4 294.2h1.5v1.5h-1.5zM528.5 306.3h1.5v1.5h-1.5zM524.4 310.2h1.5v1.5h-1.5zM499.2 310.6h1.5v1.5h-1.5zM522.2 313.7h1.5v1.5h-1.5zM502.9 299.9h1.5v1.5h-1.5zM521.5 314.6h1.5v1.5h-1.5zM525.4 308.4h1.5v1.5h-1.5zM517.1 314.1h1.5v1.5h-1.5zM523.9 313.2h1.5v1.5h-1.5zM524.2 311.7h1.5v1.5h-1.5zM520.0 313.3h1.5v1.5h-1.5zM520.9 312.4h1.5v1.5h-1.5zM515.4 311.7h1.5v1.5h-1.5zM516.6 315.0h1.5v1.5h-1.5zM522.9 308.6h1.5v1.5h-1.5zM547.7 302.1h1.5v1.5h-1.5zM514.4 310.5h1.5v1.5h-1.5zM524.9 306.8h1.5v1.5h-1.5zM511.1 312.2h1.5v1.5h-1.5zM522.7 307.5h1.5v1.5h-1.5zM518.8 315.6h1.5v1.5h-1.5zM518.4 315.6h1.5v1.5h-1.5zM523.4 313.4h1.5v1.5h-1.5zM515.3 313.5h1.5v1.5h-1.5zM517.6 315.4h1.5v1.5h-1.5zM529.6 310.8h1.5v1.5h-1.5zM522.1 308.5h1.5v1.5h-1.5zM526.9 310.5h1.5v1.5h-1.5zM519.0 315.4h1.5v1.5h-1.5zM519.6 315.0h1.5v1.5h-1.5zM516.8 314.6h1.5v1.5h-1.5zM536.7 297.5h1.5v1.5h-1.5zM535.7 311.0h1.5v1.5h-1.5zM516.6 315.3h1.5v1.5h-1.5zM516.9 315.3h1.5v1.5h-1.5zM504.9 314.0h1.5v1.5h-1.5zM518.8 315.6h1.5v1.5h-1.5zM526.1 305.2h1.5v1.5h-1.5z" fill="#111" fill-opacity="0.72"/>
<path d="M538.6 313.2h1.5v1.5h-1.5zM517.3 314.6h1.5v1.5h-1.5zM604.1 299.9h1.5v1.5h-1.5zM489.9 298.7h1.5v1.5h-1.5zM504.9 303.7h1.5v1.5h-1.5zM529.8 285.1h1.5v1.5h-1.5zM518.0 315.2h1.5v1.5h-1.5zM539.5 310.4h1.5v1.5h-1.5zM525.5 301.0h1.5v1.5h-1.5zM512.1 307.1h1.5v1.5h-1.5zM510.7 308.9h1.5v1.5h-1.5zM496.9 311.3h1.5v1.5h-1.5zM519.0 315.5h1.5v1.5h-1.5zM518.1 315.6h1.5v1.5h-1.5zM520.3 314.1h1.5v1.5h-1.5zM520.1 314.8h1.5v1.5h-1.5zM512.6 313.1h1.5v1.5h-1.5zM526.5 307.5h1.5v1.5h-1.5zM518.4 315.6h1.5v1.5h-1.5zM514.4 312.8h1.5v1.5h-1.5zM518.4 315.6h1.5v1.5h-1.5zM531.3 305.4h1.5v1.5h-1.5zM520.6 312.4h1.5v1.5h-1.5zM513.5 312.0h1.5v1.5h-1.5zM515.4 313.7h1.5v1.5h-1.5zM522.9 313.1h1.5v1.5h-1.5zM522.7 307.3h1.5v1.5h-1.5zM523.4 314.3h1.5v1.5h-1.5zM513.6 313.5h1.5v1.5h-1.5zM535.2 294.7h1.5v1.5h-1.5zM509.4 311.4h1.5v1.5h-1.5zM510.5 314.7h1.5v1.5h-1.5zM507.7 310.2h1.5v1.5h-1.5zM522.4 313.6h1.5v1.5h-1.5zM513.8 310.9h1.5v1.5h-1.5zM517.4 315.2h1.5v1.5h-1.5zM413.4 300.9h1.5v1.5h-1.5zM520.7 314.3h1.5v1.5h-1.5zM517.9 314.6h1.5v1.5h-1.5zM498.4 293.7h1.5v1.5h-1.5zM523.3 309.7h1.5v1.5h-1.5zM517.1 315.0h1.5v1.5h-1.5zM523.2 304.9h1.5v1.5h-1.5zM501.9 310.1h1.5v1.5h-1.5zM516.1 314.1h1.5v1.5h-1.5zM536.0 301.5h1.5v1.5h-1.5zM518.8 315.6h1.5v1.5h-1.5zM513.2 307.9h1.5v1.5h-1.5zM520.7 313.2h1.5v1.5h-1.5zM525.9 312.0h1.5v1.5h-1.5zM499.3 311.7h1.5v1.5h-1.5zM536.0 305.2h1.5v1.5h-1.5zM511.8 308.3h1.5v1.5h-1.5zM514.4 311.4h1.5v1.5h-1.5zM532.4 307.5h1.5v1.5h-1.5zM517.7 314.7h1.5v1.5h-1.5zM518.7 315.6h1.5v1.5h-1.5zM522.0 310.6h1.5v1.5h-1.5zM494.3 294.5h1.5v1.5h-1.5zM517.7 314.5h1.5v1.5h-1.5zM528.0 313.7h1.5v1.5h-1.5zM519.6 315.5h1.5v1.5h-1.5zM523.7 311.0h1.5v1.5h-1.5zM517.0 314.2h1.5v1.5h-1.5zM529.3 308.4h1.5v1.5h-1.5zM528.0 312.5h1.5v1.5h-1.5zM513.1 310.8h1.5v1.5h-1.5zM524.0 313.0h1.5v1.5h-1.5zM527.0 310.2h1.5v1.5h-1.5zM505.7 302.5h1.5v1.5h-1.5zM524.2 309.3h1.5v1.5h-1.5zM491.8 306.9h1.5v1.5h-1.5zM528.2 310.4h1.5v1.5h-1.5zM525.9 308.4h1.5v1.5h-1.5zM513.2 314.2h1.5v1.5h-1.5zM507.6 299.7h1.5v1.5h-1.5zM506.8 299.0h1.5v1.5h-1.5zM502.3 295.3h1.5v1.5h-1.5zM520.3 314.1h1.5v1.5h-1.5zM536.7 300.7h1.5v1.5h-1.5zM518.0 315.5h1.5v1.5h-1.5zM517.6 314.8h1.5v1.5h-1.5zM515.0 314.8h1.5v1.5h-1.5zM505.3 305.9h1.5v1.5h-1.5zM515.8 314.2h1.5v1.5h-1.5zM501.6 304.1h1.5v1.5h-1.5zM548.6 307.1h1.5v1.5h-1.5zM499.9 303.5h1.5v1.5h-1.5zM505.2 309.4h1.5v1.5h-1.5zM511.6 310.7h1.5v1.5h-1.5zM513.9 311.5h1.5v1.5h-1.5zM518.0 315.4h1.5v1.5h-1.5zM521.7 308.8h1.5v1.5h-1.5zM521.9 311.1h1.5v1.5h-1.5zM512.6 309.7h1.5v1.5h-1.5zM514.9 310.3h1.5v1.5h-1.5zM534.8 310.2h1.5v1.5h-1.5zM509.6 307.0h1.5v1.5h-1.5zM505.3 307.9h1.5v1.5h-1.5zM518.7 315.6h1.5v1.5h-1.5zM510.4 308.1h1.5v1.5h-1.5zM520.8 313.2h1.5v1.5h-1.5zM503.4 309.6h1.5v1.5h-1.5zM531.0 295.1h1.5v1.5h-1.5zM523.4 310.9h1.5v1.5h-1.5zM511.0 313.1h1.5v1.5h-1.5zM527.5 312.6h1.5v1.5h-1.5zM524.3 311.6h1.5v1.5h-1.5zM521.4 311.6h1.5v1.5h-1.5zM509.7 308.8h1.5v1.5h-1.5zM540.8 301.6h1.5v1.5h-1.5zM536.2 310.9h1.5v1.5h-1.5zM524.8 303.3h1.5v1.5h-1.5zM522.8 312.5h1.5v1.5h-1.5zM522.3 309.4h1.5v1.5h-1.5zM500.8 311.4h1.5v1.5h-1.5zM513.7 306.6h1.5v1.5h-1.5zM518.6 315.6h1.5v1.5h-1.5zM549.2 304.3h1.5v1.5h-1.5zM474.7 307.4h1.5v1.5h-1.5zM520.4 314.5h1.5v1.5h-1.5zM511.6 313.0h1.5v1.5h-1.5zM539.0 309.5h1.5v1.5h-1.5zM554.3 309.3h1.5v1.5h-1.5zM543.6 309.8h1.5v1.5h-1.5zM527.2 301.0h1.5v1.5h-1.5zM511.3 313.5h1.5v1.5h-1.5zM522.0 314.2h1.5v1.5h-1.5zM499.2 304.0h1.5v1.5h-1.5zM509.2 305.5h1.5v1.5h-1.5zM517.6 315.1h1.5v1.5h-1.5zM523.4 314.1h1.5v1.5h-1.5zM517.5 315.5h1.5v1.5h-1.5zM530.6 313.4h1.5v1.5h-1.5zM519.3 314.6h1.5v1.5h-1.5zM522.1 310.2h1.5v1.5h-1.5zM521.6 310.1h1.5v1.5h-1.5zM529.4 307.0h1.5v1.5h-1.5zM516.3 313.3h1.5v1.5h-1.5zM509.0 307.4h1.5v1.5h-1.5zM515.6 313.6h1.5v1.5h-1.5zM518.9 315.6h1.5v1.5h-1.5zM517.2 315.3h1.5v1.5h-1.5zM531.2 305.3h1.5v1.5h-1.5zM519.6 315.5h1.5v1.5h-1.5zM524.8 308.0h1.5v1.5h-1.5zM510.1 314.4h1.5v1.5h-1.5zM527.5 293.1h1.5v1.5h-1.5zM514.1 313.0h1.5v1.5h-1.5zM516.3 312.4h1.5v1.5h-1.5zM453.3 306.7h1.5v1.5h-1.5zM513.5 311.9h1.5v1.5h-1.5zM515.8 312.5h1.5v1.5h-1.5zM520.4 315.2h1.5v1.5h-1.5zM522.5 312.4h1.5v1.5h-1.5zM518.1 315.6h1.5v1.5h-1.5zM518.6 315.6h1.5v1.5h-1.5zM520.2 314.1h1.5v1.5h-1.5zM524.4 313.6h1.5v1.5h-1.5zM520.2 314.0h1.5v1.5h-1.5zM515.1 313.2h1.5v1.5h-1.5zM521.7 309.9h1.5v1.5h-1.5zM506.5 303.0h1.5v1.5h-1.5zM522.5 313.0h1.5v1.5h-1.5zM513.8 308.0h1.5v1.5h-1.5zM519.5 315.4h1.5v1.5h-1.5zM512.6 311.2h1.5v1.5h-1.5zM528.1 310.6h1.5v1.5h-1.5zM537.4 310.4h1.5v1.5h-1.5zM513.1 310.4h1.5v1.5h-1.5zM515.3 314.2h1.5v1.5h-1.5zM500.7 310.2h1.5v1.5h-1.5zM524.9 313.3h1.5v1.5h-1.5zM523.7 310.1h1.5v1.5h-1.5zM502.4 294.2h1.5v1.5h-1.5zM506.9 305.8h1.5v1.5h-1.5zM505.3 299.4h1.5v1.5h-1.5zM515.2 314.1h1.5v1.5h-1.5zM531.5 296.6h1.5v1.5h-1.5zM525.0 309.3h1.5v1.5h-1.5zM540.2 305.2h1.5v1.5h-1.5zM513.9 314.4h1.5v1.5h-1.5zM526.5 310.3h1.5v1.5h-1.5zM508.7 311.9h1.5v1.5h-1.5zM537.7 301.6h1.5v1.5h-1.5zM522.0 313.5h1.5v1.5h-1.5zM539.4 308.2h1.5v1.5h-1.5zM525.0 304.3h1.5v1.5h-1.5zM528.0 303.4h1.5v1.5h-1.5zM521.3 313.6h1.5v1.5h-1.5zM514.1 310.6h1.5v1.5h-1.5zM503.8 311.5h1.5v1.5h-1.5zM522.6 313.3h1.5v1.5h-1.5zM518.2 315.6h1.5v1.5h-1.5zM522.3 314.2h1.5v1.5h-1.5zM533.4 305.0h1.5v1.5h-1.5zM512.0 306.9h1.5v1.5h-1.5zM509.2 304.8h1.5v1.5h-1.5zM519.7 315.0h1.5v1.5h-1.5zM518.1 315.4h1.5v1.5h-1.5zM517.7 314.4h1.5v1.5h-1.5zM520.3 315.3h1.5v1.5h-1.5zM522.3 313.7h1.5v1.5h-1.5zM514.9 310.8h1.5v1.5h-1.5zM510.7 310.4h1.5v1.5h-1.5zM531.4 311.9h1.5v1.5h-1.5zM514.9 312.2h1.5v1.5h-1.5zM510.7 308.8h1.5v1.5h-1.5zM519.1 315.3h1.5v1.5h-1.5zM518.7 315.6h1.5v1.5h-1.5zM503.2 311.8h1.5v1.5h-1.5zM519.6 315.5h1.5v1.5h-1.5zM524.6 311.5h1.5v1.5h-1.5zM520.7 314.1h1.5v1.5h-1.5zM512.9 313.3h1.5v1.5h-1.5zM517.8 315.1h1.5v1.5h-1.5zM505.8 294.3h1.5v1.5h-1.5zM511.4 312.2h1.5v1.5h-1.5zM516.9 315.1h1.5v1.5h-1.5zM520.2 315.3h1.5v1.5h-1.5zM523.3 308.7h1.5v1.5h-1.5zM519.8 315.2h1.5v1.5h-1.5zM521.4 313.8h1.5v1.5h-1.5zM524.4 311.5h1.5v1.5h-1.5zM507.9 291.1h1.5v1.5h-1.5zM520.4 313.6h1.5v1.5h-1.5zM515.5 314.7h1.5v1.5h-1.5zM506.9 302.9h1.5v1.5h-1.5zM524.2 310.8h1.5v1.5h-1.5zM517.6 315.6h1.5v1.5h-1.5zM512.9 305.4h1.5v1.5h-1.5zM505.1 301.8h1.5v1.5h-1.5zM480.4 306.1h1.5v1.5h-1.5zM525.0 312.5h1.5v1.5h-1.5zM524.3 313.1h1.5v1.5h-1.5zM527.1 310.9h1.5v1.5h-1.5zM507.4 307.3h1.5v1.5h-1.5zM509.8 299.7h1.5v1.5h-1.5zM518.7 315.6h1.5v1.5h-1.5zM504.0 314.3h1.5v1.5h-1.5zM505.7 304.5h1.5v1.5h-1.5zM509.3 307.6h1.5v1.5h-1.5zM535.9 303.3h1.5v1.5h-1.5zM507.8 312.7h1.5v1.5h-1.5zM509.2 306.8h1.5v1.5h-1.5zM508.3 307.3h1.5v1.5h-1.5zM518.6 315.6h1.5v1.5h-1.5zM530.4 307.0h1.5v1.5h-1.5zM548.3 305.7h1.5v1.5h-1.5zM517.9 315.1h1.5v1.5h-1.5zM511.2 311.4h1.5v1.5h-1.5zM510.3 313.6h1.5v1.5h-1.5zM510.4 310.3h1.5v1.5h-1.5zM531.1 312.7h1.5v1.5h-1.5zM502.1 302.7h1.5v1.5h-1.5zM542.3 303.6h1.5v1.5h-1.5zM524.9 309.4h1.5v1.5h-1.5zM514.6 312.6h1.5v1.5h-1.5zM514.5 308.0h1.5v1.5h-1.5zM519.5 314.8h1.5v1.5h-1.5zM509.3 311.9h1.5v1.5h-1.5zM522.8 310.8h1.5v1.5h-1.5zM547.5 299.5h1.5v1.5h-1.5zM521.5 315.3h1.5v1.5h-1.5zM540.3 296.6h1.5v1.5h-1.5zM531.5 305.7h1.5v1.5h-1.5zM520.3 314.4h1.5v1.5h-1.5zM504.9 310.2h1.5v1.5h-1.5zM516.3 312.9h1.5v1.5h-1.5zM524.1 313.7h1.5v1.5h-1.5zM521.4 311.8h1.5v1.5h-1.5zM512.2 312.0h1.5v1.5h-1.5zM531.1 304.7h1.5v1.5h-1.5zM515.8 314.1h1.5v1.5h-1.5zM526.0 310.6h1.5v1.5h-1.5zM528.0 296.4h1.5v1.5h-1.5zM513.3 312.9h1.5v1.5h-1.5zM512.6 313.1h1.5v1.5h-1.5zM513.1 308.9h1.5v1.5h-1.5zM510.2 311.8h1.5v1.5h-1.5zM523.3 313.9h1.5v1.5h-1.5zM521.5 312.4h1.5v1.5h-1.5zM517.5 315.4h1.5v1.5h-1.5zM513.8 311.0h1.5v1.5h-1.5zM513.4 314.1h1.5v1.5h-1.5zM527.0 310.4h1.5v1.5h-1.5zM519.4 315.0h1.5v1.5h-1.5zM545.7 307.2h1.5v1.5h-1.5zM507.7 307.5h1.5v1.5h-1.5zM511.6 304.1h1.5v1.5h-1.5zM538.6 304.2h1.5v1.5h-1.5zM525.2 308.0h1.5v1.5h-1.5zM519.5 315.2h1.5v1.5h-1.5zM513.6 312.0h1.5v1.5h-1.5zM515.0 314.8h1.5v1.5h-1.5zM500.4 294.0h1.5v1.5h-1.5zM516.9 313.7h1.5v1.5h-1.5zM503.9 306.2h1.5v1.5h-1.5zM517.7 315.3h1.5v1.5h-1.5zM524.4 312.1h1.5v1.5h-1.5zM519.5 314.6h1.5v1.5h-1.5zM525.7 310.9h1.5v1.5h-1.5zM523.1 308.2h1.5v1.5h-1.5zM523.9 306.7h1.5v1.5h-1.5zM527.2 305.1h1.5v1.5h-1.5zM516.2 313.1h1.5v1.5h-1.5zM504.9 305.5h1.5v1.5h-1.5zM528.3 304.3h1.5v1.5h-1.5zM518.7 315.6h1.5v1.5h-1.5zM526.1 299.9h1.5v1.5h-1.5zM510.6 308.6h1.5v1.5h-1.5zM553.1 307.9h1.5v1.5h-1.5zM522.7 310.0h1.5v1.5h-1.5zM512.0 307.5h1.5v1.5h-1.5zM526.8 304.3h1.5v1.5h-1.5zM520.8 313.0h1.5v1.5h-1.5zM521.8 309.6h1.5v1.5h-1.5zM497.0 303.1h1.5v1.5h-1.5zM490.1 301.7h1.5v1.5h-1.5zM517.7 315.2h1.5v1.5h-1.5zM513.1 311.3h1.5v1.5h-1.5zM513.5 314.6h1.5v1.5h-1.5zM509.1 309.0h1.5v1.5h-1.5zM521.1 314.4h1.5v1.5h-1.5zM531.1 313.5h1.5v1.5h-1.5zM522.3 309.5h1.5v1.5h-1.5zM512.3 305.3h1.5v1.5h-1.5zM520.9 313.0h1.5v1.5h-1.5zM510.5 305.7h1.5v1.5h-1.5zM518.2 315.6h1.5v1.5h-1.5zM521.0 313.5h1.5v1.5h-1.5zM525.9 315.1h1.5v1.5h-1.5zM505.0 314.6h1.5v1.5h-1.5zM516.6 313.1h1.5v1.5h-1.5zM511.2 298.7h1.5v1.5h-1.5zM540.7 304.3h1.5v1.5h-1.5zM514.2 314.5h1.5v1.5h-1.5zM525.2 306.8h1.5v1.5h-1.5zM528.4 309.2h1.5v1.5h-1.5zM523.7 312.9h1.5v1.5h-1.5zM537.7 304.9h1.5v1.5h-1.5zM545.1 304.0h1.5v1.5h-1.5zM521.5 312.1h1.5v1.5h-1.5zM534.6 298.0h1.5v1.5h-1.5zM521.1 313.5h1.5v1.5h-1.5zM513.0 312.1h1.5v1.5h-1.5zM502.3 307.9h1.5v1.5h-1.5zM517.8 315.2h1.5v1.5h-1.5zM490.6 310.5h1.5v1.5h-1.5zM512.4 312.3h1.5v1.5h-1.5zM513.1 313.5h1.5v1.5h-1.5zM516.9 314.1h1.5v1.5h-1.5zM522.3 313.1h1.5v1.5h-1.5zM522.6 309.6h1.5v1.5h-1.5zM521.3 311.5h1.5v1.5h-1.5zM529.7 307.0h1.5v1.5h-1.5zM509.8 313.4h1.5v1.5h-1.5zM531.3 305.0h1.5v1.5h-1.5zM530.4 295.3h1.5v1.5h-1.5zM520.2 315.2h1.5v1.5h-1.5zM503.1 300.4h1.5v1.5h-1.5zM517.6 314.9h1.5v1.5h-1.5zM510.8 300.6h1.5v1.5h-1.5zM522.6 306.6h1.5v1.5h-1.5zM522.3 313.0h1.5v1.5h-1.5zM492.0 299.6h1.5v1.5h-1.5zM513.4 312.0h1.5v1.5h-1.5zM556.0 302.8h1.5v1.5h-1.5zM518.8 315.6h1.5v1.5h-1.5zM519.0 315.6h1.5v1.5h-1.5zM536.8 298.6h1.5v1.5h-1.5zM526.0 308.9h1.5v1.5h-1.5zM509.5 307.8h1.5v1.5h-1.5zM525.3 306.0h1.5v1.5h-1.5zM515.1 314.1h1.5v1.5h-1.5zM500.9 298.9h1.5v1.5h-1.5zM524.7 309.2h1.5v1.5h-1.5zM524.9 292.6h1.5v1.5h-1.5zM513.2 312.2h1.5v1.5h-1.5zM519.4 315.2h1.5v1.5h-1.5zM523.5 311.3h1.5v1.5h-1.5zM527.8 310.5h1.5v1.5h-1.5zM533.7 300.4h1.5v1.5h-1.5zM497.3 294.5h1.5v1.5h-1.5zM529.0 301.7h1.5v1.5h-1.5zM528.2 307.1h1.5v1.5h-1.5zM522.7 308.8h1.5v1.5h-1.5zM509.5 291.0h1.5v1.5h-1.5zM528.6 311.4h1.5v1.5h-1.5zM525.3 308.2h1.5v1.5h-1.5zM515.8 311.5h1.5v1.5h-1.5zM509.3 308.6h1.5v1.5h-1.5zM522.0 314.3h1.5v1.5h-1.5zM518.5 315.6h1.5v1.5h-1.5zM537.7 309.6h1.5v1.5h-1.5zM518.8 315.6h1.5v1.5h-1.5zM519.2 314.9h1.5v1.5h-1.5zM528.9 308.0h1.5v1.5h-1.5zM508.6 310.4h1.5v1.5h-1.5zM520.4 313.1h1.5v1.5h-1.5z" fill="#111" fill-opacity="0.72"/>
<path d="M514.2 312.8h1.5v1.5h-1.5zM521.8 313.9h1.5v1.5h-1.5zM522.6 314.2h1.5v1.5h-1.5zM530.8 306.8h1.5v1.5h-1.5zM521.3 309.5h1.5v1.5h-1.5zM526.0 311.8h1.5v1.5h-1.5zM515.4 314.8h1.5v1.5h-1.5zM522.8 305.7h1.5v1.5h-1.5zM516.7 313.4h1.5v1.5h-1.5zM522.2 314.5h1.5v1.5h-1.5zM537.7 300.6h1.5v1.5h-1.5zM520.4 314.8h1.5v1.5h-1.5zM511.6 306.6h1.5v1.5h-1.5zM524.7 311.6h1.5v1.5h-1.5zM503.8 308.2h1.5v1.5h-1.5zM519.1 315.2h1.5v1.5h-1.5zM516.0 310.8h1.5v1.5h-1.5zM525.4 312.1h1.5v1.5h-1.5zM521.1 314.4h1.5v1.5h-1.5zM518.5 315.6h1.5v1.5h-1.5zM510.5 292.6h1.5v1.5h-1.5zM500.2 308.9h1.5v1.5h-1.5zM511.4 309.8h1.5v1.5h-1.5zM513.7 305.5h1.5v1.5h-1.5zM526.3 314.0h1.5v1.5h-1.5zM512.2 304.3h1.5v1.5h-1.5zM524.0 308.4h1.5v1.5h-1.5zM535.9 297.3h1.5v1.5h-1.5zM517.0 314.8h1.5v1.5h-1.5zM547.3 314.0h1.5v1.5h-1.5zM514.0 306.2h1.5v1.5h-1.5zM531.5 310.4h1.5v1.5h-1.5zM539.5 299.1h1.5v1.5h-1.5zM521.4 313.5h1.5v1.5h-1.5zM522.4 309.3h1.5v1.5h-1.5zM489.5 301.3h1.5v1.5h-1.5zM517.6 315.2h1.5v1.5h-1.5zM534.6 311.7h1.5v1.5h-1.5zM511.4 311.7h1.5v1.5h-1.5zM530.3 305.1h1.5v1.5h-1.5zM524.4 309.0h1.5v1.5h-1.5zM516.4 315.2h1.5v1.5h-1.5zM509.3 297.8h1.5v1.5h-1.5zM526.0 310.7h1.5v1.5h-1.5zM526.8 310.7h1.5v1.5h-1.5zM512.1 312.4h1.5v1.5h-1.5zM520.6 315.1h1.5v1.5h-1.5zM511.0 308.9h1.5v1.5h-1.5zM525.5 306.9h1.5v1.5h-1.5zM525.7 311.4h1.5v1.5h-1.5zM513.3 304.4h1.5v1.5h-1.5zM491.9 301.7h1.5v1.5h-1.5zM516.7 312.4h1.5v1.5h-1.5zM519.0 315.6h1.5v1.5h-1.5zM497.7 298.8h1.5v1.5h-1.5zM511.0 313.3h1.5v1.5h-1.5zM506.9 308.9h1.5v1.5h-1.5zM514.2 308.7h1.5v1.5h-1.5zM513.7 306.3h1.5v1.5h-1.5zM519.2 315.6h1.5v1.5h-1.5zM527.3 299.1h1.5v1.5h-1.5zM531.5 312.5h1.5v1.5h-1.5zM516.1 312.0h1.5v1.5h-1.5zM506.9 305.5h1.5v1.5h-1.5zM516.1 314.9h1.5v1.5h-1.5zM521.1 313.2h1.5v1.5h-1.5zM501.9 305.1h1.5v1.5h-1.5zM529.9 309.4h1.5v1.5h-1.5zM518.3 315.6h1.5v1.5h-1.5zM516.5 313.6h1.5v1.5h-1.5zM520.0 314.7h1.5v1.5h-1.5zM531.0 292.8h1.5v1.5h-1.5zM475.1 295.0h1.5v1.5h-1.5zM528.3 307.3h1.5v1.5h-1.5zM491.9 311.5h1.5v1.5h-1.5zM511.4 307.1h1.5v1.5h-1.5zM568.3 303.9h1.5v1.5h-1.5zM514.3 311.6h1.5v1.5h-1.5zM526.3 312.2h1.5v1.5h-1.5zM520.2 314.9h1.5v1.5h-1.5zM497.4 305.0h1.5v1.5h-1.5zM524.2 311.1h1.5v1.5h-1.5zM511.6 312.0h1.5v1.5h-1.5zM507.4 305.0h1.5v1.5h-1.5zM528.8 305.4h1.5v1.5h-1.5zM513.4 307.9h1.5v1.5h-1.5zM515.6 313.9h1.5v1.5h-1.5zM514.6 308.6h1.5v1.5h-1.5zM519.4 315.3h1.5v1.5h-1.5zM499.0 306.1h1.5v1.5h-1.5zM506.8 306.7h1.5v1.5h-1.5zM504.0 299.3h1.5v1.5h-1.5zM508.7 312.8h1.5v1.5h-1.5zM537.0 311.3h1.5v1.5h-1.5zM519.0 315.2h1.5v1.5h-1.5zM530.3 296.1h1.5v1.5h-1.5zM514.5 307.3h1.5v1.5h-1.5zM519.9 315.0h1.5v1.5h-1.5zM528.8 312.3h1.5v1.5h-1.5zM516.8 313.5h1.5v1.5h-1.5zM521.6 314.5h1.5v1.5h-1.5zM505.3 304.3h1.5v1.5h-1.5zM521.3 313.3h1.5v1.5h-1.5zM532.4 302.9h1.5v1.5h-1.5zM516.9 313.2h1.5v1.5h-1.5zM515.2 309.0h1.5v1.5h-1.5zM514.9 312.0h1.5v1.5h-1.5zM513.8 314.4h1.5v1.5h-1.5zM514.7 310.7h1.5v1.5h-1.5zM524.3 309.5h1.5v1.5h-1.5zM518.0 315.5h1.5v1.5h-1.5zM515.2 310.9h1.5v1.5h-1.5zM512.9 299.5h1.5v1.5h-1.5zM516.2 314.8h1.5v1.5h-1.5zM523.0 313.1h1.5v1.5h-1.5zM521.9 312.6h1.5v1.5h-1.5zM506.9 305.9h1.5v1.5h-1.5zM523.4 313.0h1.5v1.5h-1.5zM505.6 301.4h1.5v1.5h-1.5zM508.1 291.9h1.5v1.5h-1.5zM518.4 315.6h1.5v1.5h-1.5zM526.5 305.6h1.5v1.5h-1.5zM507.9 282.0h1.5v1.5h-1.5zM513.0 313.9h1.5v1.5h-1.5zM521.5 314.1h1.5v1.5h-1.5zM526.6 314.6h1.5v1.5h-1.5zM533.0 310.2h1.5v1.5h-1.5zM541.0 307.0h1.5v1.5h-1.5zM526.5 293.5h1.5v1.5h-1.5zM530.1 306.8h1.5v1.5h-1.5zM516.2 311.2h1.5v1.5h-1.5zM520.9 313.6h1.5v1.5h-1.5zM513.9 310.1h1.5v1.5h-1.5zM521.8 310.9h1.5v1.5h-1.5zM518.6 315.6h1.5v1.5h-1.5zM517.0 315.3h1.5v1.5h-1.5zM526.9 308.3h1.5v1.5h-1.5zM506.4 309.5h1.5v1.5h-1.5zM516.1 313.8h1.5v1.5h-1.5zM517.0 315.1h1.5v1.5h-1.5zM514.9 313.5h1.5v1.5h-1.5zM526.6 310.6h1.5v1.5h-1.5zM494.1 308.4h1.5v1.5h-1.5zM513.5 304.8h1.5v1.5h-1.5zM437.3 297.3h1.5v1.5h-1.5zM518.6 315.6h1.5v1.5h-1.5zM517.1 314.2h1.5v1.5h-1.5zM518.0 315.5h1.5v1.5h-1.5zM532.5 311.9h1.5v1.5h-1.5zM514.4 312.6h1.5v1.5h-1.5zM509.5 303.0h1.5v1.5h-1.5zM524.1 308.5h1.5v1.5h-1.5zM511.8 297.9h1.5v1.5h-1.5zM512.8 309.8h1.5v1.5h-1.5zM522.5 311.4h1.5v1.5h-1.5zM531.8 305.2h1.5v1.5h-1.5zM521.5 310.9h1.5v1.5h-1.5zM506.9 303.2h1.5v1.5h-1.5zM521.9 313.1h1.5v1.5h-1.5zM510.9 310.9h1.5v1.5h-1.5zM521.5 312.8h1.5v1.5h-1.5zM514.2 311.5h1.5v1.5h-1.5zM513.1 310.7h1.5v1.5h-1.5zM515.0 312.5h1.5v1.5h-1.5zM529.3 313.1h1.5v1.5h-1.5zM523.0 312.4h1.5v1.5h-1.5zM510.9 307.6h1.5v1.5h-1.5zM508.9 289.0h1.5v1.5h-1.5zM513.2 315.0h1.5v1.5h-1.5zM524.6 308.8h1.5v1.5h-1.5zM512.6 314.6h1.5v1.5h-1.5zM514.5 313.8h1.5v1.5h-1.5zM524.3 300.6h1.5v1.5h-1.5zM514.6 306.1h1.5v1.5h-1.5zM520.0 314.1h1.5v1.5h-1.5zM512.1 313.6h1.5v1.5h-1.5zM519.3 315.4h1.5v1.5h-1.5zM529.6 301.3h1.5v1.5h-1.5zM525.6 310.1h1.5v1.5h-1.5zM531.5 303.3h1.5v1.5h-1.5zM521.6 315.6h1.5v1.5h-1.5zM514.3 313.2h1.5v1.5h-1.5zM513.2 312.3h1.5v1.5h-1.5zM518.7 315.6h1.5v1.5h-1.5zM518.8 315.6h1.5v1.5h-1.5zM535.7 302.6h1.5v1.5h-1.5zM503.9 306.1h1.5v1.5h-1.5zM513.9 310.3h1.5v1.5h-1.5zM516.5 314.6h1.5v1.5h-1.5zM508.6 293.2h1.5v1.5h-1.5zM515.0 309.0h1.5v1.5h-1.5zM499.3 296.9h1.5v1.5h-1.5zM511.1 314.1h1.5v1.5h-1.5zM511.4 299.0h1.5v1.5h-1.5zM505.7 306.8h1.5v1.5h-1.5zM495.5 312.0h1.5v1.5h-1.5zM547.0 303.2h1.5v1.5h-1.5zM517.2 314.1h1.5v1.5h-1.5zM517.4 315.6h1.5v1.5h-1.5zM519.5 315.5h1.5v1.5h-1.5zM519.7 314.6h1.5v1.5h-1.5zM520.1 315.3h1.5v1.5h-1.5zM526.4 309.5h1.5v1.5h-1.5zM510.6 303.0h1.5v1.5h-1.5zM527.9 311.0h1.5v1.5h-1.5zM518.9 315.6h1.5v1.5h-1.5zM514.8 311.5h1.5v1.5h-1.5zM521.6 310.9h1.5v1.5h-1.5zM510.5 312.2h1.5v1.5h-1.5zM529.0 308.3h1.5v1.5h-1.5zM530.5 299.9h1.5v1.5h-1.5zM514.6 308.8h1.5v1.5h-1.5zM525.3 305.1h1.5v1.5h-1.5zM527.8 302.3h1.5v1.5h-1.5zM517.5 315.3h1.5v1.5h-1.5zM529.7 311.2h1.5v1.5h-1.5zM521.2 312.6h1.5v1.5h-1.5zM516.5 313.5h1.5v1.5h-1.5zM513.1 313.9h1.5v1.5h-1.5zM518.2 315.6h1.5v1.5h-1.5zM486.0 308.7h1.5v1.5h-1.5zM520.5 312.7h1.5v1.5h-1.5zM528.8 306.6h1.5v1.5h-1.5zM506.4 308.3h1.5v1.5h-1.5zM529.6 309.7h1.5v1.5h-1.5zM508.5 303.4h1.5v1.5h-1.5zM501.1 299.7h1.5v1.5h-1.5zM518.1 315.6h1.5v1.5h-1.5zM544.8 306.8h1.5v1.5h-1.5zM523.4 303.6h1.5v1.5h-1.5zM567.2 302.9h1.5v1.5h-1.5zM532.5 302.9h1.5v1.5h-1.5zM519.1 315.0h1.5v1.5h-1.5zM514.5 312.7h1.5v1.5h-1.5zM512.6 312.8h1.5v1.5h-1.5zM529.8 287.2h1.5v1.5h-1.5zM541.7 306.8h1.5v1.5h-1.5zM504.8 298.4h1.5v1.5h-1.5zM527.6 303.7h1.5v1.5h-1.5zM535.9 300.9h1.5v1.5h-1.5zM521.1 310.7h1.5v1.5h-1.5zM527.0 314.5h1.5v1.5h-1.5zM534.1 306.1h1.5v1.5h-1.5zM524.5 312.2h1.5v1.5h-1.5zM493.8 295.0h1.5v1.5h-1.5zM529.3 277.6h1.5v1.5h-1.5zM524.9 307.0h1.5v1.5h-1.5zM519.1 315.5h1.5v1.5h-1.5zM513.7 314.4h1.5v1.5h-1.5zM511.6 304.6h1.5v1.5h-1.5zM510.5 310.0h1.5v1.5h-1.5zM515.9 312.6h1.5v1.5h-1.5zM528.2 306.0h1.5v1.5h-1.5zM521.8 314.0h1.5v1.5h-1.5zM521.1 311.0h1.5v1.5h-1.5zM523.0 306.7h1.5v1.5h-1.5zM513.5 309.6h1.5v1.5h-1.5zM514.8 307.8h1.5v1.5h-1.5zM518.5 315.6h1.5v1.5h-1.5zM527.1 297.9h1.5v1.5h-1.5zM516.8 313.7h1.5v1.5h-1.5zM525.1 303.7h1.5v1.5h-1.5zM514.8 308.0h1.5v1.5h-1.5zM512.3 312.5h1.5v1.5h-1.5zM515.0 310.2h1.5v1.5h-1.5zM524.0 312.2h1.5v1.5h-1.5zM520.7 312.1h1.5v1.5h-1.5zM543.8 307.8h1.5v1.5h-1.5zM521.8 315.0h1.5v1.5h-1.5zM518.4 315.6h1.5v1.5h-1.5zM523.6 303.2h1.5v1.5h-1.5zM502.6 301.8h1.5v1.5h-1.5zM522.1 314.7h1.5v1.5h-1.5zM539.7 304.2h1.5v1.5h-1.5zM487.7 305.7h1.5v1.5h-1.5zM491.1 304.5h1.5v1.5h-1.5zM521.0 313.9h1.5v1.5h-1.5zM518.6 315.6h1.5v1.5h-1.5zM518.7 315.6h1.5v1.5h-1.5zM511.6 310.7h1.5v1.5h-1.5zM519.3 315.4h1.5v1.5h-1.5zM562.8 298.3h1.5v1.5h-1.5zM510.3 308.7h1.5v1.5h-1.5zM510.0 309.1h1.5v1.5h-1.5zM524.5 301.8h1.5v1.5h-1.5zM536.0 304.3h1.5v1.5h-1.5zM524.7 309.4h1.5v1.5h-1.5zM517.6 315.2h1.5v1.5h-1.5zM503.9 299.8h1.5v1.5h-1.5zM521.0 311.2h1.5v1.5h-1.5zM564.2 306.7h1.5v1.5h-1.5zM515.8 311.4h1.5v1.5h-1.5zM528.4 301.3h1.5v1.5h-1.5zM510.5 312.6h1.5v1.5h-1.5zM503.2 305.4h1.5v1.5h-1.5zM511.0 306.5h1.5v1.5h-1.5zM514.0 312.1h1.5v1.5h-1.5zM423.6 298.9h1.5v1.5h-1.5zM526.1 314.3h1.5v1.5h-1.5zM535.3 300.6h1.5v1.5h-1.5zM549.1 307.8h1.5v1.5h-1.5zM513.7 312.6h1.5v1.5h-1.5zM527.2 312.0h1.5v1.5h-1.5zM515.6 312.5h1.5v1.5h-1.5zM521.6 314.0h1.5v1.5h-1.5zM519.7 313.9h1.5v1.5h-1.5zM521.7 314.6h1.5v1.5h-1.5zM534.1 307.3h1.5v1.5h-1.5zM507.8 299.0h1.5v1.5h-1.5zM531.8 304.2h1.5v1.5h-1.5zM528.5 311.2h1.5v1.5h-1.5zM562.8 308.3h1.5v1.5h-1.5zM513.9 309.3h1.5v1.5h-1.5zM517.6 314.7h1.5v1.5h-1.5zM518.1 315.3h1.5v1.5h-1.5zM521.5 314.3h1.5v1.5h-1.5zM509.9 313.5h1.5v1.5h-1.5zM527.5 289.3h1.5v1.5h-1.5zM504.0 307.4h1.5v1.5h-1.5zM526.3 302.5h1.5v1.5h-1.5zM510.1 312.0h1.5v1.5h-1.5zM507.1 308.7h1.5v1.5h-1.5zM516.6 312.1h1.5v1.5h-1.5zM534.1 304.9h1.5v1.5h-1.5zM521.8 315.4h1.5v1.5h-1.5zM520.0 314.1h1.5v1.5h-1.5zM517.5 315.6h1.5v1.5h-1.5zM510.9 293.2h1.5v1.5h-1.5zM525.4 298.1h1.5v1.5h-1.5zM502.5 307.3h1.5v1.5h-1.5zM509.8 307.6h1.5v1.5h-1.5zM526.3 311.2h1.5v1.5h-1.5zM504.9 299.5h1.5v1.5h-1.5zM521.9 314.2h1.5v1.5h-1.5zM519.5 315.6h1.5v1.5h-1.5zM480.2 309.5h1.5v1.5h-1.5zM544.2 299.6h1.5v1.5h-1.5zM521.6 312.1h1.5v1.5h-1.5zM497.2 296.3h1.5v1.5h-1.5zM518.1 315.4h1.5v1.5h-1.5zM508.3 307.7h1.5v1.5h-1.5zM507.4 296.5h1.5v1.5h-1.5zM503.0 302.4h1.5v1.5h-1.5zM518.1 315.6h1.5v1.5h-1.5zM520.9 313.7h1.5v1.5h-1.5zM515.9 309.8h1.5v1.5h-1.5zM518.1 315.6h1.5v1.5h-1.5zM505.4 304.4h1.5v1.5h-1.5zM540.3 307.2h1.5v1.5h-1.5zM523.4 302.7h1.5v1.5h-1.5zM525.3 310.4h1.5v1.5h-1.5zM518.9 315.5h1.5v1.5h-1.5zM523.2 308.2h1.5v1.5h-1.5zM528.2 312.3h1.5v1.5h-1.5zM518.9 315.3h1.5v1.5h-1.5zM517.5 314.0h1.5v1.5h-1.5zM527.2 286.2h1.5v1.5h-1.5zM508.7 312.1h1.5v1.5h-1.5zM523.2 311.9h1.5v1.5h-1.5zM513.9 312.6h1.5v1.5h-1.5zM520.2 314.9h1.5v1.5h-1.5zM499.7 308.3h1.5v1.5h-1.5zM518.8 315.6h1.5v1.5h-1.5zM521.3 314.7h1.5v1.5h-1.5zM504.2 305.8h1.5v1.5h-1.5zM522.6 311.6h1.5v1.5h-1.5zM514.1 308.2h1.5v1.5h-1.5zM510.8 310.1h1.5v1.5h-1.5zM518.2 315.6h1.5v1.5h-1.5zM509.6 309.0h1.5v1.5h-1.5zM536.0 294.9h1.5v1.5h-1.5zM507.7 314.9h1.5v1.5h-1.5zM494.9 304.6h1.5v1.5h-1.5zM508.6 309.4h1.5v1.5h-1.5zM515.5 314.2h1.5v1.5h-1.5zM587.9 306.0h1.5v1.5h-1.5zM481.4 296.3h1.5v1.5h-1.5zM524.9 314.4h1.5v1.5h-1.5zM515.4 308.7h1.5v1.5h-1.5zM502.7 302.8h1.5v1.5h-1.5zM486.4 301.3h1.5v1.5h-1.5zM520.9 312.1h1.5v1.5h-1.5zM522.4 311.4h1.5v1.5h-1.5zM522.1 309.4h1.5v1.5h-1.5zM517.0 315.1h1.5v1.5h-1.5zM518.7 315.6h1.5v1.5h-1.5zM531.8 301.1h1.5v1.5h-1.5zM526.0 310.3h1.5v1.5h-1.5zM520.1 315.1h1.5v1.5h-1.5zM525.7 312.1h1.5v1.5h-1.5zM523.2 313.8h1.5v1.5h-1.5zM506.2 305.5h1.5v1.5h-1.5zM565.9 307.9h1.5v1.5h-1.5zM526.9 301.4h1.5v1.5h-1.5zM519.1 315.6h1.5v1.5h-1.5zM509.0 306.7h1.5v1.5h-1.5zM536.2 297.5h1.5v1.5h-1.5zM520.0 315.3h1.5v1.5h-1.5zM549.2 301.1h1.5v1.5h-1.5zM522.5 313.7h1.5v1.5h-1.5z" fill="#111" fill-opacity="0.72"/>
<path d="M519.6 314.7h1.5v1.5h-1.5zM518.2 315.6h1.5v1.5h-1.5zM497.4 300.7h1.5v1.5h-1.5zM504.7 305.3h1.5v1.5h-1.5zM495.0 305.7h1.5v1.5h-1.5zM518.2 315.6h1.5v1.5h-1.5zM511.3 297.0h1.5v1.5h-1.5zM527.3 303.9h1.5v1.5h-1.5zM529.2 304.4h1.5v1.5h-1.5zM528.3 312.5h1.5v1.5h-1.5zM514.3 308.6h1.5v1.5h-1.5zM524.3 310.5h1.5v1.5h-1.5zM516.4 314.7h1.5v1.5h-1.5zM518.3 315.6h1.5v1.5h-1.5zM499.6 300.2h1.5v1.5h-1.5zM520.6 315.1h1.5v1.5h-1.5zM548.8 299.1h1.5v1.5h-1.5zM521.0 313.7h1.5v1.5h-1.5zM517.1 313.2h1.5v1.5h-1.5zM515.3 312.3h1.5v1.5h-1.5zM534.1 302.6h1.5v1.5h-1.5zM476.6 296.3h1.5v1.5h-1.5zM524.5 311.9h1.5v1.5h-1.5zM526.2 306.1h1.5v1.5h-1.5zM520.3 314.4h1.5v1.5h-1.5zM536.6 306.5h1.5v1.5h-1.5zM497.6 303.7h1.5v1.5h-1.5zM502.5 301.4h1.5v1.5h-1.5zM518.3 315.6h1.5v1.5h-1.5zM506.0 305.1h1.5v1.5h-1.5zM532.7 302.0h1.5v1.5h-1.5zM519.5 314.8h1.5v1.5h-1.5zM520.9 311.6h1.5v1.5h-1.5zM515.7 313.0h1.5v1.5h-1.5zM518.2 315.6h1.5v1.5h-1.5zM511.9 303.7h1.5v1.5h-1.5zM510.2 300.2h1.5v1.5h-1.5zM527.1 311.7h1.5v1.5h-1.5zM524.6 307.4h1.5v1.5h-1.5zM514.5 312.9h1.5v1.5h-1.5zM545.5 307.1h1.5v1.5h-1.5zM522.1 309.9h1.5v1.5h-1.5zM530.8 311.2h1.5v1.5h-1.5zM516.3 314.1h1.5v1.5h-1.5zM508.0 311.8h1.5v1.5h-1.5zM547.3 302.7h1.5v1.5h-1.5zM528.1 309.5h1.5v1.5h-1.5zM529.3 304.4h1.5v1.5h-1.5zM528.2 308.3h1.5v1.5h-1.5zM526.5 301.5h1.5v1.5h-1.5zM519.2 314.9h1.5v1.5h-1.5zM523.6 308.9h1.5v1.5h-1.5zM520.1 315.0h1.5v1.5h-1.5zM515.0 313.2h1.5v1.5h-1.5zM524.7 314.0h1.5v1.5h-1.5zM522.1 312.9h1.5v1.5h-1.5zM533.6 306.5h1.5v1.5h-1.5zM526.8 308.4h1.5v1.5h-1.5zM519.9 313.5h1.5v1.5h-1.5zM522.2 311.8h1.5v1.5h-1.5zM511.6 304.0h1.5v1.5h-1.5zM515.6 312.3h1.5v1.5h-1.5zM519.6 313.7h1.5v1.5h-1.5zM519.8 314.9h1.5v1.5h-1.5zM514.2 312.3h1.5v1.5h-1.5zM516.6 315.5h1.5v1.5h-1.5zM522.5 313.0h1.5v1.5h-1.5zM515.8 312.0h1.5v1.5h-1.5zM515.4 313.3h1.5v1.5h-1.5zM512.8 311.3h1.5v1.5h-1.5zM518.4 315.6h1.5v1.5h-1.5zM574.5 307.6h1.5v1.5h-1.5zM535.6 304.7h1.5v1.5h-1.5zM533.5 305.6h1.5v1.5h-1.5zM524.2 309.7h1.5v1.5h-1.5zM534.4 304.3h1.5v1.5h-1.5zM509.0 308.8h1.5v1.5h-1.5zM523.9 310.5h1.5v1.5h-1.5zM524.9 313.2h1.5v1.5h-1.5zM513.1 312.2h1.5v1.5h-1.5zM520.7 315.2h1.5v1.5h-1.5zM522.6 313.3h1.5v1.5h-1.5zM514.0 311.0h1.5v1.5h-1.5zM531.4 305.6h1.5v1.5h-1.5zM517.6 315.2h1.5v1.5h-1.5zM476.4 300.9h1.5v1.5h-1.5zM525.0 304.7h1.5v1.5h-1.5zM557.1 304.3h1.5v1.5h-1.5zM513.7 310.9h1.5v1.5h-1.5zM528.8 297.8h1.5v1.5h-1.5zM516.0 314.6h1.5v1.5h-1.5zM516.1 313.9h1.5v1.5h-1.5zM523.3 307.3h1.5v1.5h-1.5zM527.0 305.3h1.5v1.5h-1.5zM522.5 311.1h1.5v1.5h-1.5zM513.8 311.8h1.5v1.5h-1.5zM493.2 304.6h1.5v1.5h-1.5zM499.7 309.1h1.5v1.5h-1.5zM507.5 303.7h1.5v1.5h-1.5zM508.0 302.5h1.5v1.5h-1.5zM522.9 311.3h1.5v1.5h-1.5zM523.9 310.3h1.5v1.5h-1.5zM529.2 304.8h1.5v1.5h-1.5zM513.2 306.6h1.5v1.5h-1.5zM523.8 310.8h1.5v1.5h-1.5zM543.9 296.4h1.5v1.5h-1.5zM514.9 315.2h1.5v1.5h-1.5zM540.9 301.2h1.5v1.5h-1.5zM517.6 315.3h1.5v1.5h-1.5zM510.2 303.1h1.5v1.5h-1.5zM521.8 315.3h1.5v1.5h-1.5zM513.2 308.9h1.5v1.5h-1.5zM518.3 315.6h1.5v1.5h-1.5zM525.1 313.2h1.5v1.5h-1.5zM513.2 304.0h1.5v1.5h-1.5zM517.3 314.7h1.5v1.5h-1.5zM540.3 294.6h1.5v1.5h-1.5zM525.7 309.9h1.5v1.5h-1.5zM509.3 296.7h1.5v1.5h-1.5zM443.5 305.5h1.5v1.5h-1.5zM505.1 312.1h1.5v1.5h-1.5zM545.5 308.6h1.5v1.5h-1.5zM511.3 314.2h1.5v1.5h-1.5zM521.5 312.9h1.5v1.5h-1.5zM499.7 298.1h1.5v1.5h-1.5zM519.1 315.6h1.5v1.5h-1.5zM524.5 311.7h1.5v1.5h-1.5zM520.3 314.2h1.5v1.5h-1.5zM522.7 314.5h1.5v1.5h-1.5zM517.4 314.9h1.5v1.5h-1.5zM514.7 313.8h1.5v1.5h-1.5zM528.5 307.8h1.5v1.5h-1.5zM518.6 315.6h1.5v1.5h-1.5zM505.6 301.5h1.5v1.5h-1.5zM521.1 313.2h1.5v1.5h-1.5zM523.5 312.3h1.5v1.5h-1.5zM518.5 315.6h1.5v1.5h-1.5zM534.4 304.8h1.5v1.5h-1.5zM509.4 302.1h1.5v1.5h-1.5zM549.3 296.5h1.5v1.5h-1.5zM523.9 311.8h1.5v1.5h-1.5zM506.4 307.2h1.5v1.5h-1.5zM582.5 308.1h1.5v1.5h-1.5zM523.0 303.8h1.5v1.5h-1.5zM533.6 301.0h1.5v1.5h-1.5zM515.3 315.0h1.5v1.5h-1.5zM527.2 310.1h1.5v1.5h-1.5zM519.3 315.4h1.5v1.5h-1.5zM521.9 312.2h1.5v1.5h-1.5zM530.3 289.0h1.5v1.5h-1.5zM542.0 303.6h1.5v1.5h-1.5zM512.5 303.3h1.5v1.5h-1.5zM504.2 302.5h1.5v1.5h-1.5zM495.7 310.3h1.5v1.5h-1.5zM491.2 309.7h1.5v1.5h-1.5zM519.4 315.4h1.5v1.5h-1.5zM480.5 297.3h1.5v1.5h-1.5zM506.3 309.7h1.5v1.5h-1.5zM526.4 299.0h1.5v1.5h-1.5zM524.8 303.3h1.5v1.5h-1.5zM523.9 305.2h1.5v1.5h-1.5zM522.2 309.4h1.5v1.5h-1.5zM493.1 294.6h1.5v1.5h-1.5zM534.1 310.3h1.5v1.5h-1.5zM523.1 307.7h1.5v1.5h-1.5zM525.1 309.5h1.5v1.5h-1.5zM538.9 293.5h1.5v1.5h-1.5zM535.7 299.1h1.5v1.5h-1.5zM514.2 309.7h1.5v1.5h-1.5zM513.7 301.9h1.5v1.5h-1.5zM537.9 310.1h1.5v1.5h-1.5zM478.5 302.9h1.5v1.5h-1.5zM528.5 306.1h1.5v1.5h-1.5zM509.5 289.2h1.5v1.5h-1.5zM530.3 304.0h1.5v1.5h-1.5zM539.5 308.2h1.5v1.5h-1.5zM515.5 310.3h1.5v1.5h-1.5zM522.4 313.9h1.5v1.5h-1.5zM504.4 301.1h1.5v1.5h-1.5zM525.4 312.2h1.5v1.5h-1.5zM517.4 315.4h1.5v1.5h-1.5zM516.1 311.5h1.5v1.5h-1.5zM518.4 315.6h1.5v1.5h-1.5zM517.9 315.2h1.5v1.5h-1.5zM518.9 315.5h1.5v1.5h-1.5zM515.1 312.5h1.5v1.5h-1.5zM527.6 312.4h1.5v1.5h-1.5zM523.7 313.5h1.5v1.5h-1.5zM529.3 289.4h1.5v1.5h-1.5zM518.5 315.6h1.5v1.5h-1.5zM533.6 309.1h1.5v1.5h-1.5zM513.4 314.4h1.5v1.5h-1.5zM514.3 313.5h1.5v1.5h-1.5zM493.7 297.1h1.5v1.5h-1.5zM524.5 313.6h1.5v1.5h-1.5zM514.9 308.7h1.5v1.5h-1.5zM521.1 312.8h1.5v1.5h-1.5zM522.3 310.9h1.5v1.5h-1.5zM517.9 315.2h1.5v1.5h-1.5zM520.6 313.6h1.5v1.5h-1.5zM514.3 314.7h1.5v1.5h-1.5zM520.6 314.6h1.5v1.5h-1.5zM507.3 309.1h1.5v1.5h-1.5zM529.0 308.5h1.5v1.5h-1.5zM510.6 313.0h1.5v1.5h-1.5zM514.6 312.0h1.5v1.5h-1.5zM522.9 312.0h1.5v1.5h-1.5zM512.6 306.4h1.5v1.5h-1.5zM511.7 312.3h1.5v1.5h-1.5zM507.0 305.4h1.5v1.5h-1.5zM482.0 304.2h1.5v1.5h-1.5zM510.3 309.3h1.5v1.5h-1.5zM514.3 313.9h1.5v1.5h-1.5zM517.1 315.2h1.5v1.5h-1.5zM526.0 310.9h1.5v1.5h-1.5zM525.8 309.9h1.5v1.5h-1.5zM519.9 314.7h1.5v1.5h-1.5zM520.5 313.8h1.5v1.5h-1.5zM535.1 313.6h1.5v1.5h-1.5zM522.1 310.3h1.5v1.5h-1.5zM484.0 298.2h1.5v1.5h-1.5zM516.4 314.7h1.5v1.5h-1.5zM518.5 315.6h1.5v1.5h-1.5zM521.3 314.9h1.5v1.5h-1.5zM513.1 314.0h1.5v1.5h-1.5zM514.8 307.7h1.5v1.5h-1.5zM521.7 311.7h1.5v1.5h-1.5zM536.1 296.6h1.5v1.5h-1.5zM513.4 310.4h1.5v1.5h-1.5zM539.7 300.8h1.5v1.5h-1.5zM524.6 310.7h1.5v1.5h-1.5zM502.6 308.2h1.5v1.5h-1.5zM502.3 308.1h1.5v1.5h-1.5zM510.1 311.7h1.5v1.5h-1.5zM521.4 312.4h1.5v1.5h-1.5zM531.1 302.4h1.5v1.5h-1.5zM522.9 311.5h1.5v1.5h-1.5zM483.7 294.5h1.5v1.5h-1.5zM519.5 315.6h1.5v1.5h-1.5zM512.1 308.2h1.5v1.5h-1.5zM511.3 309.2h1.5v1.5h-1.5zM446.8 304.1h1.5v1.5h-1.5zM501.9 300.7h1.5v1.5h-1.5zM521.6 313.6h1.5v1.5h-1.5zM515.3 313.2h1.5v1.5h-1.5zM519.9 314.4h1.5v1.5h-1.5zM508.0 282.4h1.5v1.5h-1.5zM558.8 294.9h1.5v1.5h-1.5zM538.2 296.7h1.5v1.5h-1.5zM518.3 315.6h1.5v1.5h-1.5zM518.3 315.6h1.5v1.5h-1.5zM516.3 314.3h1.5v1.5h-1.5zM541.4 301.6h1.5v1.5h-1.5zM524.8 313.3h1.5v1.5h-1.5zM527.1 300.1h1.5v1.5h-1.5zM524.4 307.8h1.5v1.5h-1.5zM516.9 313.3h1.5v1.5h-1.5zM492.3 314.4h1.5v1.5h-1.5zM498.4 303.3h1.5v1.5h-1.5zM509.5 307.5h1.5v1.5h-1.5zM518.4 315.6h1.5v1.5h-1.5zM522.6 308.8h1.5v1.5h-1.5zM508.7 305.7h1.5v1.5h-1.5zM522.6 313.5h1.5v1.5h-1.5zM522.5 314.6h1.5v1.5h-1.5zM519.6 314.3h1.5v1.5h-1.5zM519.1 315.6h1.5v1.5h-1.5zM528.8 312.2h1.5v1.5h-1.5zM520.8 313.9h1.5v1.5h-1.5zM507.5 306.4h1.5v1.5h-1.5zM518.5 315.6h1.5v1.5h-1.5zM514.4 311.0h1.5v1.5h-1.5zM527.0 308.6h1.5v1.5h-1.5zM520.7 314.1h1.5v1.5h-1.5zM514.9 313.9h1.5v1.5h-1.5zM513.0 309.5h1.5v1.5h-1.5zM523.5 310.3h1.5v1.5h-1.5zM525.9 306.3h1.5v1.5h-1.5zM527.7 311.4h1.5v1.5h-1.5zM519.1 315.6h1.5v1.5h-1.5zM530.2 306.5h1.5v1.5h-1.5zM520.0 315.2h1.5v1.5h-1.5zM499.8 311.4h1.5v1.5h-1.5zM521.8 313.9h1.5v1.5h-1.5zM519.7 314.5h1.5v1.5h-1.5zM529.4 309.1h1.5v1.5h-1.5zM520.2 313.3h1.5v1.5h-1.5zM521.1 311.4h1.5v1.5h-1.5zM523.7 311.2h1.5v1.5h-1.5zM512.8 312.3h1.5v1.5h-1.5zM523.1 313.7h1.5v1.5h-1.5zM516.4 311.6h1.5v1.5h-1.5zM531.3 308.3h1.5v1.5h-1.5zM537.0 296.4h1.5v1.5h-1.5zM508.7 302.0h1.5v1.5h-1.5zM504.8 309.2h1.5v1.5h-1.5zM522.0 310.5h1.5v1.5h-1.5zM489.5 298.5h1.5v1.5h-1.5zM516.4 311.7h1.5v1.5h-1.5zM513.6 312.6h1.5v1.5h-1.5zM554.3 307.0h1.5v1.5h-1.5zM571.5 299.3h1.5v1.5h-1.5zM487.9 304.8h1.5v1.5h-1.5zM511.7 311.1h1.5v1.5h-1.5zM507.7 311.8h1.5v1.5h-1.5zM509.7 301.9h1.5v1.5h-1.5zM519.5 315.4h1.5v1.5h-1.5zM503.2 300.4h1.5v1.5h-1.5zM500.8 303.5h1.5v1.5h-1.5zM528.5 313.4h1.5v1.5h-1.5zM511.3 301.5h1.5v1.5h-1.5zM511.3 310.8h1.5v1.5h-1.5zM496.7 304.4h1.5v1.5h-1.5zM533.7 302.7h1.5v1.5h-1.5zM514.0 310.4h1.5v1.5h-1.5zM512.3 314.3h1.5v1.5h-1.5zM522.2 314.6h1.5v1.5h-1.5zM527.0 311.2h1.5v1.5h-1.5zM479.1 305.5h1.5v1.5h-1.5zM521.7 313.6h1.5v1.5h-1.5zM507.7 303.0h1.5v1.5h-1.5zM510.9 302.5h1.5v1.5h-1.5zM537.9 303.3h1.5v1.5h-1.5zM523.5 313.8h1.5v1.5h-1.5zM519.2 315.0h1.5v1.5h-1.5zM531.3 308.4h1.5v1.5h-1.5zM542.9 307.2h1.5v1.5h-1.5zM531.1 295.9h1.5v1.5h-1.5zM515.8 314.9h1.5v1.5h-1.5zM520.9 312.3h1.5v1.5h-1.5zM525.8 313.5h1.5v1.5h-1.5zM507.1 296.8h1.5v1.5h-1.5zM491.9 298.8h1.5v1.5h-1.5zM521.4 313.9h1.5v1.5h-1.5zM516.0 314.0h1.5v1.5h-1.5zM526.9 310.6h1.5v1.5h-1.5zM517.8 315.5h1.5v1.5h-1.5zM511.2 309.7h1.5v1.5h-1.5zM512.7 311.8h1.5v1.5h-1.5zM515.0 309.5h1.5v1.5h-1.5zM519.3 314.8h1.5v1.5h-1.5zM516.6 312.6h1.5v1.5h-1.5zM544.6 300.5h1.5v1.5h-1.5zM519.3 314.9h1.5v1.5h-1.5zM516.5 313.6h1.5v1.5h-1.5zM531.2 305.6h1.5v1.5h-1.5zM545.7 294.4h1.5v1.5h-1.5zM522.7 311.8h1.5v1.5h-1.5zM520.3 314.7h1.5v1.5h-1.5zM509.2 309.9h1.5v1.5h-1.5zM511.9 310.5h1.5v1.5h-1.5zM507.7 308.5h1.5v1.5h-1.5zM524.0 307.9h1.5v1.5h-1.5zM544.3 303.9h1.5v1.5h-1.5zM516.2 315.1h1.5v1.5h-1.5zM509.0 310.3h1.5v1.5h-1.5zM518.9 315.6h1.5v1.5h-1.5zM501.5 309.3h1.5v1.5h-1.5zM518.3 315.5h1.5v1.5h-1.5zM519.5 315.6h1.5v1.5h-1.5zM517.7 315.1h1.5v1.5h-1.5zM523.9 311.2h1.5v1.5h-1.5zM525.8 311.3h1.5v1.5h-1.5zM514.4 314.0h1.5v1.5h-1.5zM504.2 307.6h1.5v1.5h-1.5zM478.0 308.4h1.5v1.5h-1.5zM521.2 313.0h1.5v1.5h-1.5zM516.4 315.5h1.5v1.5h-1.5zM481.2 309.0h1.5v1.5h-1.5zM577.4 297.2h1.5v1.5h-1.5zM536.5 309.4h1.5v1.5h-1.5zM521.6 314.5h1.5v1.5h-1.5zM501.9 299.2h1.5v1.5h-1.5zM486.5 294.7h1.5v1.5h-1.5zM520.5 313.5h1.5v1.5h-1.5zM487.7 307.2h1.5v1.5h-1.5zM534.3 307.0h1.5v1.5h-1.5zM517.3 313.9h1.5v1.5h-1.5zM535.1 300.7h1.5v1.5h-1.5zM523.1 314.5h1.5v1.5h-1.5zM513.3 308.7h1.5v1.5h-1.5zM510.6 303.1h1.5v1.5h-1.5zM513.8 310.5h1.5v1.5h-1.5zM509.6 285.5h1.5v1.5h-1.5zM518.9 315.6h1.5v1.5h-1.5zM526.8 303.8h1.5v1.5h-1.5zM511.9 311.9h1.5v1.5h-1.5zM507.1 305.1h1.5v1.5h-1.5zM521.5 313.8h1.5v1.5h-1.5zM519.7 314.5h1.5v1.5h-1.5zM513.8 313.4h1.5v1.5h-1.5zM515.0 314.6h1.5v1.5h-1.5zM506.6 300.0h1.5v1.5h-1.5zM533.7 308.4h1.5v1.5h-1.5zM527.0 307.1h1.5v1.5h-1.5zM523.1 310.2h1.5v1.5h-1.5zM528.3 288.4h1.5v1.5h-1.5zM525.7 313.8h1.5v1.5h-1.5zM498.6 305.0h1.5v1.5h-1.5zM518.2 315.4h1.5v1.5h-1.5z" fill="#111" fill-opacity="0.72"/>
<rect x="530.5999999999999" y="202.4" width="1.4" height="1.4" fill="#111"/>
<rect x="508.2" y="234.3" width="1.4" height="1.4" fill="#111"/>
<rect x="510.5" y="240.10000000000002" width="1.4" height="1.4" fill="#111"/>
<line x1="506.5" y1="14.2" x2="506.5" y2="316.2" stroke="#45C945" stroke-width="1" stroke-dasharray="3 2 1.05 2" stroke-dashoffset="1.9"/>
<line x1="532.5" y1="14.2" x2="532.5" y2="316.2" stroke="#45C945" stroke-width="1" stroke-dasharray="3 2 1.05 2" stroke-dashoffset="1.9"/>
<line x1="410.5" y1="294.5" x2="627.8000000000001" y2="294.5" stroke="#45C945" stroke-width="1" stroke-dasharray="3 2 1.05 2" stroke-dashoffset="4.8"/>
<line x1="410.5" y1="14.2" x2="410.5" y2="316.5" stroke="#333" stroke-width="1.07"/>
<line x1="410.0" y1="316.5" x2="628.7" y2="316.5" stroke="#333" stroke-width="1.07"/>
<line x1="410.1" y1="316.7" x2="410.1" y2="318.7" stroke="#333" stroke-width="0.9"/>
<text x="410.1" y="326.2" font-size="8.25" fill="#4D4D4D" text-anchor="middle">−4</text>
<line x1="464.7" y1="316.7" x2="464.7" y2="318.7" stroke="#333" stroke-width="0.9"/>
<text x="464.7" y="326.2" font-size="8.25" fill="#4D4D4D" text-anchor="middle">−2</text>
<line x1="506.2" y1="316.7" x2="506.2" y2="318.7" stroke="#333" stroke-width="0.9"/>
<text x="506.2" y="326.2" font-size="8.25" fill="#4D4D4D" text-anchor="middle">−0.48</text>
<line x1="532.4" y1="316.7" x2="532.4" y2="318.7" stroke="#333" stroke-width="0.9"/>
<text x="532.4" y="326.2" font-size="8.25" fill="#4D4D4D" text-anchor="middle">0.48</text>
<line x1="573.9" y1="316.7" x2="573.9" y2="318.7" stroke="#333" stroke-width="0.9"/>
<text x="573.9" y="326.2" font-size="8.25" fill="#4D4D4D" text-anchor="middle">2</text>
<line x1="628.5" y1="316.7" x2="628.5" y2="318.7" stroke="#333" stroke-width="0.9"/>
<text x="628.5" y="326.2" font-size="8.25" fill="#4D4D4D" text-anchor="middle">4</text>
<line x1="408.5" y1="230.1" x2="410.5" y2="230.1" stroke="#333" stroke-width="0.9"/>
<text x="407.3" y="233.2" font-size="8.25" fill="#4D4D4D" text-anchor="end">5</text>
<line x1="408.5" y1="143.5" x2="410.5" y2="143.5" stroke="#333" stroke-width="0.9"/>
<text x="407.3" y="146.6" font-size="8.25" fill="#4D4D4D" text-anchor="end">10</text>
<line x1="408.5" y1="56.9" x2="410.5" y2="56.9" stroke="#333" stroke-width="0.9"/>
<text x="407.3" y="60.0" font-size="8.25" fill="#4D4D4D" text-anchor="end">15</text>
<line x1="408.5" y1="294.5" x2="410.5" y2="294.5" stroke="#333" stroke-width="0.9"/>
<text x="407.3" y="297.3" font-size="8.25" fill="#4D4D4D" text-anchor="end">p−value 0.05</text>
<circle cx="549.5" cy="41.7" r="1.8" fill="#F8766D" stroke="#000" stroke-width="0.6"/>
<circle cx="559.2" cy="62.2" r="1.8" fill="#F8766D" stroke="#000" stroke-width="0.6"/>
<circle cx="561.1" cy="153.3" r="1.8" fill="#F8766D" stroke="#000" stroke-width="0.6"/>
<circle cx="562.8" cy="173.2" r="1.8" fill="#F8766D" stroke="#000" stroke-width="0.6"/>
<circle cx="504.0" cy="216.6" r="1.8" fill="#F8766D" stroke="#000" stroke-width="0.6"/>
<circle cx="542.8" cy="218.6" r="1.8" fill="#F8766D" stroke="#000" stroke-width="0.6"/>
<path d="M550.9 232.0L553.2 236.0L548.6 236.0Z" fill="#00BA38" stroke="#000" stroke-width="0.6"/>
<circle cx="540.2" cy="241.3" r="1.8" fill="#F8766D" stroke="#000" stroke-width="0.6"/>
<circle cx="542.8" cy="242.8" r="1.8" fill="#F8766D" stroke="#000" stroke-width="0.6"/>
<circle cx="536.0" cy="250.4" r="1.8" fill="#F8766D" stroke="#000" stroke-width="0.6"/>
<circle cx="538.0" cy="255.9" r="1.8" fill="#F8766D" stroke="#000" stroke-width="0.6"/>
<circle cx="557.8" cy="257.0" r="1.8" fill="#F8766D" stroke="#000" stroke-width="0.6"/>
<circle cx="503.4" cy="263.1" r="1.8" fill="#F8766D" stroke="#000" stroke-width="0.6"/>
<circle cx="505.1" cy="265.6" r="1.8" fill="#F8766D" stroke="#000" stroke-width="0.6"/>
<path d="M549.9 261.5L552.2 265.5L547.6 265.5Z" fill="#00BA38" stroke="#000" stroke-width="0.6"/>
<circle cx="534.9" cy="267.6" r="1.8" fill="#F8766D" stroke="#000" stroke-width="0.6"/>
<path d="M538.2 267.9L540.5 271.9L535.9 271.9Z" fill="#00BA38" stroke="#000" stroke-width="0.6"/>
<rect x="491.5" y="257.5" width="3.0" height="3.0" fill="#619CFF" stroke="#000" stroke-width="0.6"/>
<circle cx="503.7" cy="271.9" r="1.8" fill="#F8766D" stroke="#000" stroke-width="0.6"/>
<circle cx="500.4" cy="273.8" r="1.8" fill="#F8766D" stroke="#000" stroke-width="0.6"/>
<circle cx="472.9" cy="280.1" r="1.8" fill="#F8766D" stroke="#000" stroke-width="0.6"/>
<circle cx="471.1" cy="281.1" r="1.8" fill="#F8766D" stroke="#000" stroke-width="0.6"/>
<path d="M469.8 280.2L472.1 284.2L467.5 284.2Z" fill="#00BA38" stroke="#000" stroke-width="0.6"/>
<circle cx="477.8" cy="279.9" r="1.8" fill="#F8766D" stroke="#000" stroke-width="0.6"/>
<circle cx="478.1" cy="282.8" r="1.8" fill="#F8766D" stroke="#000" stroke-width="0.6"/>
<circle cx="489.0" cy="281.7" r="1.8" fill="#F8766D" stroke="#000" stroke-width="0.6"/>
<path d="M463.5 282.9L465.8 286.9L461.2 286.9Z" fill="#00BA38" stroke="#000" stroke-width="0.6"/>
<circle cx="480.5" cy="288.5" r="1.8" fill="#F8766D" stroke="#000" stroke-width="0.6"/>
<circle cx="496.7" cy="287.2" r="1.8" fill="#F8766D" stroke="#000" stroke-width="0.6"/>
<circle cx="499.9" cy="287.2" r="1.8" fill="#F8766D" stroke="#000" stroke-width="0.6"/>
<rect x="503.6" y="283.4" width="3.0" height="3.0" fill="#619CFF" stroke="#000" stroke-width="0.6"/>
<path d="M504.4 287.1L506.7 291.1L502.1 291.1Z" fill="#00BA38" stroke="#000" stroke-width="0.6"/>
<path d="M505.9 288.4L508.2 292.4L503.6 292.4Z" fill="#00BA38" stroke="#000" stroke-width="0.6"/>
<circle cx="462.8" cy="292.0" r="1.8" fill="#F8766D" stroke="#000" stroke-width="0.6"/>
<path d="M475.1 290.4L477.4 294.4L472.8 294.4Z" fill="#00BA38" stroke="#000" stroke-width="0.6"/>
<circle cx="483.2" cy="292.7" r="1.8" fill="#F8766D" stroke="#000" stroke-width="0.6"/>
<circle cx="487.8" cy="292.0" r="1.8" fill="#F8766D" stroke="#000" stroke-width="0.6"/>
<rect x="490.9" y="288.9" width="3.0" height="3.0" fill="#619CFF" stroke="#000" stroke-width="0.6"/>
<path d="M492.5 290.7L494.8 294.7L490.2 294.7Z" fill="#00BA38" stroke="#000" stroke-width="0.6"/>
<path d="M495.3 290.8L497.6 294.8L493.0 294.8Z" fill="#00BA38" stroke="#000" stroke-width="0.6"/>
<path d="M499.4 289.8L501.7 293.8L497.1 293.8Z" fill="#00BA38" stroke="#000" stroke-width="0.6"/>
<path d="M439.7 286.2L442.0 290.2L437.4 290.2Z" fill="#00BA38" stroke="#000" stroke-width="0.6"/>
<path d="M601.5 265.3L603.8 269.3L599.2 269.3Z" fill="#00BA38" stroke="#000" stroke-width="0.6"/>
<circle cx="540.0" cy="272.6" r="1.8" fill="#F8766D" stroke="#000" stroke-width="0.6"/>
<circle cx="562.7" cy="267.8" r="1.8" fill="#F8766D" stroke="#000" stroke-width="0.6"/>
<path d="M585.5 271.0L587.8 275.0L583.2 275.0Z" fill="#00BA38" stroke="#000" stroke-width="0.6"/>
<circle cx="558.1" cy="273.9" r="1.8" fill="#F8766D" stroke="#000" stroke-width="0.6"/>
<circle cx="564.4" cy="275.8" r="1.8" fill="#F8766D" stroke="#000" stroke-width="0.6"/>
<circle cx="562.5" cy="278.2" r="1.8" fill="#F8766D" stroke="#000" stroke-width="0.6"/>
<path d="M533.8 276.4L536.1 280.4L531.5 280.4Z" fill="#00BA38" stroke="#000" stroke-width="0.6"/>
<circle cx="536.4" cy="279.8" r="1.8" fill="#F8766D" stroke="#000" stroke-width="0.6"/>
<path d="M535.3 280.7L537.6 284.7L533.0 284.7Z" fill="#00BA38" stroke="#000" stroke-width="0.6"/>
<path d="M538.9 280.7L541.2 284.7L536.6 284.7Z" fill="#00BA38" stroke="#000" stroke-width="0.6"/>
<path d="M532.9 283.9L535.2 287.9L530.6 287.9Z" fill="#00BA38" stroke="#000" stroke-width="0.6"/>
<rect x="542.3" y="284.9" width="3.0" height="3.0" fill="#619CFF" stroke="#000" stroke-width="0.6"/>
<rect x="538.2" y="287.7" width="3.0" height="3.0" fill="#619CFF" stroke="#000" stroke-width="0.6"/>
<circle cx="533.4" cy="290.7" r="1.8" fill="#F8766D" stroke="#000" stroke-width="0.6"/>
<circle cx="535.0" cy="293.4" r="1.8" fill="#F8766D" stroke="#000" stroke-width="0.6"/>
<rect x="536.6" y="292.0" width="3.0" height="3.0" fill="#619CFF" stroke="#000" stroke-width="0.6"/>
<circle cx="543.4" cy="292.3" r="1.8" fill="#F8766D" stroke="#000" stroke-width="0.6"/>
<path d="M546.6 290.5L548.9 294.5L544.3 294.5Z" fill="#00BA38" stroke="#000" stroke-width="0.6"/>
<path d="M561.1 286.8L563.4 290.8L558.8 290.8Z" fill="#00BA38" stroke="#000" stroke-width="0.6"/>
<rect x="564.5" y="285.3" width="3.0" height="3.0" fill="#619CFF" stroke="#000" stroke-width="0.6"/>
<circle cx="578.6" cy="287.4" r="1.8" fill="#F8766D" stroke="#000" stroke-width="0.6"/>
<rect x="551.3" y="291.0" width="3.0" height="3.0" fill="#619CFF" stroke="#000" stroke-width="0.6"/>
<rect x="555.3" y="292.3" width="3.0" height="3.0" fill="#619CFF" stroke="#000" stroke-width="0.6"/>
<circle cx="577.0" cy="293.1" r="1.8" fill="#F8766D" stroke="#000" stroke-width="0.6"/>
<text x="523.50" y="39.1" font-size="7.6" fill="#000">rno−miR−132−5p</text>
<text x="525.60" y="70.8" font-size="7.6" fill="#000">rno−miR−212−5p</text>
<text x="535.80" y="150.6" font-size="7.6" fill="#000">rno−miR−212−3p</text>
<text x="531.40" y="181.8" font-size="7.6" fill="#000">rno−miR−21−5p</text>
<text x="505.80" y="200.4" font-size="7.6" fill="#000">rno−miR−29a−3p</text>
<text x="470.80" y="213.6" font-size="7.6" fill="#000">rno−miR−330−3p</text>
<text x="545.40" y="220.9" font-size="7.6" fill="#000">rno−miR−132−3p</text>
<text x="469.60" y="232.7" font-size="7.6" fill="#000">rno−miR−361−5p</text>
<text x="533.60" y="232.3" font-size="7.6" fill="#000">rno−miR−148b−5p</text>
<text x="485.70" y="249.2" font-size="7.6" fill="#000">rno−miR−26a−5p</text>
<text x="639.6" y="148.9" font-size="10.3" fill="#000">Stage</text>
<rect x="639.9" y="154.9" width="10.8" height="11.2" fill="#F2F2F2"/>
<circle cx="645.3" cy="160.5" r="1.7" fill="#F8766D" stroke="#000" stroke-width="0.5"/>
<text x="656.6" y="163.80" font-size="8.3" fill="#000">Acute</text>
<rect x="639.9" y="166.65" width="10.8" height="11.2" fill="#F2F2F2"/>
<rect x="643.8" y="170.75" width="3" height="3" fill="#619CFF" stroke="#000" stroke-width="0.5"/>
<text x="656.6" y="175.55" font-size="8.3" fill="#000">Latent</text>
<rect x="639.9" y="178.4" width="10.8" height="11.2" fill="#F2F2F2"/>
<path d="M645.3 181.9L647.6999999999999 185.9L642.9 185.9Z" fill="#00BA38" stroke="#000" stroke-width="0.5"/>
<text x="656.6" y="187.30" font-size="8.3" fill="#000">Chronic</text>
</svg></body></html>
